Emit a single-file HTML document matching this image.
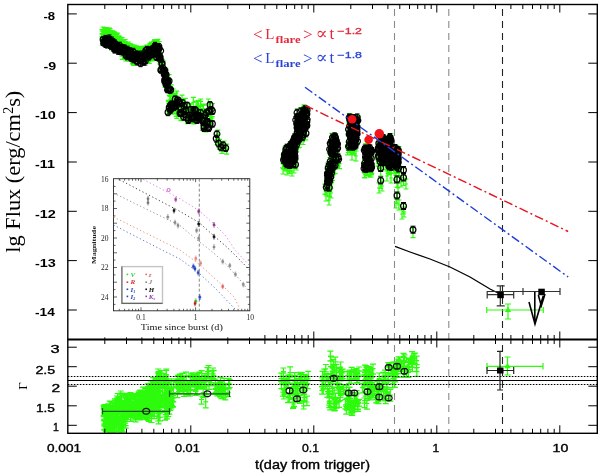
<!DOCTYPE html><html><head><meta charset="utf-8"><style>html,body{margin:0;padding:0;background:#fff;overflow:hidden}svg{display:block}</style></head><body>
<svg width="600" height="474" viewBox="0 0 600 474">
<rect width="600" height="474" fill="#fff"/>
<line x1="394.5" y1="9" x2="394.5" y2="433.3" stroke="#8a8a8a" stroke-width="1.1" stroke-dasharray="7 5"/>
<line x1="448.8" y1="9" x2="448.8" y2="433.3" stroke="#8a8a8a" stroke-width="1.1" stroke-dasharray="7 5"/>
<line x1="502.5" y1="9" x2="502.5" y2="433.3" stroke="#222" stroke-width="1.1" stroke-dasharray="7 5"/>
<path d="M102.1 29.6V36.7m-2.5 0h5M99.6 29.6h5M99.6 33.6h5M102.1 31V38m-2.5 0h5M99.6 31h5M99.6 34.2h5M102.2 37.5V45.2m-2.5 0h5M99.7 37.5h5M99.7 41h5M104.4 29.9V37.4m-2.5 0h5M101.9 29.9h5M101.9 33.2h5M103.5 31.9V39.2m-2.5 0h5M101 31.9h5M101 36h5M103.2 27V35.2m-2.5 0h5M100.7 27h5M100.7 31.4h5M104.1 32.4V40.6m-2.5 0h5M101.6 32.4h5M101.6 36.6h5M105.1 34.5V43m-2.5 0h5M102.6 34.5h5M102.6 38h5M104.4 27.8V35.7m-2.5 0h5M101.9 27.8h5M101.9 32.3h5M105.3 31V40.6m-2.5 0h5M102.8 31h5M102.8 35.7h5M105.7 31.7V39.2m-2.5 0h5M103.2 31.7h5M103.2 34.8h5M106.4 34.9V43.1m-2.5 0h5M103.9 34.9h5M103.9 39.5h5M106 28.4V36.3m-2.5 0h5M103.5 28.4h5M103.5 33.1h5M106.3 29.9V39.4m-2.5 0h5M103.8 29.9h5M103.8 34.7h5M105.8 38.8V46.4m-2.5 0h5M103.3 38.8h5M103.3 42.7h5M106.8 27.7V35.6m-2.5 0h5M104.3 27.7h5M104.3 31.5h5M107.4 34.6V42.8m-2.5 0h5M104.9 34.6h5M104.9 38.6h5M106.1 35.7V45m-2.5 0h5M103.6 35.7h5M103.6 40.5h5M107.5 29.7V35.8m-2.5 0h5M105 29.7h5M105 32.8h5M107 29V35.8m-2.5 0h5M104.5 29h5M104.5 32.7h5M108 40.1V46.9m-2.5 0h5M105.5 40.1h5M105.5 43.4h5M108.6 31.9V38.3m-2.5 0h5M106.1 31.9h5M106.1 35.1h5M108.1 29.6V37.6m-2.5 0h5M105.6 29.6h5M105.6 34.2h5M109.5 28.1V35.4m-2.5 0h5M107 28.1h5M107 32.2h5M109.5 32.7V40.9m-2.5 0h5M107 32.7h5M107 37.3h5M110 28.6V38.3m-2.5 0h5M107.5 28.6h5M107.5 33.6h5M110 38.6V46.6m-2.5 0h5M107.5 38.6h5M107.5 43.1h5M111.2 33.6V42.3m-2.5 0h5M108.7 33.6h5M108.7 38.5h5M109.7 30.4V37.2m-2.5 0h5M107.2 30.4h5M107.2 33.8h5M111 36.3V44.9m-2.5 0h5M108.5 36.3h5M108.5 41h5M110.7 33.5V43.1m-2.5 0h5M108.2 33.5h5M108.2 38.1h5M110.8 30.6V40m-2.5 0h5M108.3 30.6h5M108.3 35.5h5M110.3 31.9V40m-2.5 0h5M107.8 31.9h5M107.8 35.2h5M112.1 35.9V44.8m-2.5 0h5M109.6 35.9h5M109.6 39.9h5M112.5 31.7V39.7m-2.5 0h5M110 31.7h5M110 36.3h5M111.4 33.4V41.1m-2.5 0h5M108.9 33.4h5M108.9 36.9h5M112.8 32.2V40.9m-2.5 0h5M110.3 32.2h5M110.3 37h5M112.6 36.1V44.2m-2.5 0h5M110.1 36.1h5M110.1 40.2h5M112.5 30.8V37.2m-2.5 0h5M110 30.8h5M110 34.2h5M113.5 31.7V38.7m-2.5 0h5M111 31.7h5M111 35.2h5M113.4 35.6V44.3m-2.5 0h5M110.9 35.6h5M110.9 39.8h5M113.3 43.2V51.5m-2.5 0h5M110.8 43.2h5M110.8 47.5h5M114.3 31.9V41.4m-2.5 0h5M111.8 31.9h5M111.8 36.8h5M113.4 32V39.1m-2.5 0h5M110.9 32h5M110.9 35.9h5M113.3 34.1V43m-2.5 0h5M110.8 34.1h5M110.8 38.4h5M115 33.3V42.9m-2.5 0h5M112.5 33.3h5M112.5 38.3h5M114.9 32.6V40.3m-2.5 0h5M112.4 32.6h5M112.4 36.6h5M114.6 33.9V41.4m-2.5 0h5M112.1 33.9h5M112.1 38.3h5M115 39.4V46m-2.5 0h5M112.5 39.4h5M112.5 42.9h5M115.3 38.3V45.4m-2.5 0h5M112.8 38.3h5M112.8 41.5h5M116.4 45.8V52.6m-2.5 0h5M113.9 45.8h5M113.9 49.3h5M117.2 37.9V45.8m-2.5 0h5M114.7 37.9h5M114.7 41.1h5M117.3 33.1V40.7m-2.5 0h5M114.8 33.1h5M114.8 37h5M117.5 41.2V47.9m-2.5 0h5M115 41.2h5M115 44.7h5M117.4 35.9V42.9m-2.5 0h5M114.9 35.9h5M114.9 39.2h5M116.9 34.3V41.8m-2.5 0h5M114.4 34.3h5M114.4 37.3h5M116.8 41.4V50.2m-2.5 0h5M114.3 41.4h5M114.3 45.3h5M118.2 36.3V45.6m-2.5 0h5M115.7 36.3h5M115.7 40.6h5M118.9 35.9V44.6m-2.5 0h5M116.4 35.9h5M116.4 40.3h5M117.9 40.8V47.2m-2.5 0h5M115.4 40.8h5M115.4 43.9h5M119.7 39.8V47.7m-2.5 0h5M117.2 39.8h5M117.2 44.1h5M118.6 36.4V43.7m-2.5 0h5M116.1 36.4h5M116.1 40.3h5M118.5 40.3V50.2m-2.5 0h5M116 40.3h5M116 45.2h5M119.8 37.8V44.3m-2.5 0h5M117.3 37.8h5M117.3 40.8h5M119.6 37.1V43.2m-2.5 0h5M117.1 37.1h5M117.1 40.1h5M119.3 39.8V48m-2.5 0h5M116.8 39.8h5M116.8 43.9h5M119.7 39.4V48.8m-2.5 0h5M117.2 39.4h5M117.2 44h5M121.1 39.3V47.2m-2.5 0h5M118.6 39.3h5M118.6 43.9h5M120.6 43V52.3m-2.5 0h5M118.1 43h5M118.1 47.7h5M122.1 37.6V46m-2.5 0h5M119.6 37.6h5M119.6 41.8h5M121.8 40.5V47.5m-2.5 0h5M119.3 40.5h5M119.3 44.5h5M121.9 48.1V56.2m-2.5 0h5M119.4 48.1h5M119.4 52.1h5M122.2 43.1V50.8m-2.5 0h5M119.7 43.1h5M119.7 46.9h5M122.7 41.2V49.7m-2.5 0h5M120.2 41.2h5M120.2 45.4h5M121.5 39.5V47.5m-2.5 0h5M119 39.5h5M119 43h5M123.4 41.6V49.5m-2.5 0h5M120.9 41.6h5M120.9 45.9h5M122.9 41.3V48.4m-2.5 0h5M120.4 41.3h5M120.4 45.2h5M122.4 49.5V59.3m-2.5 0h5M119.9 49.5h5M119.9 54.4h5M123.2 39.9V48.2m-2.5 0h5M120.7 39.9h5M120.7 44.8h5M123.1 42V51m-2.5 0h5M120.6 42h5M120.6 46.1h5M124.4 41.3V50.1m-2.5 0h5M121.9 41.3h5M121.9 45.3h5M124.3 41.1V49.5m-2.5 0h5M121.8 41.1h5M121.8 44.8h5M125.1 39.5V47.5m-2.5 0h5M122.6 39.5h5M122.6 44.2h5M125 51V59.4m-2.5 0h5M122.5 51h5M122.5 55.8h5M125 43.2V51.6m-2.5 0h5M122.5 43.2h5M122.5 48.1h5M125.4 42.4V49.5m-2.5 0h5M122.9 42.4h5M122.9 45.8h5M126.2 52.1V61m-2.5 0h5M123.7 52.1h5M123.7 56.7h5M125.3 41.5V49.6m-2.5 0h5M122.8 41.5h5M122.8 46.4h5M125.9 43.5V51.6m-2.5 0h5M123.4 43.5h5M123.4 47.1h5M125.7 53.1V61m-2.5 0h5M123.2 53.1h5M123.2 57.4h5M126.9 46.3V52.9m-2.5 0h5M124.4 46.3h5M124.4 49.5h5M126.7 43V49.6m-2.5 0h5M124.2 43h5M124.2 46.2h5M127.1 44.2V53.5m-2.5 0h5M124.6 44.2h5M124.6 49h5M128.1 43.4V51.6m-2.5 0h5M125.6 43.4h5M125.6 48.2h5M127.3 43.5V51.2m-2.5 0h5M124.8 43.5h5M124.8 47.3h5M128.5 53.4V61.2m-2.5 0h5M126 53.4h5M126 58.1h5M128.4 42V51.5m-2.5 0h5M125.9 42h5M125.9 46.9h5M129.5 46.4V53.1m-2.5 0h5M127 46.4h5M127 49.9h5M128.6 44.4V53.7m-2.5 0h5M126.1 44.4h5M126.1 48.8h5M129 46.3V53.1m-2.5 0h5M126.5 46.3h5M126.5 49.6h5M129.8 46.3V52.7m-2.5 0h5M127.3 46.3h5M127.3 49.6h5M129.6 50.1V57.3m-2.5 0h5M127.1 50.1h5M127.1 53.8h5M131.1 44.4V52.4m-2.5 0h5M128.6 44.4h5M128.6 48.8h5M130.2 43.7V51.9m-2.5 0h5M127.7 43.7h5M127.7 48h5M130.5 46.2V54.5m-2.5 0h5M128 46.2h5M128 51.1h5M131.5 47V54.4m-2.5 0h5M129 47h5M129 51h5M130.6 46.9V55m-2.5 0h5M128.1 46.9h5M128.1 51.5h5M131.5 47.5V56m-2.5 0h5M129 47.5h5M129 51.1h5M131.1 48.6V54.8m-2.5 0h5M128.6 48.6h5M128.6 51.7h5M132.6 45.2V54.4m-2.5 0h5M130.1 45.2h5M130.1 49.9h5M132.7 57V64.1m-2.5 0h5M130.2 57h5M130.2 60.7h5M132.3 44.9V53.1m-2.5 0h5M129.8 44.9h5M129.8 49.8h5M132 48.1V56.4m-2.5 0h5M129.5 48.1h5M129.5 51.8h5M132.5 55.8V62.8m-2.5 0h5M130 55.8h5M130 58.9h5M132.5 46.3V54.2m-2.5 0h5M130 46.3h5M130 49.4h5M133.9 45.2V53.7m-2.5 0h5M131.4 45.2h5M131.4 50h5M134.3 48.3V56.1m-2.5 0h5M131.8 48.3h5M131.8 52.6h5M134.2 45.2V55.1m-2.5 0h5M131.7 45.2h5M131.7 50.2h5M133.7 46.7V54.5m-2.5 0h5M131.2 46.7h5M131.2 50.6h5M133.6 56.2V65.3m-2.5 0h5M131.1 56.2h5M131.1 60.8h5M134.5 48.5V54.7m-2.5 0h5M132 48.5h5M132 51.7h5M134.7 46.2V55.9m-2.5 0h5M132.2 46.2h5M132.2 51.2h5M134.5 58.7V65m-2.5 0h5M132 58.7h5M132 61.9h5M135 47V55.2m-2.5 0h5M132.5 47h5M132.5 51.6h5M135.5 46.9V54.8m-2.5 0h5M133 46.9h5M133 51.4h5M135.3 49.8V57.9m-2.5 0h5M132.8 49.8h5M132.8 53.1h5M136.5 45.9V55.2m-2.5 0h5M134 45.9h5M134 50.6h5M135.7 48.8V55.6m-2.5 0h5M133.2 48.8h5M133.2 52.4h5M137.5 48.5V57.5m-2.5 0h5M135 48.5h5M135 52.7h5M137.1 47.8V54.5m-2.5 0h5M134.6 47.8h5M134.6 51.1h5M137.6 46.8V54.5m-2.5 0h5M135.1 46.8h5M135.1 51.1h5M137.1 46.4V54.1m-2.5 0h5M134.6 46.4h5M134.6 50.7h5M138 46.9V55.3m-2.5 0h5M135.5 46.9h5M135.5 51h5M137.5 46.6V54.8m-2.5 0h5M135 46.6h5M135 51h5M137.8 49.4V58m-2.5 0h5M135.3 49.4h5M135.3 54.3h5M139.8 46.9V55.4m-2.5 0h5M137.3 46.9h5M137.3 50.7h5M139.8 47.5V54.8m-2.5 0h5M137.3 47.5h5M137.3 51.5h5M139.1 46.6V55.7m-2.5 0h5M136.6 46.6h5M136.6 50.9h5M139.8 46.3V54.4m-2.5 0h5M137.3 46.3h5M137.3 51.1h5M140.4 46.6V54.9m-2.5 0h5M137.9 46.6h5M137.9 51.5h5M140.7 47.4V56.3m-2.5 0h5M138.2 47.4h5M138.2 52.3h5M139.9 47.3V55.3m-2.5 0h5M137.4 47.3h5M137.4 51.9h5M141.3 46.6V54.6m-2.5 0h5M138.8 46.6h5M138.8 51.2h5M140.4 49.4V57.2m-2.5 0h5M137.9 49.4h5M137.9 53.5h5M141.9 48.3V56m-2.5 0h5M139.4 48.3h5M139.4 51.3h5M141.6 46.6V55m-2.5 0h5M139.1 46.6h5M139.1 50.7h5M141.2 50.3V58.3m-2.5 0h5M138.7 50.3h5M138.7 54.5h5M141.6 47.1V54.3m-2.5 0h5M139.1 47.1h5M139.1 51.1h5M142.1 47.5V54.5m-2.5 0h5M139.6 47.5h5M139.6 50.7h5M141.3 52.6V60m-2.5 0h5M138.8 52.6h5M138.8 56.8h5M143.5 46.9V54.9m-2.5 0h5M141 46.9h5M141 51.5h5M143 46.6V56.3m-2.5 0h5M140.5 46.6h5M140.5 51.5h5M143.6 47.6V55.6m-2.5 0h5M141.1 47.6h5M141.1 52.4h5M143.3 46.6V54.2m-2.5 0h5M140.8 46.6h5M140.8 50.6h5M143.2 47.1V55.3m-2.5 0h5M140.7 47.1h5M140.7 50.4h5M144.6 55V62.9m-2.5 0h5M142.1 55h5M142.1 58.3h5M144.8 46V54m-2.5 0h5M142.3 46h5M142.3 50.8h5M144.9 47.3V55.7m-2.5 0h5M142.4 47.3h5M142.4 51.1h5M145.6 49.2V57.1m-2.5 0h5M143.1 49.2h5M143.1 53.3h5M145.7 46.9V53.5m-2.5 0h5M143.2 46.9h5M143.2 50.5h5M144.7 46V54.1m-2.5 0h5M142.2 46h5M142.2 50.2h5M146.2 52.6V59.3m-2.5 0h5M143.7 52.6h5M143.7 55.9h5M146.4 46.1V53.3m-2.5 0h5M143.9 46.1h5M143.9 50h5M145.7 47V53.5m-2.5 0h5M143.2 47h5M143.2 50.3h5M146.9 52.4V60.8m-2.5 0h5M144.4 52.4h5M144.4 57h5M146.9 45V54.3m-2.5 0h5M144.4 45h5M144.4 49.8h5M147.8 46.7V53.9m-2.5 0h5M145.3 46.7h5M145.3 49.8h5M146.5 51V58.7m-2.5 0h5M144 51h5M144 54.1h5M147.8 45.3V54.3m-2.5 0h5M145.3 45.3h5M145.3 49.6h5M147.4 46V52.7m-2.5 0h5M144.9 46h5M144.9 49.6h5M148.4 54.5V61.9m-2.5 0h5M145.9 54.5h5M145.9 58.9h5M149.1 45V54.1m-2.5 0h5M146.6 45h5M146.6 49.4h5M148.1 45.3V53.3m-2.5 0h5M145.6 45.3h5M145.6 49.4h5M148.6 54V61.8m-2.5 0h5M146.1 54h5M146.1 57.5h5M150.2 45.5V52.7m-2.5 0h5M147.7 45.5h5M147.7 49.2h5M149.7 44.9V53.6m-2.5 0h5M147.2 44.9h5M147.2 49.2h5M149.3 54.4V63.5m-2.5 0h5M146.8 54.4h5M146.8 59.1h5M149.3 45.6V53.7m-2.5 0h5M146.8 45.6h5M146.8 48.8h5M149.5 45.8V51.9m-2.5 0h5M147 45.8h5M147 48.8h5M150.5 51.5V60.3m-2.5 0h5M148 51.5h5M148 55.8h5M150.1 43.3V52.9m-2.5 0h5M147.6 43.3h5M147.6 48h5M150.2 44.6V51.3m-2.5 0h5M147.7 44.6h5M147.7 48.1h5M151.7 43.7V52.6m-2.5 0h5M149.2 43.7h5M149.2 48.3h5M151.3 43.6V51.6m-2.5 0h5M148.8 43.6h5M148.8 47.1h5M151.4 42.2V51.2m-2.5 0h5M148.9 42.2h5M148.9 47.2h5M152 54V60.9m-2.5 0h5M149.5 54h5M149.5 57.1h5M151.6 42.9V50.8m-2.5 0h5M149.1 42.9h5M149.1 46.3h5M151.6 42.5V50.4m-2.5 0h5M149.1 42.5h5M149.1 46.4h5M152 52.2V59.9m-2.5 0h5M149.5 52.2h5M149.5 56.2h5M154 41.1V50.1m-2.5 0h5M151.5 41.1h5M151.5 45.5h5M153.1 42V49.6m-2.5 0h5M150.6 42h5M150.6 45.8h5M152.6 52.4V60.3m-2.5 0h5M150.1 52.4h5M150.1 57.2h5M153.7 41.5V49.4m-2.5 0h5M151.2 41.5h5M151.2 45.4h5M154.7 41V49m-2.5 0h5M152.2 41h5M152.2 45.3h5M153.5 44.5V53.5m-2.5 0h5M151 44.5h5M151 49.2h5M154.6 39.6V48.7m-2.5 0h5M152.1 39.6h5M152.1 44h5M154.3 40.5V47.6m-2.5 0h5M151.8 40.5h5M151.8 44h5M154.3 47.8V54.9m-2.5 0h5M151.8 47.8h5M151.8 51.5h5M155.2 40V47.5m-2.5 0h5M152.7 40h5M152.7 44.3h5M155.6 40.9V47.8m-2.5 0h5M153.1 40.9h5M153.1 44h5M156.2 51.3V59.6m-2.5 0h5M153.7 51.3h5M153.7 55.3h5M156.1 39.8V49m-2.5 0h5M153.6 39.8h5M153.6 44.3h5M157 40.2V49.2m-2.5 0h5M154.5 40.2h5M154.5 44.9h5M156.5 49.4V57.3m-2.5 0h5M154 49.4h5M154 53.1h5M157.2 40V48.2m-2.5 0h5M154.7 40h5M154.7 44h5M157.8 39.4V47.6m-2.5 0h5M155.3 39.4h5M155.3 44.3h5M158 49.4V57.1m-2.5 0h5M155.5 49.4h5M155.5 53.2h5M167.7 83.8V91.8m-2.5 0h5M165.2 83.8h5M165.7 87.8h4M169.1 74.6V82.6m-2.5 0h5M166.6 74.6h5M167.1 78.6h4M164.1 67.5V75.5m-2.5 0h5M161.6 67.5h5M162.1 71.5h4M166.2 69.9V77.9m-2.5 0h5M163.7 69.9h5M164.2 73.9h4M168.5 84V92m-2.5 0h5M166 84h5M166.5 88h4M165.6 75.2V83.2m-2.5 0h5M163.1 75.2h5M163.6 79.2h4M156.8 40.7V48.7m-2.5 0h5M154.3 40.7h5M154.8 44.7h4M162.3 59.4V67.4m-2.5 0h5M159.8 59.4h5M160.3 63.4h4M159.9 55.8V63.8m-2.5 0h5M157.4 55.8h5M157.9 59.8h4M162.1 64.6V72.6m-2.5 0h5M159.6 64.6h5M160.1 68.6h4M158.9 52.6V60.6m-2.5 0h5M156.4 52.6h5M156.9 56.6h4M164.4 68.5V76.5m-2.5 0h5M161.9 68.5h5M162.4 72.5h4M169.3 87.3V95.3m-2.5 0h5M166.8 87.3h5M167.3 91.3h4M166.9 78.8V86.8m-2.5 0h5M164.4 78.8h5M164.9 82.8h4M160.4 48.9V56.9m-2.5 0h5M157.9 48.9h5M158.4 52.9h4M159.7 52.9V60.9m-2.5 0h5M157.2 52.9h5M157.7 56.9h4M157.8 48.2V56.2m-2.5 0h5M155.3 48.2h5M155.8 52.2h4M159.5 51.8V59.8m-2.5 0h5M157 51.8h5M157.5 55.8h4M165 72.9V80.9m-2.5 0h5M162.5 72.9h5M163 76.9h4M166.5 82.7V90.7m-2.5 0h5M164 82.7h5M164.5 86.7h4M165.8 77.9V85.9m-2.5 0h5M163.3 77.9h5M163.8 81.9h4M156 42.6V50.6m-2.5 0h5M153.5 42.6h5M154 46.6h4M157.9 50.9V58.9m-2.5 0h5M155.4 50.9h5M155.9 54.9h4M165.3 79.1V87.1m-2.5 0h5M162.8 79.1h5M163.3 83.1h4M166.2 78.1V86.1m-2.5 0h5M163.7 78.1h5M164.2 82.1h4M168.5 78.7V86.7m-2.5 0h5M166 78.7h5M166.5 82.7h4M166.7 79.8V87.8m-2.5 0h5M164.2 79.8h5M164.7 83.8h4M166.6 75.5V83.5m-2.5 0h5M164.1 75.5h5M164.6 79.5h4M158.7 53.1V61.1m-2.5 0h5M156.2 53.1h5M156.7 57.1h4M157.2 43.6V51.6m-2.5 0h5M154.7 43.6h5M155.2 47.6h4M163.7 61V69m-2.5 0h5M161.2 61h5M161.7 65h4M167.8 80.7V88.7m-2.5 0h5M165.3 80.7h5M165.8 84.7h4M167.1 82.4V90.4m-2.5 0h5M164.6 82.4h5M165.1 86.4h4M159.3 41.6V49.6m-2.5 0h5M156.8 41.6h5M157.3 45.6h4M165.8 68V76m-2.5 0h5M163.3 68h5M163.8 72h4M170 88.5V96.5m-2.5 0h5M167.5 88.5h5M168 92.5h4M159.1 41.6V49.6m-2.5 0h5M156.6 41.6h5M157.1 45.6h4M167.5 80.8V88.8m-2.5 0h5M165 80.8h5M165.5 84.8h4M165.1 76V84m-2.5 0h5M162.6 76h5M163.1 80h4M164.4 68.5V76.5m-2.5 0h5M161.9 68.5h5M162.4 72.5h4M161.8 59.6V67.6m-2.5 0h5M159.3 59.6h5M159.8 63.6h4M171.3 84.8V92.8m-2.5 0h5M168.8 84.8h5M169.3 88.8h4M160.6 56.4V64.4m-2.5 0h5M158.1 56.4h5M158.6 60.4h4M165 79.4V87.4m-2.5 0h5M162.5 79.4h5M163 83.4h4M160.4 63.1V71.1m-2.5 0h5M157.9 63.1h5M158.4 67.1h4M168.3 100.4V110.4m-2.5 0h5M165.8 100.4h5M166.3 105.4h4M168.8 103.6V113.6m-2.5 0h5M166.3 103.6h5M166.8 108.6h4M169.4 101.9V111.9m-2.5 0h5M166.9 101.9h5M167.4 106.9h4M168.6 101.6V111.6m-2.5 0h5M166.1 101.6h5M166.6 106.6h4M169.8 90.9V100.9m-2.5 0h5M167.3 90.9h5M167.8 95.9h4M170.9 89.7V99.7m-2.5 0h5M168.4 89.7h5M168.9 94.7h4M172.2 104.1V114.1m-2.5 0h5M169.7 104.1h5M170.2 109.1h4M171.1 99.2V109.2m-2.5 0h5M168.6 99.2h5M169.1 104.2h4M172.7 94.5V104.5m-2.5 0h5M170.2 94.5h5M170.7 99.5h4M173.7 100.6V110.6m-2.5 0h5M171.2 100.6h5M171.7 105.6h4M173.2 89V99m-2.5 0h5M170.7 89h5M171.2 94h4M174.2 103.8V113.8m-2.5 0h5M171.7 103.8h5M172.2 108.8h4M175.4 95.7V105.7m-2.5 0h5M172.9 95.7h5M173.4 100.7h4M176.2 106.3V116.3m-2.5 0h5M173.7 106.3h5M174.2 111.3h4M176.7 91.1V101.1m-2.5 0h5M174.2 91.1h5M174.7 96.1h4M175.7 93.2V103.2m-2.5 0h5M173.2 93.2h5M173.7 98.2h4M176.8 103V113m-2.5 0h5M174.3 103h5M174.8 108h4M176.8 108.4V118.4m-2.5 0h5M174.3 108.4h5M174.8 113.4h4M178.3 104.5V114.5m-2.5 0h5M175.8 104.5h5M176.3 109.5h4M178.2 104.8V114.8m-2.5 0h5M175.7 104.8h5M176.2 109.8h4M180.7 105.2V115.2m-2.5 0h5M178.2 105.2h5M178.7 110.2h4M179.2 105.5V115.5m-2.5 0h5M176.7 105.5h5M177.2 110.5h4M180.7 110.1V120.1m-2.5 0h5M178.2 110.1h5M178.7 115.1h4M181.6 110.7V120.7m-2.5 0h5M179.1 110.7h5M179.6 115.7h4M183 105.7V115.7m-2.5 0h5M180.5 105.7h5M181 110.7h4M182 95.2V105.2m-2.5 0h5M179.5 95.2h5M180 100.2h4M182.7 103.6V113.6m-2.5 0h5M180.2 103.6h5M180.7 108.6h4M183.7 101.4V111.4m-2.5 0h5M181.2 101.4h5M181.7 106.4h4M185.4 98.3V108.3m-2.5 0h5M182.9 98.3h5M183.4 103.3h4M185.1 102.2V112.2m-2.5 0h5M182.6 102.2h5M183.1 107.2h4M186.9 110.1V120.1m-2.5 0h5M184.4 110.1h5M184.9 115.1h4M186.1 110V120m-2.5 0h5M183.6 110h5M184.1 115h4M187.6 113.7V123.7m-2.5 0h5M185.1 113.7h5M185.6 118.7h4M186.9 111V121m-2.5 0h5M184.4 111h5M184.9 116h4M188 106.9V116.9m-2.5 0h5M185.5 106.9h5M186 111.9h4M189.2 103.7V113.7m-2.5 0h5M186.7 103.7h5M187.2 108.7h4M190.4 107V117m-2.5 0h5M187.9 107h5M188.4 112h4M189.2 110.9V120.9m-2.5 0h5M186.7 110.9h5M187.2 115.9h4M191 103.8V113.8m-2.5 0h5M188.5 103.8h5M189 108.8h4M191.6 111.2V121.2m-2.5 0h5M189.1 111.2h5M189.6 116.2h4M192.7 111.3V121.3m-2.5 0h5M190.2 111.3h5M190.7 116.3h4M191.5 106.7V116.7m-2.5 0h5M189 106.7h5M189.5 111.7h4M192.9 113.4V123.4m-2.5 0h5M190.4 113.4h5M190.9 118.4h4M193.3 97.4V107.4m-2.5 0h5M190.8 97.4h5M191.3 102.4h4M193.9 113.9V123.9m-2.5 0h5M191.4 113.9h5M191.9 118.9h4M194.8 107.6V117.6m-2.5 0h5M192.3 107.6h5M192.8 112.6h4M196.1 101.1V111.1m-2.5 0h5M193.6 101.1h5M194.1 106.1h4M195.5 111.7V121.7m-2.5 0h5M193 111.7h5M193.5 116.7h4M196.3 112.1V122.1m-2.5 0h5M193.8 112.1h5M194.3 117.1h4M197.6 108.3V118.3m-2.5 0h5M195.1 108.3h5M195.6 113.3h4M197.4 109.2V119.2m-2.5 0h5M194.9 109.2h5M195.4 114.2h4M197.4 101V111m-2.5 0h5M194.9 101h5M195.4 106h4M199.2 106.1V116.1m-2.5 0h5M196.7 106.1h5M197.2 111.1h4M198.3 100.7V110.7m-2.5 0h5M195.8 100.7h5M196.3 105.7h4M201 111.7V121.7m-2.5 0h5M198.5 111.7h5M199 116.7h4M200.6 101.4V111.4m-2.5 0h5M198.1 101.4h5M198.6 106.4h4M200.7 99V109m-2.5 0h5M198.2 99h5M198.7 104h4M202.3 120.4V130.4m-2.5 0h5M199.8 120.4h5M200.3 125.4h4M203.4 105V115m-2.5 0h5M200.9 105h5M201.4 110h4M203.7 108.6V118.6m-2.5 0h5M201.2 108.6h5M201.7 113.6h4M203.1 105.4V115.4m-2.5 0h5M200.6 105.4h5M201.1 110.4h4M203.4 104.2V114.2m-2.5 0h5M200.9 104.2h5M201.4 109.2h4M205.9 112.9V122.9m-2.5 0h5M203.4 112.9h5M203.9 117.9h4M206.1 110.6V120.6m-2.5 0h5M203.6 110.6h5M204.1 115.6h4M205.6 108.6V118.6m-2.5 0h5M203.1 108.6h5M203.6 113.6h4M205.9 121.9V131.9m-2.5 0h5M203.4 121.9h5M203.9 126.9h4M207.4 114.6V124.6m-2.5 0h5M204.9 114.6h5M205.4 119.6h4M206.9 109.3V119.3m-2.5 0h5M204.4 109.3h5M204.9 114.3h4M208.3 99V109m-2.5 0h5M205.8 99h5M206.3 104h4M209.6 106.5V116.5m-2.5 0h5M207.1 106.5h5M207.6 111.5h4M210.4 116.5V126.5m-2.5 0h5M207.9 116.5h5M208.4 121.5h4M211 113.1V123.1m-2.5 0h5M208.5 113.1h5M209 118.1h4M212.1 116.5V126.5m-2.5 0h5M209.6 116.5h5M210.1 121.5h4M210.8 114.7V124.7m-2.5 0h5M208.3 114.7h5M208.8 119.7h4M211.9 108V118m-2.5 0h5M209.4 108h5M209.9 113h4M212.4 103.7V113.7m-2.5 0h5M209.9 103.7h5M210.4 108.7h4M217.2 134.6V144.6m-2.5 0h5M214.7 134.6h5M215.2 139.6h4M219.6 139.4V149.4m-2.5 0h5M217.1 139.4h5M217.6 144.4h4M222 143.3V153.3m-2.5 0h5M219.5 143.3h5M220 148.3h4M226.7 144.1V154.1m-2.5 0h5M224.2 144.1h5M224.7 149.1h4M218 130V140m-2.5 0h5M215.5 130h5M216 135h4M224 141V151m-2.5 0h5M221.5 141h5M222 146h4M297.7 116.8V126.8m-2.5 0h5M295.2 116.8h5M295.7 121.8h4M304 104.9V114.9m-2.5 0h5M301.5 104.9h5M302 109.9h4M286.8 160.3V170.3m-2.5 0h5M284.3 160.3h5M284.8 165.3h4M285.1 154.3V164.3m-2.5 0h5M282.6 154.3h5M283.1 159.3h4M293.8 158.3V168.3m-2.5 0h5M291.3 158.3h5M291.8 163.3h4M304.9 126.2V136.2m-2.5 0h5M302.4 126.2h5M302.9 131.2h4M297.3 115.6V125.6m-2.5 0h5M294.8 115.6h5M295.3 120.6h4M294.9 136.3V146.3m-2.5 0h5M292.4 136.3h5M292.9 141.3h4M296.8 131.3V141.3m-2.5 0h5M294.3 131.3h5M294.8 136.3h4M297.4 124.3V134.3m-2.5 0h5M294.9 124.3h5M295.4 129.3h4M285.8 154.9V164.9m-2.5 0h5M283.3 154.9h5M283.8 159.9h4M290.9 156.5V166.5m-2.5 0h5M288.4 156.5h5M288.9 161.5h4M297.9 121.9V131.9m-2.5 0h5M295.4 121.9h5M295.9 126.9h4M296.3 160V170m-2.5 0h5M293.8 160h5M294.3 165h4M305 123.8V133.8m-2.5 0h5M302.5 123.8h5M303 128.8h4M305.9 124.5V134.5m-2.5 0h5M303.4 124.5h5M303.9 129.5h4M296.1 127.3V137.3m-2.5 0h5M293.6 127.3h5M294.1 132.3h4M295.1 138V148m-2.5 0h5M292.6 138h5M293.1 143h4M301.6 117.1V127.1m-2.5 0h5M299.1 117.1h5M299.6 122.1h4M291.7 147.5V157.5m-2.5 0h5M289.2 147.5h5M289.7 152.5h4M303.1 110.3V120.3m-2.5 0h5M300.6 110.3h5M301.1 115.3h4M303.2 119.6V129.6m-2.5 0h5M300.7 119.6h5M301.2 124.6h4M292.8 140.3V150.3m-2.5 0h5M290.3 140.3h5M290.8 145.3h4M302.7 130.9V140.9m-2.5 0h5M300.2 130.9h5M300.7 135.9h4M305.9 125.2V135.2m-2.5 0h5M303.4 125.2h5M303.9 130.2h4M307 109.2V119.2m-2.5 0h5M304.5 109.2h5M305 114.2h4M298.3 120.7V130.7m-2.5 0h5M295.8 120.7h5M296.3 125.7h4M300.2 113.2V123.2m-2.5 0h5M297.7 113.2h5M298.2 118.2h4M297.5 133.7V143.7m-2.5 0h5M295 133.7h5M295.5 138.7h4M294.6 145.6V155.6m-2.5 0h5M292.1 145.6h5M292.6 150.6h4M290 144.1V154.1m-2.5 0h5M287.5 144.1h5M288 149.1h4M294.9 155.4V165.4m-2.5 0h5M292.4 155.4h5M292.9 160.4h4M296.8 138.5V148.5m-2.5 0h5M294.3 138.5h5M294.8 143.5h4M296.9 117.8V127.8m-2.5 0h5M294.4 117.8h5M294.9 122.8h4M283.5 153.3V163.3m-2.5 0h5M281 153.3h5M281.5 158.3h4M295.9 117.8V127.8m-2.5 0h5M293.4 117.8h5M293.9 122.8h4M298.6 137.6V147.6m-2.5 0h5M296.1 137.6h5M296.6 142.6h4M285.1 146.6V156.6m-2.5 0h5M282.6 146.6h5M283.1 151.6h4M296 134.1V144.1m-2.5 0h5M293.5 134.1h5M294 139.1h4M303.5 112.4V122.4m-2.5 0h5M301 112.4h5M301.5 117.4h4M296.4 140.2V150.2m-2.5 0h5M293.9 140.2h5M294.4 145.2h4M287.8 160.7V170.7m-2.5 0h5M285.3 160.7h5M285.8 165.7h4M297.8 137.3V147.3m-2.5 0h5M295.3 137.3h5M295.8 142.3h4M297.9 125.1V135.1m-2.5 0h5M295.4 125.1h5M295.9 130.1h4M293.9 163V173m-2.5 0h5M291.4 163h5M291.9 168h4M284.4 156.3V166.3m-2.5 0h5M281.9 156.3h5M282.4 161.3h4M286.1 159.5V169.5m-2.5 0h5M283.6 159.5h5M284.1 164.5h4M300.7 126.6V136.6m-2.5 0h5M298.2 126.6h5M298.7 131.6h4M293.7 137.1V147.1m-2.5 0h5M291.2 137.1h5M291.7 142.1h4M295.1 151.5V161.5m-2.5 0h5M292.6 151.5h5M293.1 156.5h4M293.2 156.7V166.7m-2.5 0h5M290.7 156.7h5M291.2 161.7h4M303 121.6V131.6m-2.5 0h5M300.5 121.6h5M301 126.6h4M290.4 158.4V168.4m-2.5 0h5M287.9 158.4h5M288.4 163.4h4M305.6 129.8V139.8m-2.5 0h5M303.1 129.8h5M303.6 134.8h4M290.3 145V155m-2.5 0h5M287.8 145h5M288.3 150h4M296.2 135.4V145.4m-2.5 0h5M293.7 135.4h5M294.2 140.4h4M296.3 113.8V123.8m-2.5 0h5M293.8 113.8h5M294.3 118.8h4M298.2 127.2V137.2m-2.5 0h5M295.7 127.2h5M296.2 132.2h4M299.3 137.4V147.4m-2.5 0h5M296.8 137.4h5M297.3 142.4h4M291 142.7V152.7m-2.5 0h5M288.5 142.7h5M289 147.7h4M297.4 136.2V146.2m-2.5 0h5M294.9 136.2h5M295.4 141.2h4M298.1 119.5V129.5m-2.5 0h5M295.6 119.5h5M296.1 124.5h4M292.3 141.1V151.1m-2.5 0h5M289.8 141.1h5M290.3 146.1h4M302.1 118.8V128.8m-2.5 0h5M299.6 118.8h5M300.1 123.8h4M287.2 160.1V170.1m-2.5 0h5M284.7 160.1h5M285.2 165.1h4M306.3 108.1V118.1m-2.5 0h5M303.8 108.1h5M304.3 113.1h4M300.9 126.3V136.3m-2.5 0h5M298.4 126.3h5M298.9 131.3h4M307.4 117.4V127.4m-2.5 0h5M304.9 117.4h5M305.4 122.4h4M299.9 126V136m-2.5 0h5M297.4 126h5M297.9 131h4M293.4 155.3V165.3m-2.5 0h5M290.9 155.3h5M291.4 160.3h4M292.8 149.5V159.5m-2.5 0h5M290.3 149.5h5M290.8 154.5h4M294.2 148V158m-2.5 0h5M291.7 148h5M292.2 153h4M305.4 106.7V116.7m-2.5 0h5M302.9 106.7h5M303.4 111.7h4M290 161.8V171.8m-2.5 0h5M287.5 161.8h5M288 166.8h4M290.6 155.1V165.1m-2.5 0h5M288.1 155.1h5M288.6 160.1h4M302.5 131.6V141.6m-2.5 0h5M300 131.6h5M300.5 136.6h4M295.3 139V149m-2.5 0h5M292.8 139h5M293.3 144h4M289.5 152.5V162.5m-2.5 0h5M287 152.5h5M287.5 157.5h4M297.3 123.9V133.9m-2.5 0h5M294.8 123.9h5M295.3 128.9h4M306.6 113.1V123.1m-2.5 0h5M304.1 113.1h5M304.6 118.1h4M294.4 153.1V163.1m-2.5 0h5M291.9 153.1h5M292.4 158.1h4M282.6 157.8V167.8m-2.5 0h5M280.1 157.8h5M280.6 162.8h4M303.1 134.5V144.5m-2.5 0h5M300.6 134.5h5M301.1 139.5h4M289.4 163.3V173.3m-2.5 0h5M286.9 163.3h5M287.4 168.3h4M299.7 127.6V137.6m-2.5 0h5M297.2 127.6h5M297.7 132.6h4M291.6 157.6V167.6m-2.5 0h5M289.1 157.6h5M289.6 162.6h4M300.1 127.8V137.8m-2.5 0h5M297.6 127.8h5M298.1 132.8h4M295 155.5V165.5m-2.5 0h5M292.5 155.5h5M293 160.5h4M296.7 141.6V151.6m-2.5 0h5M294.2 141.6h5M294.7 146.6h4M285.6 154.6V164.6m-2.5 0h5M283.1 154.6h5M283.6 159.6h4M289.1 154.7V164.7m-2.5 0h5M286.6 154.7h5M287.1 159.7h4M295.4 147.1V157.1m-2.5 0h5M292.9 147.1h5M293.4 152.1h4M296.8 130.1V140.1m-2.5 0h5M294.3 130.1h5M294.8 135.1h4M295.2 135.4V145.4m-2.5 0h5M292.7 135.4h5M293.2 140.4h4M294.7 141V151m-2.5 0h5M292.2 141h5M292.7 146h4M301.3 107.9V117.9m-2.5 0h5M298.8 107.9h5M299.3 112.9h4M286.5 146.9V156.9m-2.5 0h5M284 146.9h5M284.5 151.9h4M295.4 139.3V149.3m-2.5 0h5M292.9 139.3h5M293.4 144.3h4M295.3 137.6V147.6m-2.5 0h5M292.8 137.6h5M293.3 142.6h4M289.9 160.4V170.4m-2.5 0h5M287.4 160.4h5M287.9 165.4h4M303.9 113.3V123.3m-2.5 0h5M301.4 113.3h5M301.9 118.3h4M302.5 116.6V126.6m-2.5 0h5M300 116.6h5M300.5 121.6h4M283.8 153V163m-2.5 0h5M281.3 153h5M281.8 158h4M303.4 122.9V132.9m-2.5 0h5M300.9 122.9h5M301.4 127.9h4M297.5 121.8V131.8m-2.5 0h5M295 121.8h5M295.5 126.8h4M300.4 123.8V133.8m-2.5 0h5M297.9 123.8h5M298.4 128.8h4M291.4 156.1V166.1m-2.5 0h5M288.9 156.1h5M289.4 161.1h4M291.4 143.4V153.4m-2.5 0h5M288.9 143.4h5M289.4 148.4h4M288.2 155.9V165.9m-2.5 0h5M285.7 155.9h5M286.2 160.9h4M303.4 123.5V133.5m-2.5 0h5M300.9 123.5h5M301.4 128.5h4M285.9 160.8V170.8m-2.5 0h5M283.4 160.8h5M283.9 165.8h4M299.9 118.8V128.8m-2.5 0h5M297.4 118.8h5M297.9 123.8h4M286.2 150.2V160.2m-2.5 0h5M283.7 150.2h5M284.2 155.2h4M306.8 117.3V127.3m-2.5 0h5M304.3 117.3h5M304.8 122.3h4M301.9 112.4V122.4m-2.5 0h5M299.4 112.4h5M299.9 117.4h4M297.7 109.4V119.4m-2.5 0h5M295.2 109.4h5M295.7 114.4h4M297.3 118.9V128.9m-2.5 0h5M294.8 118.9h5M295.3 123.9h4M303.6 106.7V116.7m-2.5 0h5M301.1 106.7h5M301.6 111.7h4M286.4 147.7V157.7m-2.5 0h5M283.9 147.7h5M284.4 152.7h4M301.6 115.2V125.2m-2.5 0h5M299.1 115.2h5M299.6 120.2h4M300.2 114.8V124.8m-2.5 0h5M297.7 114.8h5M298.2 119.8h4M286.6 160.2V170.2m-2.5 0h5M284.1 160.2h5M284.6 165.2h4M300.1 120.3V130.3m-2.5 0h5M297.6 120.3h5M298.1 125.3h4M337.9 145.2V155.2m-2.5 0h5M335.4 145.2h5M335.9 150.2h4M334.4 146.9V156.9m-2.5 0h5M331.9 146.9h5M332.4 151.9h4M334.2 137.1V147.1m-2.5 0h5M331.7 137.1h5M332.2 142.1h4M328.9 174.3V184.3m-2.5 0h5M326.4 174.3h5M326.9 179.3h4M332.1 147V157m-2.5 0h5M329.6 147h5M330.1 152h4M328.1 176.3V186.3m-2.5 0h5M325.6 176.3h5M326.1 181.3h4M331 161.4V171.4m-2.5 0h5M328.5 161.4h5M329 166.4h4M331.9 133.3V143.3m-2.5 0h5M329.4 133.3h5M329.9 138.3h4M328.3 173V183m-2.5 0h5M325.8 173h5M326.3 178h4M331.6 172.3V182.3m-2.5 0h5M329.1 172.3h5M329.6 177.3h4M330 147.5V157.5m-2.5 0h5M327.5 147.5h5M328 152.5h4M333.5 151.8V161.8m-2.5 0h5M331 151.8h5M331.5 156.8h4M336.9 145.8V155.8m-2.5 0h5M334.4 145.8h5M334.9 150.8h4M331.4 142.7V152.7m-2.5 0h5M328.9 142.7h5M329.4 147.7h4M326.5 169V179m-2.5 0h5M324 169h5M324.5 174h4M332 140.1V150.1m-2.5 0h5M329.5 140.1h5M330 145.1h4M334.7 150.3V160.3m-2.5 0h5M332.2 150.3h5M332.7 155.3h4M333 162.5V172.5m-2.5 0h5M330.5 162.5h5M331 167.5h4M328 170.8V180.8m-2.5 0h5M325.5 170.8h5M326 175.8h4M327.2 176V186m-2.5 0h5M324.7 176h5M325.2 181h4M327.7 163V173m-2.5 0h5M325.2 163h5M325.7 168h4M328.5 176.3V186.3m-2.5 0h5M326 176.3h5M326.5 181.3h4M335.4 137.5V147.5m-2.5 0h5M332.9 137.5h5M333.4 142.5h4M326.9 179.3V189.3m-2.5 0h5M324.4 179.3h5M324.9 184.3h4M338.6 156V166m-2.5 0h5M336.1 156h5M336.6 161h4M329.2 174.9V184.9m-2.5 0h5M326.7 174.9h5M327.2 179.9h4M329.4 172V182m-2.5 0h5M326.9 172h5M327.4 177h4M335.4 139.5V149.5m-2.5 0h5M332.9 139.5h5M333.4 144.5h4M327.9 178.2V188.2m-2.5 0h5M325.4 178.2h5M325.9 183.2h4M330.1 164.4V174.4m-2.5 0h5M327.6 164.4h5M328.1 169.4h4M332.6 150.2V160.2m-2.5 0h5M330.1 150.2h5M330.6 155.2h4M336.1 137.7V147.7m-2.5 0h5M333.6 137.7h5M334.1 142.7h4M334 147V157m-2.5 0h5M331.5 147h5M332 152h4M332.9 149V159m-2.5 0h5M330.4 149h5M330.9 154h4M331.4 162.7V172.7m-2.5 0h5M328.9 162.7h5M329.4 167.7h4M328 173.8V183.8m-2.5 0h5M325.5 173.8h5M326 178.8h4M337.3 154.9V164.9m-2.5 0h5M334.8 154.9h5M335.3 159.9h4M332.1 145.2V155.2m-2.5 0h5M329.6 145.2h5M330.1 150.2h4M331.6 146.7V156.7m-2.5 0h5M329.1 146.7h5M329.6 151.7h4M332.4 137V147m-2.5 0h5M329.9 137h5M330.4 142h4M329.2 143.2V153.2m-2.5 0h5M326.7 143.2h5M327.2 148.2h4M327.8 175.2V185.2m-2.5 0h5M325.3 175.2h5M325.8 180.2h4M329 162.2V172.2m-2.5 0h5M326.5 162.2h5M327 167.2h4M333.4 144V154m-2.5 0h5M330.9 144h5M331.4 149h4M331.8 167.7V177.7m-2.5 0h5M329.3 167.7h5M329.8 172.7h4M331 143V153m-2.5 0h5M328.5 143h5M329 148h4M330.3 172.5V182.5m-2.5 0h5M327.8 172.5h5M328.3 177.5h4M333.1 164.9V174.9m-2.5 0h5M330.6 164.9h5M331.1 169.9h4M331 173.8V183.8m-2.5 0h5M328.5 173.8h5M329 178.8h4M336.5 141V151m-2.5 0h5M334 141h5M334.5 146h4M331.9 160.5V170.5m-2.5 0h5M329.4 160.5h5M329.9 165.5h4M334.8 135.4V145.4m-2.5 0h5M332.3 135.4h5M332.8 140.4h4M332.5 170.3V180.3m-2.5 0h5M330 170.3h5M330.5 175.3h4M329.8 159.4V169.4m-2.5 0h5M327.3 159.4h5M327.8 164.4h4M334.9 135.6V145.6m-2.5 0h5M332.4 135.6h5M332.9 140.6h4M325.2 184.5V194.5m-2.5 0h5M322.7 184.5h5M323.2 189.5h4M335 143.7V153.7m-2.5 0h5M332.5 143.7h5M333 148.7h4M329.6 177.5V187.5m-2.5 0h5M327.1 177.5h5M327.6 182.5h4M329.9 167.1V177.1m-2.5 0h5M327.4 167.1h5M327.9 172.1h4M336.3 157.6V167.6m-2.5 0h5M333.8 157.6h5M334.3 162.6h4M332.1 140.9V150.9m-2.5 0h5M329.6 140.9h5M330.1 145.9h4M330.3 149.8V159.8m-2.5 0h5M327.8 149.8h5M328.3 154.8h4M339.5 158.7V168.7m-2.5 0h5M337 158.7h5M337.5 163.7h4M329.5 186.6V196.6m-2.5 0h5M327 186.6h5M327.5 191.6h4M335.7 133.8V143.8m-2.5 0h5M333.2 133.8h5M333.7 138.8h4M335.1 163.6V173.6m-2.5 0h5M332.6 163.6h5M333.1 168.6h4M333.3 145.6V155.6m-2.5 0h5M330.8 145.6h5M331.3 150.6h4M335.5 139.8V149.8m-2.5 0h5M333 139.8h5M333.5 144.8h4M329.5 167.4V177.4m-2.5 0h5M327 167.4h5M327.5 172.4h4M333.1 158.7V168.7m-2.5 0h5M330.6 158.7h5M331.1 163.7h4M337.6 139.5V149.5m-2.5 0h5M335.1 139.5h5M335.6 144.5h4M326.6 179.1V189.1m-2.5 0h5M324.1 179.1h5M324.6 184.1h4M334 144V154m-2.5 0h5M331.5 144h5M332 149h4M349.2 132.1V142.1m-2.5 0h5M346.7 132.1h5M347.2 137.1h4M351.2 116.6V126.6m-2.5 0h5M348.7 116.6h5M349.2 121.6h4M353.9 141.7V151.7m-2.5 0h5M351.4 141.7h5M351.9 146.7h4M358.3 115.9V125.9m-2.5 0h5M355.8 115.9h5M356.3 120.9h4M351.3 141.7V151.7m-2.5 0h5M348.8 141.7h5M349.3 146.7h4M355 132.8V142.8m-2.5 0h5M352.5 132.8h5M353 137.8h4M350.1 113.8V123.8m-2.5 0h5M347.6 113.8h5M348.1 118.8h4M349.7 133.4V143.4m-2.5 0h5M347.2 133.4h5M347.7 138.4h4M357.1 129.1V139.1m-2.5 0h5M354.6 129.1h5M355.1 134.1h4M357.9 129.7V139.7m-2.5 0h5M355.4 129.7h5M355.9 134.7h4M351.9 137.8V147.8m-2.5 0h5M349.4 137.8h5M349.9 142.8h4M349 140.5V150.5m-2.5 0h5M346.5 140.5h5M347 145.5h4M354.3 143.5V153.5m-2.5 0h5M351.8 143.5h5M352.3 148.5h4M354.1 115.6V125.6m-2.5 0h5M351.6 115.6h5M352.1 120.6h4M354.3 140.7V150.7m-2.5 0h5M351.8 140.7h5M352.3 145.7h4M356.5 126V136m-2.5 0h5M354 126h5M354.5 131h4M349.7 113.6V123.6m-2.5 0h5M347.2 113.6h5M347.7 118.6h4M351.3 130.5V140.5m-2.5 0h5M348.8 130.5h5M349.3 135.5h4M356.8 119.8V129.8m-2.5 0h5M354.3 119.8h5M354.8 124.8h4M356.5 138V148m-2.5 0h5M354 138h5M354.5 143h4M353.8 120.5V130.5m-2.5 0h5M351.3 120.5h5M351.8 125.5h4M350.5 116.5V126.5m-2.5 0h5M348 116.5h5M348.5 121.5h4M352.1 128V138m-2.5 0h5M349.6 128h5M350.1 133h4M357 124.2V134.2m-2.5 0h5M354.5 124.2h5M355 129.2h4M351 124.8V134.8m-2.5 0h5M348.5 124.8h5M349 129.8h4M349.4 115.6V125.6m-2.5 0h5M346.9 115.6h5M347.4 120.6h4M351.6 129.3V139.3m-2.5 0h5M349.1 129.3h5M349.6 134.3h4M350.4 131.7V141.7m-2.5 0h5M347.9 131.7h5M348.4 136.7h4M347.7 144.9V154.9m-2.5 0h5M345.2 144.9h5M345.7 149.9h4M350.7 121.5V131.5m-2.5 0h5M348.2 121.5h5M348.7 126.5h4M354.2 134V144m-2.5 0h5M351.7 134h5M352.2 139h4M354.1 117.4V127.4m-2.5 0h5M351.6 117.4h5M352.1 122.4h4M354.6 137V147m-2.5 0h5M352.1 137h5M352.6 142h4M356.7 125.1V135.1m-2.5 0h5M354.2 125.1h5M354.7 130.1h4M351.6 136.1V146.1m-2.5 0h5M349.1 136.1h5M349.6 141.1h4M354.1 130V140m-2.5 0h5M351.6 130h5M352.1 135h4M348.3 125.8V135.8m-2.5 0h5M345.8 125.8h5M346.3 130.8h4M352.5 142.9V152.9m-2.5 0h5M350 142.9h5M350.5 147.9h4M350.8 119.1V129.1m-2.5 0h5M348.3 119.1h5M348.8 124.1h4M352.4 141V151m-2.5 0h5M349.9 141h5M350.4 146h4M348.8 122.6V132.6m-2.5 0h5M346.3 122.6h5M346.8 127.6h4M355.4 125.9V135.9m-2.5 0h5M352.9 125.9h5M353.4 130.9h4M357.4 122.6V132.6m-2.5 0h5M354.9 122.6h5M355.4 127.6h4M354.8 119.1V129.1m-2.5 0h5M352.3 119.1h5M352.8 124.1h4M353 135.6V145.6m-2.5 0h5M350.5 135.6h5M351 140.6h4M356.5 127.8V137.8m-2.5 0h5M354 127.8h5M354.5 132.8h4M349.2 116.2V126.2m-2.5 0h5M346.7 116.2h5M347.2 121.2h4M351.4 121.6V131.6m-2.5 0h5M348.9 121.6h5M349.4 126.6h4M353.9 141.6V151.6m-2.5 0h5M351.4 141.6h5M351.9 146.6h4M353.2 144.9V154.9m-2.5 0h5M350.7 144.9h5M351.2 149.9h4M350.7 139.2V149.2m-2.5 0h5M348.2 139.2h5M348.7 144.2h4M357 132.7V142.7m-2.5 0h5M354.5 132.7h5M355 137.7h4M351.8 121.6V131.6m-2.5 0h5M349.3 121.6h5M349.8 126.6h4M354.5 124.4V134.4m-2.5 0h5M352 124.4h5M352.5 129.4h4M348.7 126.1V136.1m-2.5 0h5M346.2 126.1h5M346.7 131.1h4M353.5 129.1V139.1m-2.5 0h5M351 129.1h5M351.5 134.1h4M357.4 117.3V127.3m-2.5 0h5M354.9 117.3h5M355.4 122.3h4M354.6 115.3V125.3m-2.5 0h5M352.1 115.3h5M352.6 120.3h4M348.8 118.6V128.6m-2.5 0h5M346.3 118.6h5M346.8 123.6h4M356 117.4V127.4m-2.5 0h5M353.5 117.4h5M354 122.4h4M353.9 132.7V142.7m-2.5 0h5M351.4 132.7h5M351.9 137.7h4M354.9 125.5V135.5m-2.5 0h5M352.4 125.5h5M352.9 130.5h4M355.4 138.8V148.8m-2.5 0h5M352.9 138.8h5M353.4 143.8h4M352.1 143.9V153.9m-2.5 0h5M349.6 143.9h5M350.1 148.9h4M348.3 142.6V152.6m-2.5 0h5M345.8 142.6h5M346.3 147.6h4M355.5 136.6V146.6m-2.5 0h5M353 136.6h5M353.5 141.6h4M354.7 119V129m-2.5 0h5M352.2 119h5M352.7 124h4M364.5 148.6V158.6m-2.5 0h5M362 148.6h5M362.5 153.6h4M371.2 147.6V157.6m-2.5 0h5M368.7 147.6h5M369.2 152.6h4M370.7 147.5V157.5m-2.5 0h5M368.2 147.5h5M368.7 152.5h4M369.7 148.5V158.5m-2.5 0h5M367.2 148.5h5M367.7 153.5h4M368.8 157.5V167.5m-2.5 0h5M366.3 157.5h5M366.8 162.5h4M367.4 153.2V163.2m-2.5 0h5M364.9 153.2h5M365.4 158.2h4M364.8 160.4V170.4m-2.5 0h5M362.3 160.4h5M362.8 165.4h4M364.6 163.2V173.2m-2.5 0h5M362.1 163.2h5M362.6 168.2h4M371.8 163.4V173.4m-2.5 0h5M369.3 163.4h5M369.8 168.4h4M366 149.4V159.4m-2.5 0h5M363.5 149.4h5M364 154.4h4M370.4 148.8V158.8m-2.5 0h5M367.9 148.8h5M368.4 153.8h4M365.9 164.7V174.7m-2.5 0h5M363.4 164.7h5M363.9 169.7h4M370.5 164.9V174.9m-2.5 0h5M368 164.9h5M368.5 169.9h4M365.9 162.7V172.7m-2.5 0h5M363.4 162.7h5M363.9 167.7h4M365.7 164.7V174.7m-2.5 0h5M363.2 164.7h5M363.7 169.7h4M369.4 153.6V163.6m-2.5 0h5M366.9 153.6h5M367.4 158.6h4M367.4 165.9V175.9m-2.5 0h5M364.9 165.9h5M365.4 170.9h4M371.9 148.3V158.3m-2.5 0h5M369.4 148.3h5M369.9 153.3h4M365.8 143.6V153.6m-2.5 0h5M363.3 143.6h5M363.8 148.6h4M365.7 162.6V172.6m-2.5 0h5M363.2 162.6h5M363.7 167.6h4M368.6 148.2V158.2m-2.5 0h5M366.1 148.2h5M366.6 153.2h4M370.5 167.2V177.2m-2.5 0h5M368 167.2h5M368.5 172.2h4M366.5 147.1V157.1m-2.5 0h5M364 147.1h5M364.5 152.1h4M367.5 145.9V155.9m-2.5 0h5M365 145.9h5M365.5 150.9h4M365.1 146.8V156.8m-2.5 0h5M362.6 146.8h5M363.1 151.8h4M364.9 162.1V172.1m-2.5 0h5M362.4 162.1h5M362.9 167.1h4M365.8 152.7V162.7m-2.5 0h5M363.3 152.7h5M363.8 157.7h4M367.2 160.3V170.3m-2.5 0h5M364.7 160.3h5M365.2 165.3h4M371 154.5V164.5m-2.5 0h5M368.5 154.5h5M369 159.5h4M371.5 164.7V174.7m-2.5 0h5M369 164.7h5M369.5 169.7h4M365.3 146.9V156.9m-2.5 0h5M362.8 146.9h5M363.3 151.9h4M367.4 155.5V165.5m-2.5 0h5M364.9 155.5h5M365.4 160.5h4M369.8 145.9V155.9m-2.5 0h5M367.3 145.9h5M367.8 150.9h4M370.5 158.9V168.9m-2.5 0h5M368 158.9h5M368.5 163.9h4M366.8 160.2V170.2m-2.5 0h5M364.3 160.2h5M364.8 165.2h4M366.9 165.5V175.5m-2.5 0h5M364.4 165.5h5M364.9 170.5h4M371 149V159m-2.5 0h5M368.5 149h5M369 154h4M366.3 164.3V174.3m-2.5 0h5M363.8 164.3h5M364.3 169.3h4M364.8 152.3V162.3m-2.5 0h5M362.3 152.3h5M362.8 157.3h4M370.4 162.9V172.9m-2.5 0h5M367.9 162.9h5M368.4 167.9h4M369.3 151.4V161.4m-2.5 0h5M366.8 151.4h5M367.3 156.4h4M364.5 167.7V177.7m-2.5 0h5M362 167.7h5M362.5 172.7h4M369.7 154.9V164.9m-2.5 0h5M367.2 154.9h5M367.7 159.9h4M383.7 151.3V161.3m-2.5 0h5M381.2 151.3h5M381.7 156.3h4M382.4 145.2V155.2m-2.5 0h5M379.9 145.2h5M380.4 150.2h4M383.1 141.2V151.2m-2.5 0h5M380.6 141.2h5M381.1 146.2h4M380.9 149.7V159.7m-2.5 0h5M378.4 149.7h5M378.9 154.7h4M382.1 151.1V161.1m-2.5 0h5M379.6 151.1h5M380.1 156.1h4M385.5 138.2V148.2m-2.5 0h5M383 138.2h5M383.5 143.2h4M384 146V156m-2.5 0h5M381.5 146h5M382 151h4M382 156.7V166.7m-2.5 0h5M379.5 156.7h5M380 161.7h4M384 156.3V166.3m-2.5 0h5M381.5 156.3h5M382 161.3h4M383.8 153.6V163.6m-2.5 0h5M381.3 153.6h5M381.8 158.6h4M378.5 142.3V152.3m-2.5 0h5M376 142.3h5M376.5 147.3h4M380.8 147V157m-2.5 0h5M378.3 147h5M378.8 152h4M383.5 159.3V169.3m-2.5 0h5M381 159.3h5M381.5 164.3h4M383.4 155.4V165.4m-2.5 0h5M380.9 155.4h5M381.4 160.4h4M381.6 143V153m-2.5 0h5M379.1 143h5M379.6 148h4M380.1 141.5V151.5m-2.5 0h5M377.6 141.5h5M378.1 146.5h4M377.8 149.9V159.9m-2.5 0h5M375.3 149.9h5M375.8 154.9h4M380.1 143V153m-2.5 0h5M377.6 143h5M378.1 148h4M383.8 135.3V145.3m-2.5 0h5M381.3 135.3h5M381.8 140.3h4M384.6 144.4V154.4m-2.5 0h5M382.1 144.4h5M382.6 149.4h4M381.3 136.7V146.7m-2.5 0h5M378.8 136.7h5M379.3 141.7h4M381.6 143.4V153.4m-2.5 0h5M379.1 143.4h5M379.6 148.4h4M381.2 145.4V155.4m-2.5 0h5M378.7 145.4h5M379.2 150.4h4M386.2 138.7V148.7m-2.5 0h5M383.7 138.7h5M384.2 143.7h4M379.8 152.4V162.4m-2.5 0h5M377.3 152.4h5M377.8 157.4h4M382.2 146V156m-2.5 0h5M379.7 146h5M380.2 151h4M378.4 153.2V163.2m-2.5 0h5M375.9 153.2h5M376.4 158.2h4M384.5 145.9V155.9m-2.5 0h5M382 145.9h5M382.5 150.9h4M381.5 156.8V166.8m-2.5 0h5M379 156.8h5M379.5 161.8h4M383.8 154.6V164.6m-2.5 0h5M381.3 154.6h5M381.8 159.6h4M383.5 136.9V146.9m-2.5 0h5M381 136.9h5M381.5 141.9h4M378.4 151.6V161.6m-2.5 0h5M375.9 151.6h5M376.4 156.6h4M378 156.2V166.2m-2.5 0h5M375.5 156.2h5M376 161.2h4M378.8 149.7V159.7m-2.5 0h5M376.3 149.7h5M376.8 154.7h4M378.8 146.2V156.2m-2.5 0h5M376.3 146.2h5M376.8 151.2h4M386.6 151V161m-2.5 0h5M384.1 151h5M384.6 156h4M380.7 135.7V145.7m-2.5 0h5M378.2 135.7h5M378.7 140.7h4M379.7 158.3V168.3m-2.5 0h5M377.2 158.3h5M377.7 163.3h4M385 140.9V150.9m-2.5 0h5M382.5 140.9h5M383 145.9h4M378 146.8V156.8m-2.5 0h5M375.5 146.8h5M376 151.8h4M384.4 153.1V163.1m-2.5 0h5M381.9 153.1h5M382.4 158.1h4M382 135.6V145.6m-2.5 0h5M379.5 135.6h5M380 140.6h4M382.4 148.2V158.2m-2.5 0h5M379.9 148.2h5M380.4 153.2h4M385.5 137.3V147.3m-2.5 0h5M383 137.3h5M383.5 142.3h4M382.1 142.7V152.7m-2.5 0h5M379.6 142.7h5M380.1 147.7h4M380.8 141.5V151.5m-2.5 0h5M378.3 141.5h5M378.8 146.5h4M384.6 152V162m-2.5 0h5M382.1 152h5M382.6 157h4M382.3 155.7V165.7m-2.5 0h5M379.8 155.7h5M380.3 160.7h4M382.2 147.2V157.2m-2.5 0h5M379.7 147.2h5M380.2 152.2h4M382.1 138.4V148.4m-2.5 0h5M379.6 138.4h5M380.1 143.4h4M390.7 151.8V161.8m-2.5 0h5M388.2 151.8h5M388.7 156.8h4M388.1 156.1V166.1m-2.5 0h5M385.6 156.1h5M386.1 161.1h4M390.6 136V146m-2.5 0h5M388.1 136h5M388.6 141h4M391.5 136V146m-2.5 0h5M389 136h5M389.5 141h4M389.3 154.9V164.9m-2.5 0h5M386.8 154.9h5M387.3 159.9h4M388.1 136V146m-2.5 0h5M385.6 136h5M386.1 141h4M388.1 159.8V169.8m-2.5 0h5M385.6 159.8h5M386.1 164.8h4M389.1 145.4V155.4m-2.5 0h5M386.6 145.4h5M387.1 150.4h4M390.2 145.1V155.1m-2.5 0h5M387.7 145.1h5M388.2 150.1h4M388.1 163.3V173.3m-2.5 0h5M385.6 163.3h5M386.1 168.3h4M388.5 151.3V161.3m-2.5 0h5M386 151.3h5M386.5 156.3h4M390.3 148.8V158.8m-2.5 0h5M387.8 148.8h5M388.3 153.8h4M390.1 139.2V149.2m-2.5 0h5M387.6 139.2h5M388.1 144.2h4M391.3 163.3V173.3m-2.5 0h5M388.8 163.3h5M389.3 168.3h4M390.5 146.4V156.4m-2.5 0h5M388 146.4h5M388.5 151.4h4M390.2 136.9V146.9m-2.5 0h5M387.7 136.9h5M388.2 141.9h4M387.1 149.1V159.1m-2.5 0h5M384.6 149.1h5M385.1 154.1h4M390.3 163.3V173.3m-2.5 0h5M387.8 163.3h5M388.3 168.3h4M390.8 133.7V143.7m-2.5 0h5M388.3 133.7h5M388.8 138.7h4M389.2 161.9V171.9m-2.5 0h5M386.7 161.9h5M387.2 166.9h4M389 145.8V155.8m-2.5 0h5M386.5 145.8h5M387 150.8h4M387.8 158.2V168.2m-2.5 0h5M385.3 158.2h5M385.8 163.2h4M390.3 136.9V146.9m-2.5 0h5M387.8 136.9h5M388.3 141.9h4M387.7 145.8V155.8m-2.5 0h5M385.2 145.8h5M385.7 150.8h4M388.2 152.8V162.8m-2.5 0h5M385.7 152.8h5M386.2 157.8h4M389.5 143.5V153.5m-2.5 0h5M387 143.5h5M387.5 148.5h4M389.5 164.6V174.6m-2.5 0h5M387 164.6h5M387.5 169.6h4M387.3 150.3V160.3m-2.5 0h5M384.8 150.3h5M385.3 155.3h4M389.6 135.2V145.2m-2.5 0h5M387.1 135.2h5M387.6 140.2h4M388.2 148V158m-2.5 0h5M385.7 148h5M386.2 153h4M388.1 143.4V153.4m-2.5 0h5M385.6 143.4h5M386.1 148.4h4M389.2 137.4V147.4m-2.5 0h5M386.7 137.4h5M387.2 142.4h4M388.4 161.1V171.1m-2.5 0h5M385.9 161.1h5M386.4 166.1h4M390.2 156.7V166.7m-2.5 0h5M387.7 156.7h5M388.2 161.7h4M387.6 154.4V164.4m-2.5 0h5M385.1 154.4h5M385.6 159.4h4M389.2 147.6V157.6m-2.5 0h5M386.7 147.6h5M387.2 152.6h4M389.3 136.6V146.6m-2.5 0h5M386.8 136.6h5M387.3 141.6h4M389.5 156.5V166.5m-2.5 0h5M387 156.5h5M387.5 161.5h4M390.5 152.7V162.7m-2.5 0h5M388 152.7h5M388.5 157.7h4M390.4 156.5V166.5m-2.5 0h5M387.9 156.5h5M388.4 161.5h4M390.2 150V160m-2.5 0h5M387.7 150h5M388.2 155h4M395.3 152.9V162.9m-2.5 0h5M392.8 152.9h5M393.3 157.9h4M396.5 160.1V170.1m-2.5 0h5M394 160.1h5M394.5 165.1h4M394.7 147.6V157.6m-2.5 0h5M392.2 147.6h5M392.7 152.6h4M399.1 165.9V175.9m-2.5 0h5M396.6 165.9h5M397.1 170.9h4M398.4 157.2V167.2m-2.5 0h5M395.9 157.2h5M396.4 162.2h4M395.5 160.6V170.6m-2.5 0h5M393 160.6h5M393.5 165.6h4M395.3 161.3V171.3m-2.5 0h5M392.8 161.3h5M393.3 166.3h4M398.7 150.1V160.1m-2.5 0h5M396.2 150.1h5M396.7 155.1h4M398.7 150.4V160.4m-2.5 0h5M396.2 150.4h5M396.7 155.4h4M398.4 161.6V171.6m-2.5 0h5M395.9 161.6h5M396.4 166.6h4M398.4 156.5V166.5m-2.5 0h5M395.9 156.5h5M396.4 161.5h4M398.4 154V164m-2.5 0h5M395.9 154h5M396.4 159h4M398.9 146.7V156.7m-2.5 0h5M396.4 146.7h5M396.9 151.7h4M394.8 162.9V172.9m-2.5 0h5M392.3 162.9h5M392.8 167.9h4M397.3 151.4V161.4m-2.5 0h5M394.8 151.4h5M395.3 156.4h4M396.6 161.9V171.9m-2.5 0h5M394.1 161.9h5M394.6 166.9h4M398.9 159.4V169.4m-2.5 0h5M396.4 159.4h5M396.9 164.4h4M397.8 146.5V156.5m-2.5 0h5M395.3 146.5h5M395.8 151.5h4M398.4 155.5V165.5m-2.5 0h5M395.9 155.5h5M396.4 160.5h4M393.8 157.3V167.3m-2.5 0h5M391.3 157.3h5M391.8 162.3h4M396.8 153.5V163.5m-2.5 0h5M394.3 153.5h5M394.8 158.5h4M396.6 150.6V160.6m-2.5 0h5M394.1 150.6h5M394.6 155.6h4M394.4 152.6V162.6m-2.5 0h5M391.9 152.6h5M392.4 157.6h4M397.8 152.9V162.9m-2.5 0h5M395.3 152.9h5M395.8 157.9h4M395.3 158.3V168.3m-2.5 0h5M392.8 158.3h5M393.3 163.3h4M398.1 149.8V159.8m-2.5 0h5M395.6 149.8h5M396.1 154.8h4M397.7 163.7V173.7m-2.5 0h5M395.2 163.7h5M395.7 168.7h4M398.3 158.4V168.4m-2.5 0h5M395.8 158.4h5M396.3 163.4h4M397.1 149.6V159.6m-2.5 0h5M394.6 149.6h5M395.1 154.6h4M396.1 145.3V155.3m-2.5 0h5M393.6 145.3h5M394.1 150.3h4M326 191V201m-2.5 0h5M323.5 191h5M324 196h4M329 195V205m-2.5 0h5M326.5 195h5M327 200h4M331 188V198m-2.5 0h5M328.5 188h5M329 193h4M325 184V194m-2.5 0h5M322.5 184h5M323 189h4M330 181V191m-2.5 0h5M327.5 181h5M328 186h4M382 181V191m-2.5 0h5M379.5 181h5M380 186h4M379 183V193m-2.5 0h5M376.5 183h5M377 188h4M387 171V181m-2.5 0h5M384.5 171h5M385 176h4M391 173V183m-2.5 0h5M388.5 173h5M389 178h4M395 170V180m-2.5 0h5M392.5 170h5M393 175h4M398 183V193m-2.5 0h5M395.5 183h5M396 188h4M396 198V208m-2.5 0h5M393.5 198h5M394 203h4M399 200V210m-2.5 0h5M396.5 200h5M397 205h4M404 207V217m-2.5 0h5M401.5 207h5M402 212h4M402 209V219m-2.5 0h5M399.5 209h5M400 214h4M406 179V189m-2.5 0h5M403.5 179h5M404 184h4M401 177V187m-2.5 0h5M398.5 177h5M399 182h4M371 167V177m-2.5 0h5M368.5 167h5M369 172h4M365 168V178m-2.5 0h5M362.5 168h5M363 173h4M352 150V160m-2.5 0h5M349.5 150h5M350 155h4M356 151V161m-2.5 0h5M353.5 151h5M354 156h4M287 165V175m-2.5 0h5M284.5 165h5M285 170h4M292 166V176m-2.5 0h5M289.5 166h5M290 171h4M283 164V174m-2.5 0h5M280.5 164h5M281 169h4M380.7 166V176m-2.5 0h5M378.2 166h5M378.7 171h4M380.7 178.4V188.4m-2.5 0h5M378.2 178.4h5M378.7 183.4h4M397 177.4V187.4m-2.5 0h5M394.5 177.4h5M395 182.4h4M397 193.5V203.5m-2.5 0h5M394.5 193.5h5M395 198.5h4M403.5 168V178m-2.5 0h5M401 168h5M401.5 173h4M403.5 175.5V185.5m-2.5 0h5M401 175.5h5M401.5 180.5h4M403.5 204V214m-2.5 0h5M401 204h5M401.5 209h4M328 173.6V183.6m-2.5 0h5M325.5 173.6h5M326 178.6h4M327 183V193m-2.5 0h5M324.5 183h5M325 188h4M413 227.7V237.7m-2.5 0h5M410.5 227.7h5M411 232.7h4" stroke="#2cfc0c" stroke-width="1.2" fill="none"/>
<path d="M103 37V42.9m-2 0h4M101 37h4M103.8 37.8V44.3m-2 0h4M101.8 37.8h4M103.8 40.4V45.8m-2 0h4M101.8 40.4h4M104.6 39V45.7m-2 0h4M102.6 39h4M105.4 35.4V42.4m-2 0h4M103.4 35.4h4M105.4 40.3V47.2m-2 0h4M103.4 40.3h4M106.2 39.7V45.6m-2 0h4M104.2 39.7h4M106.2 35.8V42.2m-2 0h4M104.2 35.8h4M107 42.2V47.8m-2 0h4M105 42.2h4M107 36.9V43.1m-2 0h4M105 36.9h4M107.8 41.2V46.9m-2 0h4M105.8 41.2h4M107.8 40.5V45.9m-2 0h4M105.8 40.5h4M108.6 37.6V45.4m-2 0h4M106.6 37.6h4M109.4 34.9V42.6m-2 0h4M107.4 34.9h4M109.4 41.1V46.9m-2 0h4M107.4 41.1h4M110.2 39.2V44.6m-2 0h4M108.2 39.2h4M110.2 37V44.1m-2 0h4M108.2 37h4M111 42.4V49.7m-2 0h4M109 42.4h4M111 42.5V48.5m-2 0h4M109 42.5h4M111.8 37.1V44.6m-2 0h4M109.8 37.1h4M111.8 40.1V45.3m-2 0h4M109.8 40.1h4M112.6 40V46.9m-2 0h4M110.6 40h4M113.4 38.9V45.8m-2 0h4M111.4 38.9h4M113.4 40.3V47.3m-2 0h4M111.4 40.3h4M114.2 43.7V50.2m-2 0h4M112.2 43.7h4M114.2 45.1V52.8m-2 0h4M112.2 45.1h4M115 40V46.2m-2 0h4M113 40h4M115 46.1V52.9m-2 0h4M113 46.1h4M115.8 43.2V49.6m-2 0h4M113.8 43.2h4M115.8 42.7V50.4m-2 0h4M113.8 42.7h4M116.6 45V50.2m-2 0h4M114.6 45h4M116.6 45.9V52.4m-2 0h4M114.6 45.9h4M117.4 43V48.3m-2 0h4M115.4 43h4M117.4 42.5V49.1m-2 0h4M115.4 42.5h4M118.2 47.4V54.4m-2 0h4M116.2 47.4h4M119 47.9V53.3m-2 0h4M117 47.9h4M119.8 44.4V50.4m-2 0h4M117.8 44.4h4M119.8 42.2V48.7m-2 0h4M117.8 42.2h4M120.6 47.4V54.3m-2 0h4M118.6 47.4h4M120.6 45.8V52.1m-2 0h4M118.6 45.8h4M121.4 47.7V54.7m-2 0h4M119.4 47.7h4M121.4 45.5V51.3m-2 0h4M119.4 45.5h4M122.2 44.5V49.9m-2 0h4M120.2 44.5h4M122.2 46.2V52.6m-2 0h4M120.2 46.2h4M123 49.3V54.8m-2 0h4M121 49.3h4M123.8 47.4V54.5m-2 0h4M121.8 47.4h4M124.6 46.7V52.5m-2 0h4M122.6 46.7h4M124.6 45V51.1m-2 0h4M122.6 45h4M125.4 48.1V54.6m-2 0h4M123.4 48.1h4M125.4 49.2V54.4m-2 0h4M123.4 49.2h4M126.2 52.4V58.5m-2 0h4M124.2 52.4h4M126.2 50.8V57.9m-2 0h4M124.2 50.8h4M127 49.5V55m-2 0h4M125 49.5h4M127 53.1V59.8m-2 0h4M125 53.1h4M127.8 49.6V55.7m-2 0h4M125.8 49.6h4M127.8 46.2V52.9m-2 0h4M125.8 46.2h4M128.6 51.9V58.5m-2 0h4M126.6 51.9h4M129.4 51.9V58.5m-2 0h4M127.4 51.9h4M129.4 48V54.7m-2 0h4M127.4 48h4M130.2 47.9V55m-2 0h4M128.2 47.9h4M130.2 52.3V58.4m-2 0h4M128.2 52.3h4M131 50.2V56.6m-2 0h4M129 50.2h4M131.8 49.8V56.4m-2 0h4M129.8 49.8h4M131.8 55.3V61.2m-2 0h4M129.8 55.3h4M132.6 53.8V60.4m-2 0h4M130.6 53.8h4M132.6 51.7V57m-2 0h4M130.6 51.7h4M133.4 55.9V62.8m-2 0h4M131.4 55.9h4M133.4 48.3V55.7m-2 0h4M131.4 48.3h4M134.2 52V58.1m-2 0h4M132.2 52h4M134.2 55.4V61.9m-2 0h4M132.2 55.4h4M135 55.5V61.5m-2 0h4M133 55.5h4M135 52.5V57.9m-2 0h4M133 52.5h4M135.8 55.6V61.5m-2 0h4M133.8 55.6h4M135.8 54V61.4m-2 0h4M133.8 54h4M136.6 51.4V58.6m-2 0h4M134.6 51.4h4M136.6 51V58.5m-2 0h4M134.6 51h4M137.4 57.9V64.4m-2 0h4M135.4 57.9h4M137.4 58.1V65m-2 0h4M135.4 58.1h4M138.2 51.3V57.2m-2 0h4M136.2 51.3h4M139 52.4V60.2m-2 0h4M137 52.4h4M139 52.7V59.1m-2 0h4M137 52.7h4M139.8 56.1V62m-2 0h4M137.8 56.1h4M140.6 59.5V66.7m-2 0h4M138.6 59.5h4M141.4 51V57.4m-2 0h4M139.4 51h4M142.2 54.6V60.6m-2 0h4M140.2 54.6h4M142.2 54.1V61.4m-2 0h4M140.2 54.1h4M143 58.6V64.4m-2 0h4M141 58.6h4M143 53.4V59.9m-2 0h4M141 53.4h4M143.8 56.8V63.6m-2 0h4M141.8 56.8h4M143.8 58.2V65.3m-2 0h4M141.8 58.2h4M144.6 54.6V61.4m-2 0h4M142.6 54.6h4M145.4 52.6V58.8m-2 0h4M143.4 52.6h4M145.4 57.6V65m-2 0h4M143.4 57.6h4M146.2 47.3V53m-2 0h4M144.2 47.3h4M146.2 51.3V58.1m-2 0h4M144.2 51.3h4M147 46.4V52.8m-2 0h4M145 46.4h4M147.8 52.9V58.4m-2 0h4M145.8 52.9h4M148.6 53.4V60.1m-2 0h4M146.6 53.4h4M148.6 48.3V53.7m-2 0h4M146.6 48.3h4M149.4 47.9V53.4m-2 0h4M147.4 47.9h4M149.4 46.8V54.3m-2 0h4M147.4 46.8h4M150.2 48.8V55.1m-2 0h4M148.2 48.8h4M150.2 47.2V53.7m-2 0h4M148.2 47.2h4M151 49.6V57m-2 0h4M149 49.6h4M151.8 50.7V56m-2 0h4M149.8 50.7h4M151.8 51.7V57.8m-2 0h4M149.8 51.7h4M152.6 50.8V57.7m-2 0h4M150.6 50.8h4M152.6 45.9V52.3m-2 0h4M150.6 45.9h4M153.4 45.6V51.4m-2 0h4M151.4 45.6h4M153.4 50.6V56.7m-2 0h4M151.4 50.6h4M154.2 44.9V51.2m-2 0h4M152.2 44.9h4M155 43V50m-2 0h4M153 43h4M155 42.3V49m-2 0h4M153 42.3h4M155.8 49.7V56.3m-2 0h4M153.8 49.7h4M155.8 45.8V53.1m-2 0h4M153.8 45.8h4M156.6 43.8V50.5m-2 0h4M154.6 43.8h4M156.6 53.5V60.5m-2 0h4M154.6 53.5h4M157.4 47.5V54.5m-2 0h4M155.4 47.5h4M167.6 86.8V92.8m-2 0h4M165.6 86.8h4M169.1 78V84m-2 0h4M167.1 78h4M163.7 68.4V74.4m-2 0h4M161.7 68.4h4M166.1 71.4V77.4m-2 0h4M164.1 71.4h4M168.1 85.6V91.6m-2 0h4M166.1 85.6h4M164.6 77.1V83.1m-2 0h4M162.6 77.1h4M157 44.6V50.6m-2 0h4M155 44.6h4M161.9 61.3V67.3m-2 0h4M159.9 61.3h4M159.4 54.2V60.2m-2 0h4M157.4 54.2h4M161.5 66.2V72.2m-2 0h4M159.5 66.2h4M158.3 51.8V57.8m-2 0h4M156.3 51.8h4M164.2 71.2V77.2m-2 0h4M162.2 71.2h4M169 86.3V92.3m-2 0h4M167 86.3h4M167.3 79.5V85.5m-2 0h4M165.3 79.5h4M160.7 47.8V53.8m-2 0h4M158.7 47.8h4M160.2 54.3V60.3m-2 0h4M158.2 54.3h4M157.4 50.6V56.6m-2 0h4M155.4 50.6h4M159.6 53.3V59.3m-2 0h4M157.6 53.3h4M165.2 71.3V77.3m-2 0h4M163.2 71.3h4M165.9 81.3V87.3m-2 0h4M163.9 81.3h4M165.1 78.1V84.1m-2 0h4M163.1 78.1h4M155.1 42.7V48.7m-2 0h4M153.1 42.7h4M158.6 53.5V59.5m-2 0h4M156.6 53.5h4M166 77.7V83.7m-2 0h4M164 77.7h4M165.4 78.4V84.4m-2 0h4M163.4 78.4h4M167.7 77.9V83.9m-2 0h4M165.7 77.9h4M166.3 80.6V86.6m-2 0h4M164.3 80.6h4M165.9 76.1V82.1m-2 0h4M163.9 76.1h4M159.5 54.2V60.2m-2 0h4M157.5 54.2h4M157.9 44.7V50.7m-2 0h4M155.9 44.7h4M162.9 64.9V70.9m-2 0h4M160.9 64.9h4M167.7 80.7V86.7m-2 0h4M165.7 80.7h4M167.2 80.7V86.7m-2 0h4M165.2 80.7h4M159 45.5V51.5m-2 0h4M157 45.5h4M164.9 70V76m-2 0h4M162.9 70h4M170.1 87.2V93.2m-2 0h4M168.1 87.2h4M158.9 43.6V49.6m-2 0h4M156.9 43.6h4M167.5 81.6V87.6m-2 0h4M165.5 81.6h4M165.2 77.4V83.4m-2 0h4M163.2 77.4h4M164.8 67.5V73.5m-2 0h4M162.8 67.5h4M162.2 60.6V66.6m-2 0h4M160.2 60.6h4M170.7 86.8V92.8m-2 0h4M168.7 86.8h4M160.4 56.6V62.6m-2 0h4M158.4 56.6h4M164.6 78.1V84.1m-2 0h4M162.6 78.1h4M160.8 67.1V73.1m-2 0h4M158.8 67.1h4M168 109.2V115.7m-2.2 0h4.4M165.8 109.2h4.4M169.2 104.6V111.1m-2.2 0h4.4M167 104.6h4.4M169.2 104.8V111.3m-2.2 0h4.4M167 104.8h4.4M170.4 102.3V108.8m-2.2 0h4.4M168.2 102.3h4.4M170.4 106.8V113.3m-2.2 0h4.4M168.2 106.8h4.4M171.6 105.3V111.8m-2.2 0h4.4M169.4 105.3h4.4M171.6 101V107.5m-2.2 0h4.4M169.4 101h4.4M172.8 101.8V108.3m-2.2 0h4.4M170.6 101.8h4.4M174 104V110.5m-2.2 0h4.4M171.8 104h4.4M175.2 102.4V108.9m-2.2 0h4.4M173 102.4h4.4M175.2 96.1V102.6m-2.2 0h4.4M173 96.1h4.4M176.4 102.6V109.1m-2.2 0h4.4M174.2 102.6h4.4M177.6 97.1V103.6m-2.2 0h4.4M175.4 97.1h4.4M178.8 99.6V106.1m-2.2 0h4.4M176.6 99.6h4.4M178.8 97.9V104.4m-2.2 0h4.4M176.6 97.9h4.4M180 110.1V116.6m-2.2 0h4.4M177.8 110.1h4.4M181.2 109.8V116.3m-2.2 0h4.4M179 109.8h4.4M181.2 106V112.5m-2.2 0h4.4M179 106h4.4M182.4 99.6V106.1m-2.2 0h4.4M180.2 99.6h4.4M183.6 102.6V109.1m-2.2 0h4.4M181.4 102.6h4.4M183.6 113.7V120.2m-2.2 0h4.4M181.4 113.7h4.4M184.8 111.4V117.9m-2.2 0h4.4M182.6 111.4h4.4M186 107.6V114.1m-2.2 0h4.4M183.8 107.6h4.4M186 107.1V113.6m-2.2 0h4.4M183.8 107.1h4.4M187.2 102.3V108.8m-2.2 0h4.4M185 102.3h4.4M188.4 117V123.5m-2.2 0h4.4M186.2 117h4.4M188.4 114.7V121.2m-2.2 0h4.4M186.2 114.7h4.4M189.6 112.6V119.1m-2.2 0h4.4M187.4 112.6h4.4M190.8 106.5V113m-2.2 0h4.4M188.6 106.5h4.4M192 115.3V121.8m-2.2 0h4.4M189.8 115.3h4.4M193.2 115.2V121.7m-2.2 0h4.4M191 115.2h4.4M193.2 113.4V119.9m-2.2 0h4.4M191 113.4h4.4M194.4 106.5V113m-2.2 0h4.4M192.2 106.5h4.4M194.4 114.6V121.1m-2.2 0h4.4M192.2 114.6h4.4M195.6 107.3V113.8m-2.2 0h4.4M193.4 107.3h4.4M196.8 116.9V123.4m-2.2 0h4.4M194.6 116.9h4.4M198 113.8V120.3m-2.2 0h4.4M195.8 113.8h4.4M198 113.1V119.6m-2.2 0h4.4M195.8 113.1h4.4M199.2 112.4V118.9m-2.2 0h4.4M197 112.4h4.4M199.2 115.3V121.8m-2.2 0h4.4M197 115.3h4.4M200.4 113.5V120m-2.2 0h4.4M198.2 113.5h4.4M200.4 109.6V116.1m-2.2 0h4.4M198.2 109.6h4.4M201.6 116.6V123.1m-2.2 0h4.4M199.4 116.6h4.4M202.8 118.2V124.7m-2.2 0h4.4M200.6 118.2h4.4M204 122.9V129.4m-2.2 0h4.4M201.8 122.9h4.4M204 125V131.5m-2.2 0h4.4M201.8 125h4.4M205.2 112V118.5m-2.2 0h4.4M203 112h4.4M206.4 109.7V116.2m-2.2 0h4.4M204.2 109.7h4.4M206.4 118.9V125.4m-2.2 0h4.4M204.2 118.9h4.4M207.6 118.4V124.9m-2.2 0h4.4M205.4 118.4h4.4M207.6 124.6V131.1m-2.2 0h4.4M205.4 124.6h4.4M208.8 124.9V131.4m-2.2 0h4.4M206.6 124.9h4.4M208.8 108.1V114.6m-2.2 0h4.4M206.6 108.1h4.4M210 120.8V127.3m-2.2 0h4.4M207.8 120.8h4.4M210 101.7V108.2m-2.2 0h4.4M207.8 101.7h4.4M211.2 106.4V112.9m-2.2 0h4.4M209 106.4h4.4M212.4 120.7V127.2m-2.2 0h4.4M210.2 120.7h4.4M212.4 108V114.5m-2.2 0h4.4M210.2 108h4.4M216.2 135.6V142.1m-2.2 0h4.4M214 135.6h4.4M218.6 140.4V146.9m-2.2 0h4.4M216.4 140.4h4.4M221 144.3V150.8m-2.2 0h4.4M218.8 144.3h4.4M225.7 145.1V151.6m-2.2 0h4.4M223.5 145.1h4.4M217 131V137.5m-2.2 0h4.4M214.8 131h4.4M223 142V148.5m-2.2 0h4.4M220.8 142h4.4M298.4 114.9V121.9m-2.2 0h4.4M296.2 114.9h4.4M304.6 106.2V113.2m-2.2 0h4.4M302.4 106.2h4.4M286 157.5V164.5m-2.2 0h4.4M283.8 157.5h4.4M285.2 155.3V162.3m-2.2 0h4.4M283 155.3h4.4M293.6 157.5V164.5m-2.2 0h4.4M291.4 157.5h4.4M304.9 124.5V131.5m-2.2 0h4.4M302.7 124.5h4.4M298.2 113.5V120.5m-2.2 0h4.4M296 113.5h4.4M294.2 136.5V143.5m-2.2 0h4.4M292 136.5h4.4M297.2 128.6V135.6m-2.2 0h4.4M295 128.6h4.4M297.4 124.2V131.2m-2.2 0h4.4M295.2 124.2h4.4M284.8 156.1V163.1m-2.2 0h4.4M282.6 156.1h4.4M291.5 155.6V162.6m-2.2 0h4.4M289.3 155.6h4.4M298.5 121.5V128.5m-2.2 0h4.4M296.3 121.5h4.4M295.5 161V168m-2.2 0h4.4M293.3 161h4.4M305.9 121.7V128.7m-2.2 0h4.4M303.7 121.7h4.4M306.9 121.9V128.9m-2.2 0h4.4M304.7 121.9h4.4M297.1 124.6V131.6m-2.2 0h4.4M294.9 124.6h4.4M295.2 135V142m-2.2 0h4.4M293 135h4.4M302.3 117.7V124.7m-2.2 0h4.4M300.1 117.7h4.4M292.3 148.6V155.6m-2.2 0h4.4M290.1 148.6h4.4M303.1 110.4V117.4m-2.2 0h4.4M300.9 110.4h4.4M302.8 117V124m-2.2 0h4.4M300.6 117h4.4M293.7 138.1V145.1m-2.2 0h4.4M291.5 138.1h4.4M303.5 128.4V135.4m-2.2 0h4.4M301.3 128.4h4.4M305.1 124.3V131.3m-2.2 0h4.4M302.9 124.3h4.4M307.1 106.4V113.4m-2.2 0h4.4M304.9 106.4h4.4M297.7 120.4V127.4m-2.2 0h4.4M295.5 120.4h4.4M300 114.7V121.7m-2.2 0h4.4M297.8 114.7h4.4M297.5 134.6V141.6m-2.2 0h4.4M295.3 134.6h4.4M293.9 145.5V152.5m-2.2 0h4.4M291.7 145.5h4.4M289.5 145.3V152.3m-2.2 0h4.4M287.3 145.3h4.4M295 154.4V161.4m-2.2 0h4.4M292.8 154.4h4.4M297.7 135.2V142.2m-2.2 0h4.4M295.5 135.2h4.4M297.7 118V125m-2.2 0h4.4M295.5 118h4.4M284.3 151.3V158.3m-2.2 0h4.4M282.1 151.3h4.4M295.7 116.4V123.4m-2.2 0h4.4M293.5 116.4h4.4M299.4 134.8V141.8m-2.2 0h4.4M297.2 134.8h4.4M285.8 145.7V152.7m-2.2 0h4.4M283.6 145.7h4.4M296.8 133.5V140.5m-2.2 0h4.4M294.6 133.5h4.4M302.7 113.2V120.2m-2.2 0h4.4M300.5 113.2h4.4M297.1 137.6V144.6m-2.2 0h4.4M294.9 137.6h4.4M288 158V165m-2.2 0h4.4M285.8 158h4.4M296.9 134.9V141.9m-2.2 0h4.4M294.7 134.9h4.4M298.2 124.5V131.5m-2.2 0h4.4M296 124.5h4.4M293 160.4V167.4m-2.2 0h4.4M290.8 160.4h4.4M284.4 153V160m-2.2 0h4.4M282.2 153h4.4M286.3 157.8V164.8m-2.2 0h4.4M284.1 157.8h4.4M301.5 125.9V132.9m-2.2 0h4.4M299.3 125.9h4.4M294.5 133.8V140.8m-2.2 0h4.4M292.3 133.8h4.4M294.8 149V156m-2.2 0h4.4M292.6 149h4.4M294.1 155V162m-2.2 0h4.4M291.9 155h4.4M303.5 120.4V127.4m-2.2 0h4.4M301.3 120.4h4.4M290.9 157.3V164.3m-2.2 0h4.4M288.7 157.3h4.4M306 129.8V136.8m-2.2 0h4.4M303.8 129.8h4.4M290.1 141.8V148.8m-2.2 0h4.4M287.9 141.8h4.4M296.3 134.3V141.3m-2.2 0h4.4M294.1 134.3h4.4M297 113.8V120.8m-2.2 0h4.4M294.8 113.8h4.4M298.7 128.3V135.3m-2.2 0h4.4M296.5 128.3h4.4M299.1 136.1V143.1m-2.2 0h4.4M296.9 136.1h4.4M290.6 141.9V148.9m-2.2 0h4.4M288.4 141.9h4.4M297.5 136.2V143.2m-2.2 0h4.4M295.3 136.2h4.4M298.1 119.1V126.1m-2.2 0h4.4M295.9 119.1h4.4M292.6 138.3V145.3m-2.2 0h4.4M290.4 138.3h4.4M302.1 118.9V125.9m-2.2 0h4.4M299.9 118.9h4.4M286.6 160.8V167.8m-2.2 0h4.4M284.4 160.8h4.4M306.4 109.2V116.2m-2.2 0h4.4M304.2 109.2h4.4M300.4 127.2V134.2m-2.2 0h4.4M298.2 127.2h4.4M306.9 118.1V125.1m-2.2 0h4.4M304.7 118.1h4.4M299.5 124.4V131.4m-2.2 0h4.4M297.3 124.4h4.4M293.4 153.1V160.1m-2.2 0h4.4M291.2 153.1h4.4M292.8 147.1V154.1m-2.2 0h4.4M290.6 147.1h4.4M295 145.2V152.2m-2.2 0h4.4M292.8 145.2h4.4M305.3 105.7V112.7m-2.2 0h4.4M303.1 105.7h4.4M290.2 159.4V166.4m-2.2 0h4.4M288 159.4h4.4M290.8 154.4V161.4m-2.2 0h4.4M288.6 154.4h4.4M302.9 131.1V138.1m-2.2 0h4.4M300.7 131.1h4.4M295.7 136.6V143.6m-2.2 0h4.4M293.5 136.6h4.4M289.6 153.1V160.1m-2.2 0h4.4M287.4 153.1h4.4M297.2 122.5V129.5m-2.2 0h4.4M295 122.5h4.4M306.9 110.4V117.4m-2.2 0h4.4M304.7 110.4h4.4M295 152.4V159.4m-2.2 0h4.4M292.8 152.4h4.4M283.5 156.5V163.5m-2.2 0h4.4M281.3 156.5h4.4M302.6 133.4V140.4m-2.2 0h4.4M300.4 133.4h4.4M289.4 161.4V168.4m-2.2 0h4.4M287.2 161.4h4.4M299.5 127.3V134.3m-2.2 0h4.4M297.3 127.3h4.4M291.5 158.6V165.6m-2.2 0h4.4M289.3 158.6h4.4M300 126.5V133.5m-2.2 0h4.4M297.8 126.5h4.4M295.1 154.8V161.8m-2.2 0h4.4M292.9 154.8h4.4M297 140.5V147.5m-2.2 0h4.4M294.8 140.5h4.4M285.9 151.2V158.2m-2.2 0h4.4M283.7 151.2h4.4M289.9 151.8V158.8m-2.2 0h4.4M287.7 151.8h4.4M294.4 144.1V151.1m-2.2 0h4.4M292.2 144.1h4.4M297.2 129.1V136.1m-2.2 0h4.4M295 129.1h4.4M295.9 133.8V140.8m-2.2 0h4.4M293.7 133.8h4.4M293.7 139.3V146.3m-2.2 0h4.4M291.5 139.3h4.4M300.7 107.9V114.9m-2.2 0h4.4M298.5 107.9h4.4M286.9 144.2V151.2m-2.2 0h4.4M284.7 144.2h4.4M296 138.3V145.3m-2.2 0h4.4M293.8 138.3h4.4M295 136.5V143.5m-2.2 0h4.4M292.8 136.5h4.4M290.1 161.3V168.3m-2.2 0h4.4M287.9 161.3h4.4M304.7 114.3V121.3m-2.2 0h4.4M302.5 114.3h4.4M301.8 115.1V122.1m-2.2 0h4.4M299.6 115.1h4.4M284.7 150.7V157.7m-2.2 0h4.4M282.5 150.7h4.4M303.7 123.6V130.6m-2.2 0h4.4M301.5 123.6h4.4M296.7 120.4V127.4m-2.2 0h4.4M294.5 120.4h4.4M300.6 125V132m-2.2 0h4.4M298.4 125h4.4M290.5 155.4V162.4m-2.2 0h4.4M288.3 155.4h4.4M292.3 140.2V147.2m-2.2 0h4.4M290.1 140.2h4.4M287.4 153.4V160.4m-2.2 0h4.4M285.2 153.4h4.4M302.5 122.5V129.5m-2.2 0h4.4M300.3 122.5h4.4M286.1 158.7V165.7m-2.2 0h4.4M283.9 158.7h4.4M299.2 117.9V124.9m-2.2 0h4.4M297 117.9h4.4M286.9 149.9V156.9m-2.2 0h4.4M284.7 149.9h4.4M307.2 115.9V122.9m-2.2 0h4.4M305 115.9h4.4M302.1 111.9V118.9m-2.2 0h4.4M299.9 111.9h4.4M297 109.2V116.2m-2.2 0h4.4M294.8 109.2h4.4M297.8 119.2V126.2m-2.2 0h4.4M295.6 119.2h4.4M303.9 107.5V114.5m-2.2 0h4.4M301.7 107.5h4.4M286.9 145V152m-2.2 0h4.4M284.7 145h4.4M300.9 112.7V119.7m-2.2 0h4.4M298.7 112.7h4.4M299.8 114.4V121.4m-2.2 0h4.4M297.6 114.4h4.4M285.7 159.2V166.2m-2.2 0h4.4M283.5 159.2h4.4M300.9 118.2V125.2m-2.2 0h4.4M298.7 118.2h4.4M337.7 144.8V151.8m-2.2 0h4.4M335.5 144.8h4.4M335 144V151m-2.2 0h4.4M332.8 144h4.4M334.1 137.3V144.3m-2.2 0h4.4M331.9 137.3h4.4M328.6 172.9V179.9m-2.2 0h4.4M326.4 172.9h4.4M333 147.6V154.6m-2.2 0h4.4M330.8 147.6h4.4M327.8 177.3V184.3m-2.2 0h4.4M325.6 177.3h4.4M331 161.4V168.4m-2.2 0h4.4M328.8 161.4h4.4M332.4 134.1V141.1m-2.2 0h4.4M330.2 134.1h4.4M328.5 169.9V176.9m-2.2 0h4.4M326.3 169.9h4.4M330.9 173.1V180.1m-2.2 0h4.4M328.7 173.1h4.4M329.6 145.7V152.7m-2.2 0h4.4M327.4 145.7h4.4M333.2 149.8V156.8m-2.2 0h4.4M331 149.8h4.4M337.2 144.2V151.2m-2.2 0h4.4M335 144.2h4.4M330.6 140.5V147.5m-2.2 0h4.4M328.4 140.5h4.4M327.4 169.7V176.7m-2.2 0h4.4M325.2 169.7h4.4M332.2 141.4V148.4m-2.2 0h4.4M330 141.4h4.4M335.3 147.6V154.6m-2.2 0h4.4M333.1 147.6h4.4M333.4 161.9V168.9m-2.2 0h4.4M331.2 161.9h4.4M329 168.1V175.1m-2.2 0h4.4M326.8 168.1h4.4M328.1 173.2V180.2m-2.2 0h4.4M325.9 173.2h4.4M328.2 163.9V170.9m-2.2 0h4.4M326 163.9h4.4M327.7 174V181m-2.2 0h4.4M325.5 174h4.4M335.7 135.2V142.2m-2.2 0h4.4M333.5 135.2h4.4M327.8 176.1V183.1m-2.2 0h4.4M325.6 176.1h4.4M338.2 153.8V160.8m-2.2 0h4.4M336 153.8h4.4M329.3 176.1V183.1m-2.2 0h4.4M327.1 176.1h4.4M329.3 168.9V175.9m-2.2 0h4.4M327.1 168.9h4.4M336.3 137.5V144.5m-2.2 0h4.4M334.1 137.5h4.4M327.8 174.8V181.8m-2.2 0h4.4M325.6 174.8h4.4M330.6 165.6V172.6m-2.2 0h4.4M328.4 165.6h4.4M333.2 150.2V157.2m-2.2 0h4.4M331 150.2h4.4M335.8 138V145m-2.2 0h4.4M333.6 138h4.4M334.1 143.8V150.8m-2.2 0h4.4M331.9 143.8h4.4M332.1 149.8V156.8m-2.2 0h4.4M329.9 149.8h4.4M330.8 161.5V168.5m-2.2 0h4.4M328.6 161.5h4.4M327.7 172.3V179.3m-2.2 0h4.4M325.5 172.3h4.4M336.6 155.9V162.9m-2.2 0h4.4M334.4 155.9h4.4M332.7 146.4V153.4m-2.2 0h4.4M330.5 146.4h4.4M331.2 145.9V152.9m-2.2 0h4.4M329 145.9h4.4M332.5 136.7V143.7m-2.2 0h4.4M330.3 136.7h4.4M330.2 139.7V146.7m-2.2 0h4.4M328 139.7h4.4M327.4 171.8V178.8m-2.2 0h4.4M325.2 171.8h4.4M329.1 161.5V168.5m-2.2 0h4.4M326.9 161.5h4.4M334.4 140.9V147.9m-2.2 0h4.4M332.2 140.9h4.4M330.9 165.9V172.9m-2.2 0h4.4M328.7 165.9h4.4M331.7 144.3V151.3m-2.2 0h4.4M329.5 144.3h4.4M330.7 173.1V180.1m-2.2 0h4.4M328.5 173.1h4.4M332.2 165.6V172.6m-2.2 0h4.4M330 165.6h4.4M330.5 173.7V180.7m-2.2 0h4.4M328.3 173.7h4.4M336.9 140.6V147.6m-2.2 0h4.4M334.7 140.6h4.4M331.2 160.8V167.8m-2.2 0h4.4M329 160.8h4.4M334.6 132.8V139.8m-2.2 0h4.4M332.4 132.8h4.4M331.6 169.3V176.3m-2.2 0h4.4M329.4 169.3h4.4M330.2 158V165m-2.2 0h4.4M328 158h4.4M335.6 134.9V141.9m-2.2 0h4.4M333.4 134.9h4.4M326.2 183.8V190.8m-2.2 0h4.4M324 183.8h4.4M336 141V148m-2.2 0h4.4M333.8 141h4.4M329.8 177.5V184.5m-2.2 0h4.4M327.6 177.5h4.4M330 166.9V173.9m-2.2 0h4.4M327.8 166.9h4.4M335.6 154.6V161.6m-2.2 0h4.4M333.4 154.6h4.4M332.2 139.5V146.5m-2.2 0h4.4M330 139.5h4.4M331.1 149.6V156.6m-2.2 0h4.4M328.9 149.6h4.4M338.7 155.8V162.8m-2.2 0h4.4M336.5 155.8h4.4M329.3 184.1V191.1m-2.2 0h4.4M327.1 184.1h4.4M335.5 133.8V140.8m-2.2 0h4.4M333.3 133.8h4.4M335.1 161.9V168.9m-2.2 0h4.4M332.9 161.9h4.4M332.5 147V154m-2.2 0h4.4M330.3 147h4.4M335.6 140.9V147.9m-2.2 0h4.4M333.4 140.9h4.4M329.3 166.8V173.8m-2.2 0h4.4M327.1 166.8h4.4M333.3 159.6V166.6m-2.2 0h4.4M331.1 159.6h4.4M337.5 140.4V147.4m-2.2 0h4.4M335.3 140.4h4.4M327.4 177.9V184.9m-2.2 0h4.4M325.2 177.9h4.4M333.9 144.3V151.3m-2.2 0h4.4M331.7 144.3h4.4M349.1 130.7V137.7m-2.2 0h4.4M346.9 130.7h4.4M352.1 115.9V122.9m-2.2 0h4.4M349.9 115.9h4.4M353.5 139.4V146.4m-2.2 0h4.4M351.3 139.4h4.4M357.9 116.9V123.9m-2.2 0h4.4M355.7 116.9h4.4M351.9 138.4V145.4m-2.2 0h4.4M349.7 138.4h4.4M355.7 130.4V137.4m-2.2 0h4.4M353.5 130.4h4.4M350.4 115.2V122.2m-2.2 0h4.4M348.2 115.2h4.4M350.1 131.3V138.3m-2.2 0h4.4M347.9 131.3h4.4M356.9 126.3V133.3m-2.2 0h4.4M354.7 126.3h4.4M357.2 130.4V137.4m-2.2 0h4.4M355 130.4h4.4M351.4 135.9V142.9m-2.2 0h4.4M349.2 135.9h4.4M349.2 138.3V145.3m-2.2 0h4.4M347 138.3h4.4M355.2 141.9V148.9m-2.2 0h4.4M353 141.9h4.4M353.5 116.5V123.5m-2.2 0h4.4M351.3 116.5h4.4M354.8 141.3V148.3m-2.2 0h4.4M352.6 141.3h4.4M356.4 126.9V133.9m-2.2 0h4.4M354.2 126.9h4.4M349.1 114.1V121.1m-2.2 0h4.4M346.9 114.1h4.4M350.9 130.1V137.1m-2.2 0h4.4M348.7 130.1h4.4M356.8 117.8V124.8m-2.2 0h4.4M354.6 117.8h4.4M357.5 137.7V144.7m-2.2 0h4.4M355.3 137.7h4.4M353 118V125m-2.2 0h4.4M350.8 118h4.4M349.8 114.6V121.6m-2.2 0h4.4M347.6 114.6h4.4M352.8 125.3V132.3m-2.2 0h4.4M350.6 125.3h4.4M356.7 125.3V132.3m-2.2 0h4.4M354.5 125.3h4.4M350.2 123.4V130.4m-2.2 0h4.4M348 123.4h4.4M349.7 114.8V121.8m-2.2 0h4.4M347.5 114.8h4.4M351.9 130.8V137.8m-2.2 0h4.4M349.7 130.8h4.4M351.3 130.9V137.9m-2.2 0h4.4M349.1 130.9h4.4M348.5 143.1V150.1m-2.2 0h4.4M346.3 143.1h4.4M350.7 121.7V128.7m-2.2 0h4.4M348.5 121.7h4.4M353.3 130.6V137.6m-2.2 0h4.4M351.1 130.6h4.4M353.6 114.5V121.5m-2.2 0h4.4M351.4 114.5h4.4M354.3 136.7V143.7m-2.2 0h4.4M352.1 136.7h4.4M356 121.9V128.9m-2.2 0h4.4M353.8 121.9h4.4M351 133.9V140.9m-2.2 0h4.4M348.8 133.9h4.4M354.4 128.8V135.8m-2.2 0h4.4M352.2 128.8h4.4M348.6 125.7V132.7m-2.2 0h4.4M346.4 125.7h4.4M352.8 143.2V150.2m-2.2 0h4.4M350.6 143.2h4.4M351.5 120.5V127.5m-2.2 0h4.4M349.3 120.5h4.4M352.5 139.6V146.6m-2.2 0h4.4M350.3 139.6h4.4M349.7 122.6V129.6m-2.2 0h4.4M347.5 122.6h4.4M355.3 122.8V129.8m-2.2 0h4.4M353.1 122.8h4.4M357.2 123.7V130.7m-2.2 0h4.4M355 123.7h4.4M353.8 118.9V125.9m-2.2 0h4.4M351.6 118.9h4.4M352.3 136.7V143.7m-2.2 0h4.4M350.1 136.7h4.4M357 128V135m-2.2 0h4.4M354.8 128h4.4M349.6 114.2V121.2m-2.2 0h4.4M347.4 114.2h4.4M352 120V127m-2.2 0h4.4M349.8 120h4.4M354.5 139.4V146.4m-2.2 0h4.4M352.3 139.4h4.4M354 142.4V149.4m-2.2 0h4.4M351.8 142.4h4.4M351.4 139.8V146.8m-2.2 0h4.4M349.2 139.8h4.4M356.8 129.6V136.6m-2.2 0h4.4M354.6 129.6h4.4M351.3 119.9V126.9m-2.2 0h4.4M349.1 119.9h4.4M354.8 125.7V132.7m-2.2 0h4.4M352.6 125.7h4.4M348.5 125.9V132.9m-2.2 0h4.4M346.3 125.9h4.4M354 128.3V135.3m-2.2 0h4.4M351.8 128.3h4.4M357.3 113.9V120.9m-2.2 0h4.4M355.1 113.9h4.4M354.1 115.2V122.2m-2.2 0h4.4M351.9 115.2h4.4M349.6 116.3V123.3m-2.2 0h4.4M347.4 116.3h4.4M356.1 116.2V123.2m-2.2 0h4.4M353.9 116.2h4.4M353.5 131.2V138.2m-2.2 0h4.4M351.3 131.2h4.4M355.4 123.4V130.4m-2.2 0h4.4M353.2 123.4h4.4M355.8 136.4V143.4m-2.2 0h4.4M353.6 136.4h4.4M352.5 142.8V149.8m-2.2 0h4.4M350.3 142.8h4.4M349.3 141.7V148.7m-2.2 0h4.4M347.1 141.7h4.4M355.7 133.2V140.2m-2.2 0h4.4M353.5 133.2h4.4M355.6 120.3V127.3m-2.2 0h4.4M353.4 120.3h4.4M364.5 147.3V154.3m-2.2 0h4.4M362.3 147.3h4.4M371.5 148.3V155.3m-2.2 0h4.4M369.3 148.3h4.4M369.9 148.2V155.2m-2.2 0h4.4M367.7 148.2h4.4M370.2 145.1V152.1m-2.2 0h4.4M368 145.1h4.4M369.1 155V162m-2.2 0h4.4M366.9 155h4.4M366.6 154.2V161.2m-2.2 0h4.4M364.4 154.2h4.4M364.5 159.9V166.9m-2.2 0h4.4M362.3 159.9h4.4M364.5 162.6V169.6m-2.2 0h4.4M362.3 162.6h4.4M371.6 163.8V170.8m-2.2 0h4.4M369.4 163.8h4.4M366.1 149.8V156.8m-2.2 0h4.4M363.9 149.8h4.4M370.1 148.8V155.8m-2.2 0h4.4M367.9 148.8h4.4M365.7 165.4V172.4m-2.2 0h4.4M363.5 165.4h4.4M371 162.6V169.6m-2.2 0h4.4M368.8 162.6h4.4M366.3 161.8V168.8m-2.2 0h4.4M364.1 161.8h4.4M365.3 163.2V170.2m-2.2 0h4.4M363.1 163.2h4.4M368.6 154V161m-2.2 0h4.4M366.4 154h4.4M366.9 163.1V170.1m-2.2 0h4.4M364.7 163.1h4.4M370.9 148.3V155.3m-2.2 0h4.4M368.7 148.3h4.4M364.9 145V152m-2.2 0h4.4M362.7 145h4.4M365.2 163.6V170.6m-2.2 0h4.4M363 163.6h4.4M369.5 148V155m-2.2 0h4.4M367.3 148h4.4M369.7 163.8V170.8m-2.2 0h4.4M367.5 163.8h4.4M365.9 145.2V152.2m-2.2 0h4.4M363.7 145.2h4.4M368 145.3V152.3m-2.2 0h4.4M365.8 145.3h4.4M364.2 146.7V153.7m-2.2 0h4.4M362 146.7h4.4M365 163V170m-2.2 0h4.4M362.8 163h4.4M365.4 153.5V160.5m-2.2 0h4.4M363.2 153.5h4.4M368 160V167m-2.2 0h4.4M365.8 160h4.4M371.3 154.9V161.9m-2.2 0h4.4M369.1 154.9h4.4M371.1 164.8V171.8m-2.2 0h4.4M368.9 164.8h4.4M366.1 148.2V155.2m-2.2 0h4.4M363.9 148.2h4.4M367.3 155.2V162.2m-2.2 0h4.4M365.1 155.2h4.4M369.5 144.7V151.7m-2.2 0h4.4M367.3 144.7h4.4M369.5 156V163m-2.2 0h4.4M367.3 156h4.4M367.2 159.6V166.6m-2.2 0h4.4M365 159.6h4.4M367.1 164.9V171.9m-2.2 0h4.4M364.9 164.9h4.4M372 147.5V154.5m-2.2 0h4.4M369.8 147.5h4.4M366 164V171m-2.2 0h4.4M363.8 164h4.4M365.6 149.6V156.6m-2.2 0h4.4M363.4 149.6h4.4M371.3 161V168m-2.2 0h4.4M369.1 161h4.4M369.2 151.3V158.3m-2.2 0h4.4M367 151.3h4.4M364 164.9V171.9m-2.2 0h4.4M361.8 164.9h4.4M368.7 155.2V162.2m-2.2 0h4.4M366.5 155.2h4.4M383.9 149.2V156.2m-2.2 0h4.4M381.7 149.2h4.4M382.2 143.3V150.3m-2.2 0h4.4M380 143.3h4.4M383 141.6V148.6m-2.2 0h4.4M380.8 141.6h4.4M380.1 148.8V155.8m-2.2 0h4.4M377.9 148.8h4.4M382.2 151.5V158.5m-2.2 0h4.4M380 151.5h4.4M385.4 137.1V144.1m-2.2 0h4.4M383.2 137.1h4.4M384.5 146.7V153.7m-2.2 0h4.4M382.3 146.7h4.4M381.7 154V161m-2.2 0h4.4M379.5 154h4.4M384.9 155.9V162.9m-2.2 0h4.4M382.7 155.9h4.4M384.5 154.3V161.3m-2.2 0h4.4M382.3 154.3h4.4M378.8 139.8V146.8m-2.2 0h4.4M376.6 139.8h4.4M381.6 146.5V153.5m-2.2 0h4.4M379.4 146.5h4.4M383.6 158.4V165.4m-2.2 0h4.4M381.4 158.4h4.4M384.1 153.5V160.5m-2.2 0h4.4M381.9 153.5h4.4M382.2 142.7V149.7m-2.2 0h4.4M380 142.7h4.4M381 142V149m-2.2 0h4.4M378.8 142h4.4M378.5 147.8V154.8m-2.2 0h4.4M376.3 147.8h4.4M380.6 140.4V147.4m-2.2 0h4.4M378.4 140.4h4.4M383.1 135.8V142.8m-2.2 0h4.4M380.9 135.8h4.4M384.3 144.1V151.1m-2.2 0h4.4M382.1 144.1h4.4M381.5 134.6V141.6m-2.2 0h4.4M379.3 134.6h4.4M381.3 140.9V147.9m-2.2 0h4.4M379.1 140.9h4.4M381.1 142.3V149.3m-2.2 0h4.4M378.9 142.3h4.4M385.8 138.3V145.3m-2.2 0h4.4M383.6 138.3h4.4M380.6 150.1V157.1m-2.2 0h4.4M378.4 150.1h4.4M382.2 143V150m-2.2 0h4.4M380 143h4.4M378.2 152.4V159.4m-2.2 0h4.4M376 152.4h4.4M384.7 145.1V152.1m-2.2 0h4.4M382.5 145.1h4.4M381.5 155.8V162.8m-2.2 0h4.4M379.3 155.8h4.4M383.4 154.1V161.1m-2.2 0h4.4M381.2 154.1h4.4M383.4 134.5V141.5m-2.2 0h4.4M381.2 134.5h4.4M378.9 152.7V159.7m-2.2 0h4.4M376.7 152.7h4.4M378.8 153.9V160.9m-2.2 0h4.4M376.6 153.9h4.4M378.4 147.6V154.6m-2.2 0h4.4M376.2 147.6h4.4M378.4 145.6V152.6m-2.2 0h4.4M376.2 145.6h4.4M386 148.1V155.1m-2.2 0h4.4M383.8 148.1h4.4M380.7 137.1V144.1m-2.2 0h4.4M378.5 137.1h4.4M380.2 158.2V165.2m-2.2 0h4.4M378 158.2h4.4M384.9 139.9V146.9m-2.2 0h4.4M382.7 139.9h4.4M378.4 144V151m-2.2 0h4.4M376.2 144h4.4M384.9 153.5V160.5m-2.2 0h4.4M382.7 153.5h4.4M382.3 134.8V141.8m-2.2 0h4.4M380.1 134.8h4.4M382.7 145.7V152.7m-2.2 0h4.4M380.5 145.7h4.4M385.4 138.5V145.5m-2.2 0h4.4M383.2 138.5h4.4M382.3 141.4V148.4m-2.2 0h4.4M380.1 141.4h4.4M380.2 141.6V148.6m-2.2 0h4.4M378 141.6h4.4M384.4 151.3V158.3m-2.2 0h4.4M382.2 151.3h4.4M381.6 156.9V163.9m-2.2 0h4.4M379.4 156.9h4.4M383.1 144.3V151.3m-2.2 0h4.4M380.9 144.3h4.4M382.8 135.3V142.3m-2.2 0h4.4M380.6 135.3h4.4M390.7 149.9V156.9m-2.2 0h4.4M388.5 149.9h4.4M388.7 153.4V160.4m-2.2 0h4.4M386.5 153.4h4.4M391.2 137V144m-2.2 0h4.4M389 137h4.4M390.6 135.5V142.5m-2.2 0h4.4M388.4 135.5h4.4M388.5 152.9V159.9m-2.2 0h4.4M386.3 152.9h4.4M387.7 137.3V144.3m-2.2 0h4.4M385.5 137.3h4.4M388.7 158.4V165.4m-2.2 0h4.4M386.5 158.4h4.4M389.7 142.4V149.4m-2.2 0h4.4M387.5 142.4h4.4M390.9 142.6V149.6m-2.2 0h4.4M388.7 142.6h4.4M389.1 162.9V169.9m-2.2 0h4.4M386.9 162.9h4.4M388.4 152.4V159.4m-2.2 0h4.4M386.2 152.4h4.4M390.4 146.9V153.9m-2.2 0h4.4M388.2 146.9h4.4M390.8 136V143m-2.2 0h4.4M388.6 136h4.4M391.3 163.4V170.4m-2.2 0h4.4M389.1 163.4h4.4M390.5 143.3V150.3m-2.2 0h4.4M388.3 143.3h4.4M389.4 135.4V142.4m-2.2 0h4.4M387.2 135.4h4.4M387.9 149.3V156.3m-2.2 0h4.4M385.7 149.3h4.4M390.9 160.2V167.2m-2.2 0h4.4M388.7 160.2h4.4M389.9 133.5V140.5m-2.2 0h4.4M387.7 133.5h4.4M390.1 161.8V168.8m-2.2 0h4.4M387.9 161.8h4.4M388.5 146.4V153.4m-2.2 0h4.4M386.3 146.4h4.4M388.7 156.9V163.9m-2.2 0h4.4M386.5 156.9h4.4M389.7 135.5V142.5m-2.2 0h4.4M387.5 135.5h4.4M387.6 146.8V153.8m-2.2 0h4.4M385.4 146.8h4.4M388 152.6V159.6m-2.2 0h4.4M385.8 152.6h4.4M390.2 144.1V151.1m-2.2 0h4.4M388 144.1h4.4M388.8 161.7V168.7m-2.2 0h4.4M386.6 161.7h4.4M388.1 147.4V154.4m-2.2 0h4.4M385.9 147.4h4.4M389.5 136.1V143.1m-2.2 0h4.4M387.3 136.1h4.4M388.2 147V154m-2.2 0h4.4M386 147h4.4M388.3 143.9V150.9m-2.2 0h4.4M386.1 143.9h4.4M388.5 136.4V143.4m-2.2 0h4.4M386.3 136.4h4.4M387.6 160.1V167.1m-2.2 0h4.4M385.4 160.1h4.4M389.8 157V164m-2.2 0h4.4M387.6 157h4.4M388.1 155.8V162.8m-2.2 0h4.4M385.9 155.8h4.4M389.6 144.7V151.7m-2.2 0h4.4M387.4 144.7h4.4M389.8 135.1V142.1m-2.2 0h4.4M387.6 135.1h4.4M390.3 156.8V163.8m-2.2 0h4.4M388.1 156.8h4.4M391.4 151.1V158.1m-2.2 0h4.4M389.2 151.1h4.4M390.8 153.9V160.9m-2.2 0h4.4M388.6 153.9h4.4M391.2 146.8V153.8m-2.2 0h4.4M389 146.8h4.4M396.1 153.2V160.2m-2.2 0h4.4M393.9 153.2h4.4M397.2 159.9V166.9m-2.2 0h4.4M395 159.9h4.4M395.3 147.4V154.4m-2.2 0h4.4M393.1 147.4h4.4M398.5 165V172m-2.2 0h4.4M396.3 165h4.4M397.6 154.9V161.9m-2.2 0h4.4M395.4 154.9h4.4M395.3 157.9V164.9m-2.2 0h4.4M393.1 157.9h4.4M394.9 161V168m-2.2 0h4.4M392.7 161h4.4M398.4 147.9V154.9m-2.2 0h4.4M396.2 147.9h4.4M397.8 147.3V154.3m-2.2 0h4.4M395.6 147.3h4.4M397.8 160.1V167.1m-2.2 0h4.4M395.6 160.1h4.4M397.8 153.6V160.6m-2.2 0h4.4M395.6 153.6h4.4M398.3 150.8V157.8m-2.2 0h4.4M396.1 150.8h4.4M398.4 146.9V153.9m-2.2 0h4.4M396.2 146.9h4.4M395.4 162.1V169.1m-2.2 0h4.4M393.2 162.1h4.4M396.5 149.5V156.5m-2.2 0h4.4M394.3 149.5h4.4M396.1 159.4V166.4m-2.2 0h4.4M393.9 159.4h4.4M398.3 158.8V165.8m-2.2 0h4.4M396.1 158.8h4.4M397.1 146.3V153.3m-2.2 0h4.4M394.9 146.3h4.4M397.8 157V164m-2.2 0h4.4M395.6 157h4.4M394.6 154.8V161.8m-2.2 0h4.4M392.4 154.8h4.4M396.9 153.3V160.3m-2.2 0h4.4M394.7 153.3h4.4M395.9 149V156m-2.2 0h4.4M393.7 149h4.4M394.9 150.6V157.6m-2.2 0h4.4M392.7 150.6h4.4M397.1 153.8V160.8m-2.2 0h4.4M394.9 153.8h4.4M394.7 158.8V165.8m-2.2 0h4.4M392.5 158.8h4.4M398.3 150.2V157.2m-2.2 0h4.4M396.1 150.2h4.4M396.9 163.2V170.2m-2.2 0h4.4M394.7 163.2h4.4M398.3 155V162m-2.2 0h4.4M396.1 155h4.4M397.8 148.5V155.5m-2.2 0h4.4M395.6 148.5h4.4M395.2 144.5V151.5m-2.2 0h4.4M393 144.5h4.4M380.7 164.5V171.5m-2.5 0h5M378.2 164.5h5M380.7 176.9V183.9m-2.5 0h5M378.2 176.9h5M397 175.9V182.9m-2.5 0h5M394.5 175.9h5M397 192V199m-2.5 0h5M394.5 192h5M403.5 166.5V173.5m-2.5 0h5M401 166.5h5M403.5 174V181m-2.5 0h5M401 174h5M403.5 202.5V209.5m-2.5 0h5M401 202.5h5M328 172.1V179.1m-2.5 0h5M325.5 172.1h5M327 181.5V188.5m-2.5 0h5M324.5 181.5h5M413 226.2V233.2m-2.5 0h5M410.5 226.2h5" stroke="#000" stroke-width="1" fill="none"/>
<path d="M100.2 39.6a2.9 2.9 0 1 0 5.8 0a2.9 2.9 0 1 0 -5.8 0M100.8 41.7a2.9 2.9 0 1 0 5.8 0a2.9 2.9 0 1 0 -5.8 0M100.7 43.1a2.9 2.9 0 1 0 5.8 0a2.9 2.9 0 1 0 -5.8 0M101.7 42a2.9 2.9 0 1 0 5.8 0a2.9 2.9 0 1 0 -5.8 0M102.6 39.1a2.9 2.9 0 1 0 5.8 0a2.9 2.9 0 1 0 -5.8 0M102.4 43.8a2.9 2.9 0 1 0 5.8 0a2.9 2.9 0 1 0 -5.8 0M102.9 42.8a2.9 2.9 0 1 0 5.8 0a2.9 2.9 0 1 0 -5.8 0M102.9 39.5a2.9 2.9 0 1 0 5.8 0a2.9 2.9 0 1 0 -5.8 0M103.8 44.9a2.9 2.9 0 1 0 5.8 0a2.9 2.9 0 1 0 -5.8 0M104.1 40.3a2.9 2.9 0 1 0 5.8 0a2.9 2.9 0 1 0 -5.8 0M104.8 44.3a2.9 2.9 0 1 0 5.8 0a2.9 2.9 0 1 0 -5.8 0M104.5 43.1a2.9 2.9 0 1 0 5.8 0a2.9 2.9 0 1 0 -5.8 0M105.4 41.4a2.9 2.9 0 1 0 5.8 0a2.9 2.9 0 1 0 -5.8 0M106.5 38.8a2.9 2.9 0 1 0 5.8 0a2.9 2.9 0 1 0 -5.8 0M106.3 44.2a2.9 2.9 0 1 0 5.8 0a2.9 2.9 0 1 0 -5.8 0M106.9 41.7a2.9 2.9 0 1 0 5.8 0a2.9 2.9 0 1 0 -5.8 0M107.5 40.9a2.9 2.9 0 1 0 5.8 0a2.9 2.9 0 1 0 -5.8 0M107.8 45.9a2.9 2.9 0 1 0 5.8 0a2.9 2.9 0 1 0 -5.8 0M108.3 45.7a2.9 2.9 0 1 0 5.8 0a2.9 2.9 0 1 0 -5.8 0M109.2 41.1a2.9 2.9 0 1 0 5.8 0a2.9 2.9 0 1 0 -5.8 0M108.9 42.8a2.9 2.9 0 1 0 5.8 0a2.9 2.9 0 1 0 -5.8 0M109.4 43.8a2.9 2.9 0 1 0 5.8 0a2.9 2.9 0 1 0 -5.8 0M110.5 42.5a2.9 2.9 0 1 0 5.8 0a2.9 2.9 0 1 0 -5.8 0M110.5 43.7a2.9 2.9 0 1 0 5.8 0a2.9 2.9 0 1 0 -5.8 0M111.3 47a2.9 2.9 0 1 0 5.8 0a2.9 2.9 0 1 0 -5.8 0M111.5 48.9a2.9 2.9 0 1 0 5.8 0a2.9 2.9 0 1 0 -5.8 0M112.3 43.5a2.9 2.9 0 1 0 5.8 0a2.9 2.9 0 1 0 -5.8 0M112.5 49a2.9 2.9 0 1 0 5.8 0a2.9 2.9 0 1 0 -5.8 0M112.5 46.2a2.9 2.9 0 1 0 5.8 0a2.9 2.9 0 1 0 -5.8 0M112.6 46.7a2.9 2.9 0 1 0 5.8 0a2.9 2.9 0 1 0 -5.8 0M113.9 47.6a2.9 2.9 0 1 0 5.8 0a2.9 2.9 0 1 0 -5.8 0M113.6 48.5a2.9 2.9 0 1 0 5.8 0a2.9 2.9 0 1 0 -5.8 0M114.2 45.8a2.9 2.9 0 1 0 5.8 0a2.9 2.9 0 1 0 -5.8 0M114.3 45.5a2.9 2.9 0 1 0 5.8 0a2.9 2.9 0 1 0 -5.8 0M115.2 50.6a2.9 2.9 0 1 0 5.8 0a2.9 2.9 0 1 0 -5.8 0M115.9 50.7a2.9 2.9 0 1 0 5.8 0a2.9 2.9 0 1 0 -5.8 0M117.3 47.3a2.9 2.9 0 1 0 5.8 0a2.9 2.9 0 1 0 -5.8 0M116.8 45.4a2.9 2.9 0 1 0 5.8 0a2.9 2.9 0 1 0 -5.8 0M117.9 51.2a2.9 2.9 0 1 0 5.8 0a2.9 2.9 0 1 0 -5.8 0M118.1 48.5a2.9 2.9 0 1 0 5.8 0a2.9 2.9 0 1 0 -5.8 0M118.8 51.2a2.9 2.9 0 1 0 5.8 0a2.9 2.9 0 1 0 -5.8 0M118.1 48.2a2.9 2.9 0 1 0 5.8 0a2.9 2.9 0 1 0 -5.8 0M119.5 47.3a2.9 2.9 0 1 0 5.8 0a2.9 2.9 0 1 0 -5.8 0M119.5 49a2.9 2.9 0 1 0 5.8 0a2.9 2.9 0 1 0 -5.8 0M119.7 51.9a2.9 2.9 0 1 0 5.8 0a2.9 2.9 0 1 0 -5.8 0M121.2 51.4a2.9 2.9 0 1 0 5.8 0a2.9 2.9 0 1 0 -5.8 0M122 49.9a2.9 2.9 0 1 0 5.8 0a2.9 2.9 0 1 0 -5.8 0M121.7 48.1a2.9 2.9 0 1 0 5.8 0a2.9 2.9 0 1 0 -5.8 0M122.9 51.5a2.9 2.9 0 1 0 5.8 0a2.9 2.9 0 1 0 -5.8 0M122.3 51.8a2.9 2.9 0 1 0 5.8 0a2.9 2.9 0 1 0 -5.8 0M123.3 55.9a2.9 2.9 0 1 0 5.8 0a2.9 2.9 0 1 0 -5.8 0M123.3 54.4a2.9 2.9 0 1 0 5.8 0a2.9 2.9 0 1 0 -5.8 0M123.8 52.2a2.9 2.9 0 1 0 5.8 0a2.9 2.9 0 1 0 -5.8 0M124.1 55.9a2.9 2.9 0 1 0 5.8 0a2.9 2.9 0 1 0 -5.8 0M124.9 52.7a2.9 2.9 0 1 0 5.8 0a2.9 2.9 0 1 0 -5.8 0M124.7 50.2a2.9 2.9 0 1 0 5.8 0a2.9 2.9 0 1 0 -5.8 0M126 55.2a2.9 2.9 0 1 0 5.8 0a2.9 2.9 0 1 0 -5.8 0M126.7 55.1a2.9 2.9 0 1 0 5.8 0a2.9 2.9 0 1 0 -5.8 0M126.7 50.9a2.9 2.9 0 1 0 5.8 0a2.9 2.9 0 1 0 -5.8 0M127.1 51.1a2.9 2.9 0 1 0 5.8 0a2.9 2.9 0 1 0 -5.8 0M127.6 55.5a2.9 2.9 0 1 0 5.8 0a2.9 2.9 0 1 0 -5.8 0M128 53.8a2.9 2.9 0 1 0 5.8 0a2.9 2.9 0 1 0 -5.8 0M128.7 52.9a2.9 2.9 0 1 0 5.8 0a2.9 2.9 0 1 0 -5.8 0M128.6 58.4a2.9 2.9 0 1 0 5.8 0a2.9 2.9 0 1 0 -5.8 0M129.3 57.3a2.9 2.9 0 1 0 5.8 0a2.9 2.9 0 1 0 -5.8 0M129.6 54.5a2.9 2.9 0 1 0 5.8 0a2.9 2.9 0 1 0 -5.8 0M130.3 59a2.9 2.9 0 1 0 5.8 0a2.9 2.9 0 1 0 -5.8 0M130.4 52a2.9 2.9 0 1 0 5.8 0a2.9 2.9 0 1 0 -5.8 0M131.1 54.5a2.9 2.9 0 1 0 5.8 0a2.9 2.9 0 1 0 -5.8 0M131.4 59.3a2.9 2.9 0 1 0 5.8 0a2.9 2.9 0 1 0 -5.8 0M132.2 58.5a2.9 2.9 0 1 0 5.8 0a2.9 2.9 0 1 0 -5.8 0M132.3 55.1a2.9 2.9 0 1 0 5.8 0a2.9 2.9 0 1 0 -5.8 0M132.9 58.4a2.9 2.9 0 1 0 5.8 0a2.9 2.9 0 1 0 -5.8 0M133 57.6a2.9 2.9 0 1 0 5.8 0a2.9 2.9 0 1 0 -5.8 0M133.6 55.3a2.9 2.9 0 1 0 5.8 0a2.9 2.9 0 1 0 -5.8 0M133.9 54.5a2.9 2.9 0 1 0 5.8 0a2.9 2.9 0 1 0 -5.8 0M134.5 60.8a2.9 2.9 0 1 0 5.8 0a2.9 2.9 0 1 0 -5.8 0M134.2 61.5a2.9 2.9 0 1 0 5.8 0a2.9 2.9 0 1 0 -5.8 0M135.5 54.6a2.9 2.9 0 1 0 5.8 0a2.9 2.9 0 1 0 -5.8 0M136 56.2a2.9 2.9 0 1 0 5.8 0a2.9 2.9 0 1 0 -5.8 0M135.9 56.3a2.9 2.9 0 1 0 5.8 0a2.9 2.9 0 1 0 -5.8 0M136.8 59.3a2.9 2.9 0 1 0 5.8 0a2.9 2.9 0 1 0 -5.8 0M137.6 63.3a2.9 2.9 0 1 0 5.8 0a2.9 2.9 0 1 0 -5.8 0M138.7 54.9a2.9 2.9 0 1 0 5.8 0a2.9 2.9 0 1 0 -5.8 0M139.3 57.2a2.9 2.9 0 1 0 5.8 0a2.9 2.9 0 1 0 -5.8 0M139.1 57.7a2.9 2.9 0 1 0 5.8 0a2.9 2.9 0 1 0 -5.8 0M140.1 61.2a2.9 2.9 0 1 0 5.8 0a2.9 2.9 0 1 0 -5.8 0M140.5 56.1a2.9 2.9 0 1 0 5.8 0a2.9 2.9 0 1 0 -5.8 0M140.6 60.7a2.9 2.9 0 1 0 5.8 0a2.9 2.9 0 1 0 -5.8 0M140.6 61.4a2.9 2.9 0 1 0 5.8 0a2.9 2.9 0 1 0 -5.8 0M141.8 57.6a2.9 2.9 0 1 0 5.8 0a2.9 2.9 0 1 0 -5.8 0M142.2 56.2a2.9 2.9 0 1 0 5.8 0a2.9 2.9 0 1 0 -5.8 0M142.3 61.1a2.9 2.9 0 1 0 5.8 0a2.9 2.9 0 1 0 -5.8 0M142.9 50.4a2.9 2.9 0 1 0 5.8 0a2.9 2.9 0 1 0 -5.8 0M143.1 54.7a2.9 2.9 0 1 0 5.8 0a2.9 2.9 0 1 0 -5.8 0M144.2 49.7a2.9 2.9 0 1 0 5.8 0a2.9 2.9 0 1 0 -5.8 0M145.3 55.6a2.9 2.9 0 1 0 5.8 0a2.9 2.9 0 1 0 -5.8 0M145.7 57a2.9 2.9 0 1 0 5.8 0a2.9 2.9 0 1 0 -5.8 0M145.4 51.2a2.9 2.9 0 1 0 5.8 0a2.9 2.9 0 1 0 -5.8 0M146.8 50.5a2.9 2.9 0 1 0 5.8 0a2.9 2.9 0 1 0 -5.8 0M146.7 50.7a2.9 2.9 0 1 0 5.8 0a2.9 2.9 0 1 0 -5.8 0M147.5 52.2a2.9 2.9 0 1 0 5.8 0a2.9 2.9 0 1 0 -5.8 0M147.4 49.8a2.9 2.9 0 1 0 5.8 0a2.9 2.9 0 1 0 -5.8 0M148 53.3a2.9 2.9 0 1 0 5.8 0a2.9 2.9 0 1 0 -5.8 0M148.7 53.3a2.9 2.9 0 1 0 5.8 0a2.9 2.9 0 1 0 -5.8 0M148.7 54.6a2.9 2.9 0 1 0 5.8 0a2.9 2.9 0 1 0 -5.8 0M149.6 54.4a2.9 2.9 0 1 0 5.8 0a2.9 2.9 0 1 0 -5.8 0M150 48.5a2.9 2.9 0 1 0 5.8 0a2.9 2.9 0 1 0 -5.8 0M150.9 48.5a2.9 2.9 0 1 0 5.8 0a2.9 2.9 0 1 0 -5.8 0M150.5 53.2a2.9 2.9 0 1 0 5.8 0a2.9 2.9 0 1 0 -5.8 0M151.6 48.1a2.9 2.9 0 1 0 5.8 0a2.9 2.9 0 1 0 -5.8 0M152.1 46.6a2.9 2.9 0 1 0 5.8 0a2.9 2.9 0 1 0 -5.8 0M152.1 46.2a2.9 2.9 0 1 0 5.8 0a2.9 2.9 0 1 0 -5.8 0M152.6 53.6a2.9 2.9 0 1 0 5.8 0a2.9 2.9 0 1 0 -5.8 0M153.3 49.5a2.9 2.9 0 1 0 5.8 0a2.9 2.9 0 1 0 -5.8 0M153.8 46.9a2.9 2.9 0 1 0 5.8 0a2.9 2.9 0 1 0 -5.8 0M153.6 56.9a2.9 2.9 0 1 0 5.8 0a2.9 2.9 0 1 0 -5.8 0M154.7 51.1a2.9 2.9 0 1 0 5.8 0a2.9 2.9 0 1 0 -5.8 0M164.7 89.8a2.9 2.9 0 1 0 5.8 0a2.9 2.9 0 1 0 -5.8 0M166.2 81a2.9 2.9 0 1 0 5.8 0a2.9 2.9 0 1 0 -5.8 0M160.8 71.4a2.9 2.9 0 1 0 5.8 0a2.9 2.9 0 1 0 -5.8 0M163.2 74.4a2.9 2.9 0 1 0 5.8 0a2.9 2.9 0 1 0 -5.8 0M165.2 88.6a2.9 2.9 0 1 0 5.8 0a2.9 2.9 0 1 0 -5.8 0M161.7 80.1a2.9 2.9 0 1 0 5.8 0a2.9 2.9 0 1 0 -5.8 0M154.1 47.6a2.9 2.9 0 1 0 5.8 0a2.9 2.9 0 1 0 -5.8 0M159 64.3a2.9 2.9 0 1 0 5.8 0a2.9 2.9 0 1 0 -5.8 0M156.5 57.2a2.9 2.9 0 1 0 5.8 0a2.9 2.9 0 1 0 -5.8 0M158.6 69.2a2.9 2.9 0 1 0 5.8 0a2.9 2.9 0 1 0 -5.8 0M155.4 54.8a2.9 2.9 0 1 0 5.8 0a2.9 2.9 0 1 0 -5.8 0M161.3 74.2a2.9 2.9 0 1 0 5.8 0a2.9 2.9 0 1 0 -5.8 0M166.1 89.3a2.9 2.9 0 1 0 5.8 0a2.9 2.9 0 1 0 -5.8 0M164.4 82.5a2.9 2.9 0 1 0 5.8 0a2.9 2.9 0 1 0 -5.8 0M157.8 50.8a2.9 2.9 0 1 0 5.8 0a2.9 2.9 0 1 0 -5.8 0M157.3 57.3a2.9 2.9 0 1 0 5.8 0a2.9 2.9 0 1 0 -5.8 0M154.5 53.6a2.9 2.9 0 1 0 5.8 0a2.9 2.9 0 1 0 -5.8 0M156.7 56.3a2.9 2.9 0 1 0 5.8 0a2.9 2.9 0 1 0 -5.8 0M162.3 74.3a2.9 2.9 0 1 0 5.8 0a2.9 2.9 0 1 0 -5.8 0M163 84.3a2.9 2.9 0 1 0 5.8 0a2.9 2.9 0 1 0 -5.8 0M162.2 81.1a2.9 2.9 0 1 0 5.8 0a2.9 2.9 0 1 0 -5.8 0M152.2 45.7a2.9 2.9 0 1 0 5.8 0a2.9 2.9 0 1 0 -5.8 0M155.7 56.5a2.9 2.9 0 1 0 5.8 0a2.9 2.9 0 1 0 -5.8 0M163.1 80.7a2.9 2.9 0 1 0 5.8 0a2.9 2.9 0 1 0 -5.8 0M162.5 81.4a2.9 2.9 0 1 0 5.8 0a2.9 2.9 0 1 0 -5.8 0M164.8 80.9a2.9 2.9 0 1 0 5.8 0a2.9 2.9 0 1 0 -5.8 0M163.4 83.6a2.9 2.9 0 1 0 5.8 0a2.9 2.9 0 1 0 -5.8 0M163 79.1a2.9 2.9 0 1 0 5.8 0a2.9 2.9 0 1 0 -5.8 0M156.6 57.2a2.9 2.9 0 1 0 5.8 0a2.9 2.9 0 1 0 -5.8 0M155 47.7a2.9 2.9 0 1 0 5.8 0a2.9 2.9 0 1 0 -5.8 0M160 67.9a2.9 2.9 0 1 0 5.8 0a2.9 2.9 0 1 0 -5.8 0M164.8 83.7a2.9 2.9 0 1 0 5.8 0a2.9 2.9 0 1 0 -5.8 0M164.3 83.7a2.9 2.9 0 1 0 5.8 0a2.9 2.9 0 1 0 -5.8 0M156.1 48.5a2.9 2.9 0 1 0 5.8 0a2.9 2.9 0 1 0 -5.8 0M162 73a2.9 2.9 0 1 0 5.8 0a2.9 2.9 0 1 0 -5.8 0M167.2 90.2a2.9 2.9 0 1 0 5.8 0a2.9 2.9 0 1 0 -5.8 0M156 46.6a2.9 2.9 0 1 0 5.8 0a2.9 2.9 0 1 0 -5.8 0M164.6 84.6a2.9 2.9 0 1 0 5.8 0a2.9 2.9 0 1 0 -5.8 0M162.3 80.4a2.9 2.9 0 1 0 5.8 0a2.9 2.9 0 1 0 -5.8 0M161.9 70.5a2.9 2.9 0 1 0 5.8 0a2.9 2.9 0 1 0 -5.8 0M159.3 63.6a2.9 2.9 0 1 0 5.8 0a2.9 2.9 0 1 0 -5.8 0M167.8 89.8a2.9 2.9 0 1 0 5.8 0a2.9 2.9 0 1 0 -5.8 0M157.5 59.6a2.9 2.9 0 1 0 5.8 0a2.9 2.9 0 1 0 -5.8 0M161.7 81.1a2.9 2.9 0 1 0 5.8 0a2.9 2.9 0 1 0 -5.8 0M157.9 70.1a2.9 2.9 0 1 0 5.8 0a2.9 2.9 0 1 0 -5.8 0M165.1 112.2a2.9 2.9 0 1 0 5.8 0a2.9 2.9 0 1 0 -5.8 0M166.3 107.6a2.9 2.9 0 1 0 5.8 0a2.9 2.9 0 1 0 -5.8 0M166.3 107.8a2.9 2.9 0 1 0 5.8 0a2.9 2.9 0 1 0 -5.8 0M167.5 105.3a2.9 2.9 0 1 0 5.8 0a2.9 2.9 0 1 0 -5.8 0M167.5 109.8a2.9 2.9 0 1 0 5.8 0a2.9 2.9 0 1 0 -5.8 0M168.7 108.3a2.9 2.9 0 1 0 5.8 0a2.9 2.9 0 1 0 -5.8 0M168.7 104a2.9 2.9 0 1 0 5.8 0a2.9 2.9 0 1 0 -5.8 0M169.9 104.8a2.9 2.9 0 1 0 5.8 0a2.9 2.9 0 1 0 -5.8 0M171.1 107a2.9 2.9 0 1 0 5.8 0a2.9 2.9 0 1 0 -5.8 0M172.3 105.4a2.9 2.9 0 1 0 5.8 0a2.9 2.9 0 1 0 -5.8 0M172.3 99.1a2.9 2.9 0 1 0 5.8 0a2.9 2.9 0 1 0 -5.8 0M173.5 105.6a2.9 2.9 0 1 0 5.8 0a2.9 2.9 0 1 0 -5.8 0M174.7 100.1a2.9 2.9 0 1 0 5.8 0a2.9 2.9 0 1 0 -5.8 0M175.9 102.6a2.9 2.9 0 1 0 5.8 0a2.9 2.9 0 1 0 -5.8 0M175.9 100.9a2.9 2.9 0 1 0 5.8 0a2.9 2.9 0 1 0 -5.8 0M177.1 113.1a2.9 2.9 0 1 0 5.8 0a2.9 2.9 0 1 0 -5.8 0M178.3 112.8a2.9 2.9 0 1 0 5.8 0a2.9 2.9 0 1 0 -5.8 0M178.3 109a2.9 2.9 0 1 0 5.8 0a2.9 2.9 0 1 0 -5.8 0M179.5 102.6a2.9 2.9 0 1 0 5.8 0a2.9 2.9 0 1 0 -5.8 0M180.7 105.6a2.9 2.9 0 1 0 5.8 0a2.9 2.9 0 1 0 -5.8 0M180.7 116.7a2.9 2.9 0 1 0 5.8 0a2.9 2.9 0 1 0 -5.8 0M181.9 114.4a2.9 2.9 0 1 0 5.8 0a2.9 2.9 0 1 0 -5.8 0M183.1 110.6a2.9 2.9 0 1 0 5.8 0a2.9 2.9 0 1 0 -5.8 0M183.1 110.1a2.9 2.9 0 1 0 5.8 0a2.9 2.9 0 1 0 -5.8 0M184.3 105.3a2.9 2.9 0 1 0 5.8 0a2.9 2.9 0 1 0 -5.8 0M185.5 120a2.9 2.9 0 1 0 5.8 0a2.9 2.9 0 1 0 -5.8 0M185.5 117.7a2.9 2.9 0 1 0 5.8 0a2.9 2.9 0 1 0 -5.8 0M186.7 115.6a2.9 2.9 0 1 0 5.8 0a2.9 2.9 0 1 0 -5.8 0M187.9 109.5a2.9 2.9 0 1 0 5.8 0a2.9 2.9 0 1 0 -5.8 0M189.1 118.3a2.9 2.9 0 1 0 5.8 0a2.9 2.9 0 1 0 -5.8 0M190.3 118.2a2.9 2.9 0 1 0 5.8 0a2.9 2.9 0 1 0 -5.8 0M190.3 116.4a2.9 2.9 0 1 0 5.8 0a2.9 2.9 0 1 0 -5.8 0M191.5 109.5a2.9 2.9 0 1 0 5.8 0a2.9 2.9 0 1 0 -5.8 0M191.5 117.6a2.9 2.9 0 1 0 5.8 0a2.9 2.9 0 1 0 -5.8 0M192.7 110.3a2.9 2.9 0 1 0 5.8 0a2.9 2.9 0 1 0 -5.8 0M193.9 119.9a2.9 2.9 0 1 0 5.8 0a2.9 2.9 0 1 0 -5.8 0M195.1 116.8a2.9 2.9 0 1 0 5.8 0a2.9 2.9 0 1 0 -5.8 0M195.1 116.1a2.9 2.9 0 1 0 5.8 0a2.9 2.9 0 1 0 -5.8 0M196.3 115.4a2.9 2.9 0 1 0 5.8 0a2.9 2.9 0 1 0 -5.8 0M196.3 118.3a2.9 2.9 0 1 0 5.8 0a2.9 2.9 0 1 0 -5.8 0M197.5 116.5a2.9 2.9 0 1 0 5.8 0a2.9 2.9 0 1 0 -5.8 0M197.5 112.6a2.9 2.9 0 1 0 5.8 0a2.9 2.9 0 1 0 -5.8 0M198.7 119.6a2.9 2.9 0 1 0 5.8 0a2.9 2.9 0 1 0 -5.8 0M199.9 121.2a2.9 2.9 0 1 0 5.8 0a2.9 2.9 0 1 0 -5.8 0M201.1 125.9a2.9 2.9 0 1 0 5.8 0a2.9 2.9 0 1 0 -5.8 0M201.1 128a2.9 2.9 0 1 0 5.8 0a2.9 2.9 0 1 0 -5.8 0M202.3 115a2.9 2.9 0 1 0 5.8 0a2.9 2.9 0 1 0 -5.8 0M203.5 112.7a2.9 2.9 0 1 0 5.8 0a2.9 2.9 0 1 0 -5.8 0M203.5 121.9a2.9 2.9 0 1 0 5.8 0a2.9 2.9 0 1 0 -5.8 0M204.7 121.4a2.9 2.9 0 1 0 5.8 0a2.9 2.9 0 1 0 -5.8 0M204.7 127.6a2.9 2.9 0 1 0 5.8 0a2.9 2.9 0 1 0 -5.8 0M205.9 127.9a2.9 2.9 0 1 0 5.8 0a2.9 2.9 0 1 0 -5.8 0M205.9 111.1a2.9 2.9 0 1 0 5.8 0a2.9 2.9 0 1 0 -5.8 0M207.1 123.8a2.9 2.9 0 1 0 5.8 0a2.9 2.9 0 1 0 -5.8 0M207.1 104.7a2.9 2.9 0 1 0 5.8 0a2.9 2.9 0 1 0 -5.8 0M208.3 109.4a2.9 2.9 0 1 0 5.8 0a2.9 2.9 0 1 0 -5.8 0M209.5 123.7a2.9 2.9 0 1 0 5.8 0a2.9 2.9 0 1 0 -5.8 0M209.5 111a2.9 2.9 0 1 0 5.8 0a2.9 2.9 0 1 0 -5.8 0M213.3 138.6a2.9 2.9 0 1 0 5.8 0a2.9 2.9 0 1 0 -5.8 0M215.7 143.4a2.9 2.9 0 1 0 5.8 0a2.9 2.9 0 1 0 -5.8 0M218.1 147.3a2.9 2.9 0 1 0 5.8 0a2.9 2.9 0 1 0 -5.8 0M222.8 148.1a2.9 2.9 0 1 0 5.8 0a2.9 2.9 0 1 0 -5.8 0M214.1 134a2.9 2.9 0 1 0 5.8 0a2.9 2.9 0 1 0 -5.8 0M220.1 145a2.9 2.9 0 1 0 5.8 0a2.9 2.9 0 1 0 -5.8 0M295.5 118.4a2.9 2.9 0 1 0 5.8 0a2.9 2.9 0 1 0 -5.8 0M301.7 109.7a2.9 2.9 0 1 0 5.8 0a2.9 2.9 0 1 0 -5.8 0M283.1 161a2.9 2.9 0 1 0 5.8 0a2.9 2.9 0 1 0 -5.8 0M282.3 158.8a2.9 2.9 0 1 0 5.8 0a2.9 2.9 0 1 0 -5.8 0M290.7 161a2.9 2.9 0 1 0 5.8 0a2.9 2.9 0 1 0 -5.8 0M302 128a2.9 2.9 0 1 0 5.8 0a2.9 2.9 0 1 0 -5.8 0M295.3 117a2.9 2.9 0 1 0 5.8 0a2.9 2.9 0 1 0 -5.8 0M291.3 140a2.9 2.9 0 1 0 5.8 0a2.9 2.9 0 1 0 -5.8 0M294.3 132.1a2.9 2.9 0 1 0 5.8 0a2.9 2.9 0 1 0 -5.8 0M294.5 127.7a2.9 2.9 0 1 0 5.8 0a2.9 2.9 0 1 0 -5.8 0M281.9 159.6a2.9 2.9 0 1 0 5.8 0a2.9 2.9 0 1 0 -5.8 0M288.6 159.1a2.9 2.9 0 1 0 5.8 0a2.9 2.9 0 1 0 -5.8 0M295.6 125a2.9 2.9 0 1 0 5.8 0a2.9 2.9 0 1 0 -5.8 0M292.6 164.5a2.9 2.9 0 1 0 5.8 0a2.9 2.9 0 1 0 -5.8 0M303 125.2a2.9 2.9 0 1 0 5.8 0a2.9 2.9 0 1 0 -5.8 0M304 125.4a2.9 2.9 0 1 0 5.8 0a2.9 2.9 0 1 0 -5.8 0M294.2 128.1a2.9 2.9 0 1 0 5.8 0a2.9 2.9 0 1 0 -5.8 0M292.3 138.5a2.9 2.9 0 1 0 5.8 0a2.9 2.9 0 1 0 -5.8 0M299.4 121.2a2.9 2.9 0 1 0 5.8 0a2.9 2.9 0 1 0 -5.8 0M289.4 152.1a2.9 2.9 0 1 0 5.8 0a2.9 2.9 0 1 0 -5.8 0M300.2 113.9a2.9 2.9 0 1 0 5.8 0a2.9 2.9 0 1 0 -5.8 0M299.9 120.5a2.9 2.9 0 1 0 5.8 0a2.9 2.9 0 1 0 -5.8 0M290.8 141.6a2.9 2.9 0 1 0 5.8 0a2.9 2.9 0 1 0 -5.8 0M300.6 131.9a2.9 2.9 0 1 0 5.8 0a2.9 2.9 0 1 0 -5.8 0M302.2 127.8a2.9 2.9 0 1 0 5.8 0a2.9 2.9 0 1 0 -5.8 0M304.2 109.9a2.9 2.9 0 1 0 5.8 0a2.9 2.9 0 1 0 -5.8 0M294.8 123.9a2.9 2.9 0 1 0 5.8 0a2.9 2.9 0 1 0 -5.8 0M297.1 118.2a2.9 2.9 0 1 0 5.8 0a2.9 2.9 0 1 0 -5.8 0M294.6 138.1a2.9 2.9 0 1 0 5.8 0a2.9 2.9 0 1 0 -5.8 0M291 149a2.9 2.9 0 1 0 5.8 0a2.9 2.9 0 1 0 -5.8 0M286.6 148.8a2.9 2.9 0 1 0 5.8 0a2.9 2.9 0 1 0 -5.8 0M292.1 157.9a2.9 2.9 0 1 0 5.8 0a2.9 2.9 0 1 0 -5.8 0M294.8 138.7a2.9 2.9 0 1 0 5.8 0a2.9 2.9 0 1 0 -5.8 0M294.8 121.5a2.9 2.9 0 1 0 5.8 0a2.9 2.9 0 1 0 -5.8 0M281.4 154.8a2.9 2.9 0 1 0 5.8 0a2.9 2.9 0 1 0 -5.8 0M292.8 119.9a2.9 2.9 0 1 0 5.8 0a2.9 2.9 0 1 0 -5.8 0M296.5 138.3a2.9 2.9 0 1 0 5.8 0a2.9 2.9 0 1 0 -5.8 0M282.9 149.2a2.9 2.9 0 1 0 5.8 0a2.9 2.9 0 1 0 -5.8 0M293.9 137a2.9 2.9 0 1 0 5.8 0a2.9 2.9 0 1 0 -5.8 0M299.8 116.7a2.9 2.9 0 1 0 5.8 0a2.9 2.9 0 1 0 -5.8 0M294.2 141.1a2.9 2.9 0 1 0 5.8 0a2.9 2.9 0 1 0 -5.8 0M285.1 161.5a2.9 2.9 0 1 0 5.8 0a2.9 2.9 0 1 0 -5.8 0M294 138.4a2.9 2.9 0 1 0 5.8 0a2.9 2.9 0 1 0 -5.8 0M295.3 128a2.9 2.9 0 1 0 5.8 0a2.9 2.9 0 1 0 -5.8 0M290.1 163.9a2.9 2.9 0 1 0 5.8 0a2.9 2.9 0 1 0 -5.8 0M281.5 156.5a2.9 2.9 0 1 0 5.8 0a2.9 2.9 0 1 0 -5.8 0M283.4 161.3a2.9 2.9 0 1 0 5.8 0a2.9 2.9 0 1 0 -5.8 0M298.6 129.4a2.9 2.9 0 1 0 5.8 0a2.9 2.9 0 1 0 -5.8 0M291.6 137.3a2.9 2.9 0 1 0 5.8 0a2.9 2.9 0 1 0 -5.8 0M291.9 152.5a2.9 2.9 0 1 0 5.8 0a2.9 2.9 0 1 0 -5.8 0M291.2 158.5a2.9 2.9 0 1 0 5.8 0a2.9 2.9 0 1 0 -5.8 0M300.6 123.9a2.9 2.9 0 1 0 5.8 0a2.9 2.9 0 1 0 -5.8 0M288 160.8a2.9 2.9 0 1 0 5.8 0a2.9 2.9 0 1 0 -5.8 0M303.1 133.3a2.9 2.9 0 1 0 5.8 0a2.9 2.9 0 1 0 -5.8 0M287.2 145.3a2.9 2.9 0 1 0 5.8 0a2.9 2.9 0 1 0 -5.8 0M293.4 137.8a2.9 2.9 0 1 0 5.8 0a2.9 2.9 0 1 0 -5.8 0M294.1 117.3a2.9 2.9 0 1 0 5.8 0a2.9 2.9 0 1 0 -5.8 0M295.8 131.8a2.9 2.9 0 1 0 5.8 0a2.9 2.9 0 1 0 -5.8 0M296.2 139.6a2.9 2.9 0 1 0 5.8 0a2.9 2.9 0 1 0 -5.8 0M287.7 145.4a2.9 2.9 0 1 0 5.8 0a2.9 2.9 0 1 0 -5.8 0M294.6 139.7a2.9 2.9 0 1 0 5.8 0a2.9 2.9 0 1 0 -5.8 0M295.2 122.6a2.9 2.9 0 1 0 5.8 0a2.9 2.9 0 1 0 -5.8 0M289.7 141.8a2.9 2.9 0 1 0 5.8 0a2.9 2.9 0 1 0 -5.8 0M299.2 122.4a2.9 2.9 0 1 0 5.8 0a2.9 2.9 0 1 0 -5.8 0M283.7 164.3a2.9 2.9 0 1 0 5.8 0a2.9 2.9 0 1 0 -5.8 0M303.5 112.7a2.9 2.9 0 1 0 5.8 0a2.9 2.9 0 1 0 -5.8 0M297.5 130.7a2.9 2.9 0 1 0 5.8 0a2.9 2.9 0 1 0 -5.8 0M304 121.6a2.9 2.9 0 1 0 5.8 0a2.9 2.9 0 1 0 -5.8 0M296.6 127.9a2.9 2.9 0 1 0 5.8 0a2.9 2.9 0 1 0 -5.8 0M290.5 156.6a2.9 2.9 0 1 0 5.8 0a2.9 2.9 0 1 0 -5.8 0M289.9 150.6a2.9 2.9 0 1 0 5.8 0a2.9 2.9 0 1 0 -5.8 0M292.1 148.7a2.9 2.9 0 1 0 5.8 0a2.9 2.9 0 1 0 -5.8 0M302.4 109.2a2.9 2.9 0 1 0 5.8 0a2.9 2.9 0 1 0 -5.8 0M287.3 162.9a2.9 2.9 0 1 0 5.8 0a2.9 2.9 0 1 0 -5.8 0M287.9 157.9a2.9 2.9 0 1 0 5.8 0a2.9 2.9 0 1 0 -5.8 0M300 134.6a2.9 2.9 0 1 0 5.8 0a2.9 2.9 0 1 0 -5.8 0M292.8 140.1a2.9 2.9 0 1 0 5.8 0a2.9 2.9 0 1 0 -5.8 0M286.7 156.6a2.9 2.9 0 1 0 5.8 0a2.9 2.9 0 1 0 -5.8 0M294.3 126a2.9 2.9 0 1 0 5.8 0a2.9 2.9 0 1 0 -5.8 0M304 113.9a2.9 2.9 0 1 0 5.8 0a2.9 2.9 0 1 0 -5.8 0M292.1 155.9a2.9 2.9 0 1 0 5.8 0a2.9 2.9 0 1 0 -5.8 0M280.6 160a2.9 2.9 0 1 0 5.8 0a2.9 2.9 0 1 0 -5.8 0M299.7 136.9a2.9 2.9 0 1 0 5.8 0a2.9 2.9 0 1 0 -5.8 0M286.5 164.9a2.9 2.9 0 1 0 5.8 0a2.9 2.9 0 1 0 -5.8 0M296.6 130.8a2.9 2.9 0 1 0 5.8 0a2.9 2.9 0 1 0 -5.8 0M288.6 162.1a2.9 2.9 0 1 0 5.8 0a2.9 2.9 0 1 0 -5.8 0M297.1 130a2.9 2.9 0 1 0 5.8 0a2.9 2.9 0 1 0 -5.8 0M292.2 158.3a2.9 2.9 0 1 0 5.8 0a2.9 2.9 0 1 0 -5.8 0M294.1 144a2.9 2.9 0 1 0 5.8 0a2.9 2.9 0 1 0 -5.8 0M283 154.7a2.9 2.9 0 1 0 5.8 0a2.9 2.9 0 1 0 -5.8 0M287 155.3a2.9 2.9 0 1 0 5.8 0a2.9 2.9 0 1 0 -5.8 0M291.5 147.6a2.9 2.9 0 1 0 5.8 0a2.9 2.9 0 1 0 -5.8 0M294.3 132.6a2.9 2.9 0 1 0 5.8 0a2.9 2.9 0 1 0 -5.8 0M293 137.3a2.9 2.9 0 1 0 5.8 0a2.9 2.9 0 1 0 -5.8 0M290.8 142.8a2.9 2.9 0 1 0 5.8 0a2.9 2.9 0 1 0 -5.8 0M297.8 111.4a2.9 2.9 0 1 0 5.8 0a2.9 2.9 0 1 0 -5.8 0M284 147.7a2.9 2.9 0 1 0 5.8 0a2.9 2.9 0 1 0 -5.8 0M293.1 141.8a2.9 2.9 0 1 0 5.8 0a2.9 2.9 0 1 0 -5.8 0M292.1 140a2.9 2.9 0 1 0 5.8 0a2.9 2.9 0 1 0 -5.8 0M287.2 164.8a2.9 2.9 0 1 0 5.8 0a2.9 2.9 0 1 0 -5.8 0M301.8 117.8a2.9 2.9 0 1 0 5.8 0a2.9 2.9 0 1 0 -5.8 0M298.9 118.6a2.9 2.9 0 1 0 5.8 0a2.9 2.9 0 1 0 -5.8 0M281.8 154.2a2.9 2.9 0 1 0 5.8 0a2.9 2.9 0 1 0 -5.8 0M300.8 127.1a2.9 2.9 0 1 0 5.8 0a2.9 2.9 0 1 0 -5.8 0M293.8 123.9a2.9 2.9 0 1 0 5.8 0a2.9 2.9 0 1 0 -5.8 0M297.7 128.5a2.9 2.9 0 1 0 5.8 0a2.9 2.9 0 1 0 -5.8 0M287.6 158.9a2.9 2.9 0 1 0 5.8 0a2.9 2.9 0 1 0 -5.8 0M289.4 143.7a2.9 2.9 0 1 0 5.8 0a2.9 2.9 0 1 0 -5.8 0M284.5 156.9a2.9 2.9 0 1 0 5.8 0a2.9 2.9 0 1 0 -5.8 0M299.6 126a2.9 2.9 0 1 0 5.8 0a2.9 2.9 0 1 0 -5.8 0M283.2 162.2a2.9 2.9 0 1 0 5.8 0a2.9 2.9 0 1 0 -5.8 0M296.3 121.4a2.9 2.9 0 1 0 5.8 0a2.9 2.9 0 1 0 -5.8 0M284 153.4a2.9 2.9 0 1 0 5.8 0a2.9 2.9 0 1 0 -5.8 0M304.3 119.4a2.9 2.9 0 1 0 5.8 0a2.9 2.9 0 1 0 -5.8 0M299.2 115.4a2.9 2.9 0 1 0 5.8 0a2.9 2.9 0 1 0 -5.8 0M294.1 112.7a2.9 2.9 0 1 0 5.8 0a2.9 2.9 0 1 0 -5.8 0M294.9 122.7a2.9 2.9 0 1 0 5.8 0a2.9 2.9 0 1 0 -5.8 0M301 111a2.9 2.9 0 1 0 5.8 0a2.9 2.9 0 1 0 -5.8 0M284 148.5a2.9 2.9 0 1 0 5.8 0a2.9 2.9 0 1 0 -5.8 0M298 116.2a2.9 2.9 0 1 0 5.8 0a2.9 2.9 0 1 0 -5.8 0M296.9 117.9a2.9 2.9 0 1 0 5.8 0a2.9 2.9 0 1 0 -5.8 0M282.8 162.7a2.9 2.9 0 1 0 5.8 0a2.9 2.9 0 1 0 -5.8 0M298 121.7a2.9 2.9 0 1 0 5.8 0a2.9 2.9 0 1 0 -5.8 0M334.8 148.3a2.9 2.9 0 1 0 5.8 0a2.9 2.9 0 1 0 -5.8 0M332.1 147.5a2.9 2.9 0 1 0 5.8 0a2.9 2.9 0 1 0 -5.8 0M331.2 140.8a2.9 2.9 0 1 0 5.8 0a2.9 2.9 0 1 0 -5.8 0M325.7 176.4a2.9 2.9 0 1 0 5.8 0a2.9 2.9 0 1 0 -5.8 0M330.1 151.1a2.9 2.9 0 1 0 5.8 0a2.9 2.9 0 1 0 -5.8 0M324.9 180.8a2.9 2.9 0 1 0 5.8 0a2.9 2.9 0 1 0 -5.8 0M328.1 164.9a2.9 2.9 0 1 0 5.8 0a2.9 2.9 0 1 0 -5.8 0M329.5 137.6a2.9 2.9 0 1 0 5.8 0a2.9 2.9 0 1 0 -5.8 0M325.6 173.4a2.9 2.9 0 1 0 5.8 0a2.9 2.9 0 1 0 -5.8 0M328 176.6a2.9 2.9 0 1 0 5.8 0a2.9 2.9 0 1 0 -5.8 0M326.7 149.2a2.9 2.9 0 1 0 5.8 0a2.9 2.9 0 1 0 -5.8 0M330.3 153.3a2.9 2.9 0 1 0 5.8 0a2.9 2.9 0 1 0 -5.8 0M334.3 147.7a2.9 2.9 0 1 0 5.8 0a2.9 2.9 0 1 0 -5.8 0M327.7 144a2.9 2.9 0 1 0 5.8 0a2.9 2.9 0 1 0 -5.8 0M324.5 173.2a2.9 2.9 0 1 0 5.8 0a2.9 2.9 0 1 0 -5.8 0M329.3 144.9a2.9 2.9 0 1 0 5.8 0a2.9 2.9 0 1 0 -5.8 0M332.4 151.1a2.9 2.9 0 1 0 5.8 0a2.9 2.9 0 1 0 -5.8 0M330.5 165.4a2.9 2.9 0 1 0 5.8 0a2.9 2.9 0 1 0 -5.8 0M326.1 171.6a2.9 2.9 0 1 0 5.8 0a2.9 2.9 0 1 0 -5.8 0M325.2 176.7a2.9 2.9 0 1 0 5.8 0a2.9 2.9 0 1 0 -5.8 0M325.3 167.4a2.9 2.9 0 1 0 5.8 0a2.9 2.9 0 1 0 -5.8 0M324.8 177.5a2.9 2.9 0 1 0 5.8 0a2.9 2.9 0 1 0 -5.8 0M332.8 138.7a2.9 2.9 0 1 0 5.8 0a2.9 2.9 0 1 0 -5.8 0M324.9 179.6a2.9 2.9 0 1 0 5.8 0a2.9 2.9 0 1 0 -5.8 0M335.3 157.3a2.9 2.9 0 1 0 5.8 0a2.9 2.9 0 1 0 -5.8 0M326.4 179.6a2.9 2.9 0 1 0 5.8 0a2.9 2.9 0 1 0 -5.8 0M326.4 172.4a2.9 2.9 0 1 0 5.8 0a2.9 2.9 0 1 0 -5.8 0M333.4 141a2.9 2.9 0 1 0 5.8 0a2.9 2.9 0 1 0 -5.8 0M324.9 178.3a2.9 2.9 0 1 0 5.8 0a2.9 2.9 0 1 0 -5.8 0M327.7 169.1a2.9 2.9 0 1 0 5.8 0a2.9 2.9 0 1 0 -5.8 0M330.3 153.7a2.9 2.9 0 1 0 5.8 0a2.9 2.9 0 1 0 -5.8 0M332.9 141.5a2.9 2.9 0 1 0 5.8 0a2.9 2.9 0 1 0 -5.8 0M331.2 147.3a2.9 2.9 0 1 0 5.8 0a2.9 2.9 0 1 0 -5.8 0M329.2 153.3a2.9 2.9 0 1 0 5.8 0a2.9 2.9 0 1 0 -5.8 0M327.9 165a2.9 2.9 0 1 0 5.8 0a2.9 2.9 0 1 0 -5.8 0M324.8 175.8a2.9 2.9 0 1 0 5.8 0a2.9 2.9 0 1 0 -5.8 0M333.7 159.4a2.9 2.9 0 1 0 5.8 0a2.9 2.9 0 1 0 -5.8 0M329.8 149.9a2.9 2.9 0 1 0 5.8 0a2.9 2.9 0 1 0 -5.8 0M328.3 149.4a2.9 2.9 0 1 0 5.8 0a2.9 2.9 0 1 0 -5.8 0M329.6 140.2a2.9 2.9 0 1 0 5.8 0a2.9 2.9 0 1 0 -5.8 0M327.3 143.2a2.9 2.9 0 1 0 5.8 0a2.9 2.9 0 1 0 -5.8 0M324.5 175.3a2.9 2.9 0 1 0 5.8 0a2.9 2.9 0 1 0 -5.8 0M326.2 165a2.9 2.9 0 1 0 5.8 0a2.9 2.9 0 1 0 -5.8 0M331.5 144.4a2.9 2.9 0 1 0 5.8 0a2.9 2.9 0 1 0 -5.8 0M328 169.4a2.9 2.9 0 1 0 5.8 0a2.9 2.9 0 1 0 -5.8 0M328.8 147.8a2.9 2.9 0 1 0 5.8 0a2.9 2.9 0 1 0 -5.8 0M327.8 176.6a2.9 2.9 0 1 0 5.8 0a2.9 2.9 0 1 0 -5.8 0M329.3 169.1a2.9 2.9 0 1 0 5.8 0a2.9 2.9 0 1 0 -5.8 0M327.6 177.2a2.9 2.9 0 1 0 5.8 0a2.9 2.9 0 1 0 -5.8 0M334 144.1a2.9 2.9 0 1 0 5.8 0a2.9 2.9 0 1 0 -5.8 0M328.3 164.3a2.9 2.9 0 1 0 5.8 0a2.9 2.9 0 1 0 -5.8 0M331.7 136.3a2.9 2.9 0 1 0 5.8 0a2.9 2.9 0 1 0 -5.8 0M328.7 172.8a2.9 2.9 0 1 0 5.8 0a2.9 2.9 0 1 0 -5.8 0M327.3 161.5a2.9 2.9 0 1 0 5.8 0a2.9 2.9 0 1 0 -5.8 0M332.7 138.4a2.9 2.9 0 1 0 5.8 0a2.9 2.9 0 1 0 -5.8 0M323.3 187.3a2.9 2.9 0 1 0 5.8 0a2.9 2.9 0 1 0 -5.8 0M333.1 144.5a2.9 2.9 0 1 0 5.8 0a2.9 2.9 0 1 0 -5.8 0M326.9 181a2.9 2.9 0 1 0 5.8 0a2.9 2.9 0 1 0 -5.8 0M327.1 170.4a2.9 2.9 0 1 0 5.8 0a2.9 2.9 0 1 0 -5.8 0M332.7 158.1a2.9 2.9 0 1 0 5.8 0a2.9 2.9 0 1 0 -5.8 0M329.3 143a2.9 2.9 0 1 0 5.8 0a2.9 2.9 0 1 0 -5.8 0M328.2 153.1a2.9 2.9 0 1 0 5.8 0a2.9 2.9 0 1 0 -5.8 0M335.8 159.3a2.9 2.9 0 1 0 5.8 0a2.9 2.9 0 1 0 -5.8 0M326.4 187.6a2.9 2.9 0 1 0 5.8 0a2.9 2.9 0 1 0 -5.8 0M332.6 137.3a2.9 2.9 0 1 0 5.8 0a2.9 2.9 0 1 0 -5.8 0M332.2 165.4a2.9 2.9 0 1 0 5.8 0a2.9 2.9 0 1 0 -5.8 0M329.6 150.5a2.9 2.9 0 1 0 5.8 0a2.9 2.9 0 1 0 -5.8 0M332.7 144.4a2.9 2.9 0 1 0 5.8 0a2.9 2.9 0 1 0 -5.8 0M326.4 170.3a2.9 2.9 0 1 0 5.8 0a2.9 2.9 0 1 0 -5.8 0M330.4 163.1a2.9 2.9 0 1 0 5.8 0a2.9 2.9 0 1 0 -5.8 0M334.6 143.9a2.9 2.9 0 1 0 5.8 0a2.9 2.9 0 1 0 -5.8 0M324.5 181.4a2.9 2.9 0 1 0 5.8 0a2.9 2.9 0 1 0 -5.8 0M331 147.8a2.9 2.9 0 1 0 5.8 0a2.9 2.9 0 1 0 -5.8 0M346.2 134.2a2.9 2.9 0 1 0 5.8 0a2.9 2.9 0 1 0 -5.8 0M349.2 119.4a2.9 2.9 0 1 0 5.8 0a2.9 2.9 0 1 0 -5.8 0M350.6 142.9a2.9 2.9 0 1 0 5.8 0a2.9 2.9 0 1 0 -5.8 0M355 120.4a2.9 2.9 0 1 0 5.8 0a2.9 2.9 0 1 0 -5.8 0M349 141.9a2.9 2.9 0 1 0 5.8 0a2.9 2.9 0 1 0 -5.8 0M352.8 133.9a2.9 2.9 0 1 0 5.8 0a2.9 2.9 0 1 0 -5.8 0M347.5 118.7a2.9 2.9 0 1 0 5.8 0a2.9 2.9 0 1 0 -5.8 0M347.2 134.8a2.9 2.9 0 1 0 5.8 0a2.9 2.9 0 1 0 -5.8 0M354 129.8a2.9 2.9 0 1 0 5.8 0a2.9 2.9 0 1 0 -5.8 0M354.3 133.9a2.9 2.9 0 1 0 5.8 0a2.9 2.9 0 1 0 -5.8 0M348.5 139.4a2.9 2.9 0 1 0 5.8 0a2.9 2.9 0 1 0 -5.8 0M346.3 141.8a2.9 2.9 0 1 0 5.8 0a2.9 2.9 0 1 0 -5.8 0M352.3 145.4a2.9 2.9 0 1 0 5.8 0a2.9 2.9 0 1 0 -5.8 0M350.6 120a2.9 2.9 0 1 0 5.8 0a2.9 2.9 0 1 0 -5.8 0M351.9 144.8a2.9 2.9 0 1 0 5.8 0a2.9 2.9 0 1 0 -5.8 0M353.5 130.4a2.9 2.9 0 1 0 5.8 0a2.9 2.9 0 1 0 -5.8 0M346.2 117.6a2.9 2.9 0 1 0 5.8 0a2.9 2.9 0 1 0 -5.8 0M348 133.6a2.9 2.9 0 1 0 5.8 0a2.9 2.9 0 1 0 -5.8 0M353.9 121.3a2.9 2.9 0 1 0 5.8 0a2.9 2.9 0 1 0 -5.8 0M354.6 141.2a2.9 2.9 0 1 0 5.8 0a2.9 2.9 0 1 0 -5.8 0M350.1 121.5a2.9 2.9 0 1 0 5.8 0a2.9 2.9 0 1 0 -5.8 0M346.9 118.1a2.9 2.9 0 1 0 5.8 0a2.9 2.9 0 1 0 -5.8 0M349.9 128.8a2.9 2.9 0 1 0 5.8 0a2.9 2.9 0 1 0 -5.8 0M353.8 128.8a2.9 2.9 0 1 0 5.8 0a2.9 2.9 0 1 0 -5.8 0M347.3 126.9a2.9 2.9 0 1 0 5.8 0a2.9 2.9 0 1 0 -5.8 0M346.8 118.3a2.9 2.9 0 1 0 5.8 0a2.9 2.9 0 1 0 -5.8 0M349 134.3a2.9 2.9 0 1 0 5.8 0a2.9 2.9 0 1 0 -5.8 0M348.4 134.4a2.9 2.9 0 1 0 5.8 0a2.9 2.9 0 1 0 -5.8 0M345.6 146.6a2.9 2.9 0 1 0 5.8 0a2.9 2.9 0 1 0 -5.8 0M347.8 125.2a2.9 2.9 0 1 0 5.8 0a2.9 2.9 0 1 0 -5.8 0M350.4 134.1a2.9 2.9 0 1 0 5.8 0a2.9 2.9 0 1 0 -5.8 0M350.7 118a2.9 2.9 0 1 0 5.8 0a2.9 2.9 0 1 0 -5.8 0M351.4 140.2a2.9 2.9 0 1 0 5.8 0a2.9 2.9 0 1 0 -5.8 0M353.1 125.4a2.9 2.9 0 1 0 5.8 0a2.9 2.9 0 1 0 -5.8 0M348.1 137.4a2.9 2.9 0 1 0 5.8 0a2.9 2.9 0 1 0 -5.8 0M351.5 132.3a2.9 2.9 0 1 0 5.8 0a2.9 2.9 0 1 0 -5.8 0M345.7 129.2a2.9 2.9 0 1 0 5.8 0a2.9 2.9 0 1 0 -5.8 0M349.9 146.7a2.9 2.9 0 1 0 5.8 0a2.9 2.9 0 1 0 -5.8 0M348.6 124a2.9 2.9 0 1 0 5.8 0a2.9 2.9 0 1 0 -5.8 0M349.6 143.1a2.9 2.9 0 1 0 5.8 0a2.9 2.9 0 1 0 -5.8 0M346.8 126.1a2.9 2.9 0 1 0 5.8 0a2.9 2.9 0 1 0 -5.8 0M352.4 126.3a2.9 2.9 0 1 0 5.8 0a2.9 2.9 0 1 0 -5.8 0M354.3 127.2a2.9 2.9 0 1 0 5.8 0a2.9 2.9 0 1 0 -5.8 0M350.9 122.4a2.9 2.9 0 1 0 5.8 0a2.9 2.9 0 1 0 -5.8 0M349.4 140.2a2.9 2.9 0 1 0 5.8 0a2.9 2.9 0 1 0 -5.8 0M354.1 131.5a2.9 2.9 0 1 0 5.8 0a2.9 2.9 0 1 0 -5.8 0M346.7 117.7a2.9 2.9 0 1 0 5.8 0a2.9 2.9 0 1 0 -5.8 0M349.1 123.5a2.9 2.9 0 1 0 5.8 0a2.9 2.9 0 1 0 -5.8 0M351.6 142.9a2.9 2.9 0 1 0 5.8 0a2.9 2.9 0 1 0 -5.8 0M351.1 145.9a2.9 2.9 0 1 0 5.8 0a2.9 2.9 0 1 0 -5.8 0M348.5 143.3a2.9 2.9 0 1 0 5.8 0a2.9 2.9 0 1 0 -5.8 0M353.9 133.1a2.9 2.9 0 1 0 5.8 0a2.9 2.9 0 1 0 -5.8 0M348.4 123.4a2.9 2.9 0 1 0 5.8 0a2.9 2.9 0 1 0 -5.8 0M351.9 129.2a2.9 2.9 0 1 0 5.8 0a2.9 2.9 0 1 0 -5.8 0M345.6 129.4a2.9 2.9 0 1 0 5.8 0a2.9 2.9 0 1 0 -5.8 0M351.1 131.8a2.9 2.9 0 1 0 5.8 0a2.9 2.9 0 1 0 -5.8 0M354.4 117.4a2.9 2.9 0 1 0 5.8 0a2.9 2.9 0 1 0 -5.8 0M351.2 118.7a2.9 2.9 0 1 0 5.8 0a2.9 2.9 0 1 0 -5.8 0M346.7 119.8a2.9 2.9 0 1 0 5.8 0a2.9 2.9 0 1 0 -5.8 0M353.2 119.7a2.9 2.9 0 1 0 5.8 0a2.9 2.9 0 1 0 -5.8 0M350.6 134.7a2.9 2.9 0 1 0 5.8 0a2.9 2.9 0 1 0 -5.8 0M352.5 126.9a2.9 2.9 0 1 0 5.8 0a2.9 2.9 0 1 0 -5.8 0M352.9 139.9a2.9 2.9 0 1 0 5.8 0a2.9 2.9 0 1 0 -5.8 0M349.6 146.3a2.9 2.9 0 1 0 5.8 0a2.9 2.9 0 1 0 -5.8 0M346.4 145.2a2.9 2.9 0 1 0 5.8 0a2.9 2.9 0 1 0 -5.8 0M352.8 136.7a2.9 2.9 0 1 0 5.8 0a2.9 2.9 0 1 0 -5.8 0M352.7 123.8a2.9 2.9 0 1 0 5.8 0a2.9 2.9 0 1 0 -5.8 0M361.6 150.8a2.9 2.9 0 1 0 5.8 0a2.9 2.9 0 1 0 -5.8 0M368.6 151.8a2.9 2.9 0 1 0 5.8 0a2.9 2.9 0 1 0 -5.8 0M367 151.7a2.9 2.9 0 1 0 5.8 0a2.9 2.9 0 1 0 -5.8 0M367.3 148.6a2.9 2.9 0 1 0 5.8 0a2.9 2.9 0 1 0 -5.8 0M366.2 158.5a2.9 2.9 0 1 0 5.8 0a2.9 2.9 0 1 0 -5.8 0M363.7 157.7a2.9 2.9 0 1 0 5.8 0a2.9 2.9 0 1 0 -5.8 0M361.6 163.4a2.9 2.9 0 1 0 5.8 0a2.9 2.9 0 1 0 -5.8 0M361.6 166.1a2.9 2.9 0 1 0 5.8 0a2.9 2.9 0 1 0 -5.8 0M368.7 167.3a2.9 2.9 0 1 0 5.8 0a2.9 2.9 0 1 0 -5.8 0M363.2 153.3a2.9 2.9 0 1 0 5.8 0a2.9 2.9 0 1 0 -5.8 0M367.2 152.3a2.9 2.9 0 1 0 5.8 0a2.9 2.9 0 1 0 -5.8 0M362.8 168.9a2.9 2.9 0 1 0 5.8 0a2.9 2.9 0 1 0 -5.8 0M368.1 166.1a2.9 2.9 0 1 0 5.8 0a2.9 2.9 0 1 0 -5.8 0M363.4 165.3a2.9 2.9 0 1 0 5.8 0a2.9 2.9 0 1 0 -5.8 0M362.4 166.7a2.9 2.9 0 1 0 5.8 0a2.9 2.9 0 1 0 -5.8 0M365.7 157.5a2.9 2.9 0 1 0 5.8 0a2.9 2.9 0 1 0 -5.8 0M364 166.6a2.9 2.9 0 1 0 5.8 0a2.9 2.9 0 1 0 -5.8 0M368 151.8a2.9 2.9 0 1 0 5.8 0a2.9 2.9 0 1 0 -5.8 0M362 148.5a2.9 2.9 0 1 0 5.8 0a2.9 2.9 0 1 0 -5.8 0M362.3 167.1a2.9 2.9 0 1 0 5.8 0a2.9 2.9 0 1 0 -5.8 0M366.6 151.5a2.9 2.9 0 1 0 5.8 0a2.9 2.9 0 1 0 -5.8 0M366.8 167.3a2.9 2.9 0 1 0 5.8 0a2.9 2.9 0 1 0 -5.8 0M363 148.7a2.9 2.9 0 1 0 5.8 0a2.9 2.9 0 1 0 -5.8 0M365.1 148.8a2.9 2.9 0 1 0 5.8 0a2.9 2.9 0 1 0 -5.8 0M361.3 150.2a2.9 2.9 0 1 0 5.8 0a2.9 2.9 0 1 0 -5.8 0M362.1 166.5a2.9 2.9 0 1 0 5.8 0a2.9 2.9 0 1 0 -5.8 0M362.5 157a2.9 2.9 0 1 0 5.8 0a2.9 2.9 0 1 0 -5.8 0M365.1 163.5a2.9 2.9 0 1 0 5.8 0a2.9 2.9 0 1 0 -5.8 0M368.4 158.4a2.9 2.9 0 1 0 5.8 0a2.9 2.9 0 1 0 -5.8 0M368.2 168.3a2.9 2.9 0 1 0 5.8 0a2.9 2.9 0 1 0 -5.8 0M363.2 151.7a2.9 2.9 0 1 0 5.8 0a2.9 2.9 0 1 0 -5.8 0M364.4 158.7a2.9 2.9 0 1 0 5.8 0a2.9 2.9 0 1 0 -5.8 0M366.6 148.2a2.9 2.9 0 1 0 5.8 0a2.9 2.9 0 1 0 -5.8 0M366.6 159.5a2.9 2.9 0 1 0 5.8 0a2.9 2.9 0 1 0 -5.8 0M364.3 163.1a2.9 2.9 0 1 0 5.8 0a2.9 2.9 0 1 0 -5.8 0M364.2 168.4a2.9 2.9 0 1 0 5.8 0a2.9 2.9 0 1 0 -5.8 0M369.1 151a2.9 2.9 0 1 0 5.8 0a2.9 2.9 0 1 0 -5.8 0M363.1 167.5a2.9 2.9 0 1 0 5.8 0a2.9 2.9 0 1 0 -5.8 0M362.7 153.1a2.9 2.9 0 1 0 5.8 0a2.9 2.9 0 1 0 -5.8 0M368.4 164.5a2.9 2.9 0 1 0 5.8 0a2.9 2.9 0 1 0 -5.8 0M366.3 154.8a2.9 2.9 0 1 0 5.8 0a2.9 2.9 0 1 0 -5.8 0M361.1 168.4a2.9 2.9 0 1 0 5.8 0a2.9 2.9 0 1 0 -5.8 0M365.8 158.7a2.9 2.9 0 1 0 5.8 0a2.9 2.9 0 1 0 -5.8 0M381 152.7a2.9 2.9 0 1 0 5.8 0a2.9 2.9 0 1 0 -5.8 0M379.3 146.8a2.9 2.9 0 1 0 5.8 0a2.9 2.9 0 1 0 -5.8 0M380.1 145.1a2.9 2.9 0 1 0 5.8 0a2.9 2.9 0 1 0 -5.8 0M377.2 152.3a2.9 2.9 0 1 0 5.8 0a2.9 2.9 0 1 0 -5.8 0M379.3 155a2.9 2.9 0 1 0 5.8 0a2.9 2.9 0 1 0 -5.8 0M382.5 140.6a2.9 2.9 0 1 0 5.8 0a2.9 2.9 0 1 0 -5.8 0M381.6 150.2a2.9 2.9 0 1 0 5.8 0a2.9 2.9 0 1 0 -5.8 0M378.8 157.5a2.9 2.9 0 1 0 5.8 0a2.9 2.9 0 1 0 -5.8 0M382 159.4a2.9 2.9 0 1 0 5.8 0a2.9 2.9 0 1 0 -5.8 0M381.6 157.8a2.9 2.9 0 1 0 5.8 0a2.9 2.9 0 1 0 -5.8 0M375.9 143.3a2.9 2.9 0 1 0 5.8 0a2.9 2.9 0 1 0 -5.8 0M378.7 150a2.9 2.9 0 1 0 5.8 0a2.9 2.9 0 1 0 -5.8 0M380.7 161.9a2.9 2.9 0 1 0 5.8 0a2.9 2.9 0 1 0 -5.8 0M381.2 157a2.9 2.9 0 1 0 5.8 0a2.9 2.9 0 1 0 -5.8 0M379.3 146.2a2.9 2.9 0 1 0 5.8 0a2.9 2.9 0 1 0 -5.8 0M378.1 145.5a2.9 2.9 0 1 0 5.8 0a2.9 2.9 0 1 0 -5.8 0M375.6 151.3a2.9 2.9 0 1 0 5.8 0a2.9 2.9 0 1 0 -5.8 0M377.7 143.9a2.9 2.9 0 1 0 5.8 0a2.9 2.9 0 1 0 -5.8 0M380.2 139.3a2.9 2.9 0 1 0 5.8 0a2.9 2.9 0 1 0 -5.8 0M381.4 147.6a2.9 2.9 0 1 0 5.8 0a2.9 2.9 0 1 0 -5.8 0M378.6 138.1a2.9 2.9 0 1 0 5.8 0a2.9 2.9 0 1 0 -5.8 0M378.4 144.4a2.9 2.9 0 1 0 5.8 0a2.9 2.9 0 1 0 -5.8 0M378.2 145.8a2.9 2.9 0 1 0 5.8 0a2.9 2.9 0 1 0 -5.8 0M382.9 141.8a2.9 2.9 0 1 0 5.8 0a2.9 2.9 0 1 0 -5.8 0M377.7 153.6a2.9 2.9 0 1 0 5.8 0a2.9 2.9 0 1 0 -5.8 0M379.3 146.5a2.9 2.9 0 1 0 5.8 0a2.9 2.9 0 1 0 -5.8 0M375.3 155.9a2.9 2.9 0 1 0 5.8 0a2.9 2.9 0 1 0 -5.8 0M381.8 148.6a2.9 2.9 0 1 0 5.8 0a2.9 2.9 0 1 0 -5.8 0M378.6 159.3a2.9 2.9 0 1 0 5.8 0a2.9 2.9 0 1 0 -5.8 0M380.5 157.6a2.9 2.9 0 1 0 5.8 0a2.9 2.9 0 1 0 -5.8 0M380.5 138a2.9 2.9 0 1 0 5.8 0a2.9 2.9 0 1 0 -5.8 0M376 156.2a2.9 2.9 0 1 0 5.8 0a2.9 2.9 0 1 0 -5.8 0M375.9 157.4a2.9 2.9 0 1 0 5.8 0a2.9 2.9 0 1 0 -5.8 0M375.5 151.1a2.9 2.9 0 1 0 5.8 0a2.9 2.9 0 1 0 -5.8 0M375.5 149.1a2.9 2.9 0 1 0 5.8 0a2.9 2.9 0 1 0 -5.8 0M383.1 151.6a2.9 2.9 0 1 0 5.8 0a2.9 2.9 0 1 0 -5.8 0M377.8 140.6a2.9 2.9 0 1 0 5.8 0a2.9 2.9 0 1 0 -5.8 0M377.3 161.7a2.9 2.9 0 1 0 5.8 0a2.9 2.9 0 1 0 -5.8 0M382 143.4a2.9 2.9 0 1 0 5.8 0a2.9 2.9 0 1 0 -5.8 0M375.5 147.5a2.9 2.9 0 1 0 5.8 0a2.9 2.9 0 1 0 -5.8 0M382 157a2.9 2.9 0 1 0 5.8 0a2.9 2.9 0 1 0 -5.8 0M379.4 138.3a2.9 2.9 0 1 0 5.8 0a2.9 2.9 0 1 0 -5.8 0M379.8 149.2a2.9 2.9 0 1 0 5.8 0a2.9 2.9 0 1 0 -5.8 0M382.5 142a2.9 2.9 0 1 0 5.8 0a2.9 2.9 0 1 0 -5.8 0M379.4 144.9a2.9 2.9 0 1 0 5.8 0a2.9 2.9 0 1 0 -5.8 0M377.3 145.1a2.9 2.9 0 1 0 5.8 0a2.9 2.9 0 1 0 -5.8 0M381.5 154.8a2.9 2.9 0 1 0 5.8 0a2.9 2.9 0 1 0 -5.8 0M378.7 160.4a2.9 2.9 0 1 0 5.8 0a2.9 2.9 0 1 0 -5.8 0M380.2 147.8a2.9 2.9 0 1 0 5.8 0a2.9 2.9 0 1 0 -5.8 0M379.9 138.8a2.9 2.9 0 1 0 5.8 0a2.9 2.9 0 1 0 -5.8 0M387.8 153.4a2.9 2.9 0 1 0 5.8 0a2.9 2.9 0 1 0 -5.8 0M385.8 156.9a2.9 2.9 0 1 0 5.8 0a2.9 2.9 0 1 0 -5.8 0M388.3 140.5a2.9 2.9 0 1 0 5.8 0a2.9 2.9 0 1 0 -5.8 0M387.7 139a2.9 2.9 0 1 0 5.8 0a2.9 2.9 0 1 0 -5.8 0M385.6 156.4a2.9 2.9 0 1 0 5.8 0a2.9 2.9 0 1 0 -5.8 0M384.8 140.8a2.9 2.9 0 1 0 5.8 0a2.9 2.9 0 1 0 -5.8 0M385.8 161.9a2.9 2.9 0 1 0 5.8 0a2.9 2.9 0 1 0 -5.8 0M386.8 145.9a2.9 2.9 0 1 0 5.8 0a2.9 2.9 0 1 0 -5.8 0M388 146.1a2.9 2.9 0 1 0 5.8 0a2.9 2.9 0 1 0 -5.8 0M386.2 166.4a2.9 2.9 0 1 0 5.8 0a2.9 2.9 0 1 0 -5.8 0M385.5 155.9a2.9 2.9 0 1 0 5.8 0a2.9 2.9 0 1 0 -5.8 0M387.5 150.4a2.9 2.9 0 1 0 5.8 0a2.9 2.9 0 1 0 -5.8 0M387.9 139.5a2.9 2.9 0 1 0 5.8 0a2.9 2.9 0 1 0 -5.8 0M388.4 166.9a2.9 2.9 0 1 0 5.8 0a2.9 2.9 0 1 0 -5.8 0M387.6 146.8a2.9 2.9 0 1 0 5.8 0a2.9 2.9 0 1 0 -5.8 0M386.5 138.9a2.9 2.9 0 1 0 5.8 0a2.9 2.9 0 1 0 -5.8 0M385 152.8a2.9 2.9 0 1 0 5.8 0a2.9 2.9 0 1 0 -5.8 0M388 163.7a2.9 2.9 0 1 0 5.8 0a2.9 2.9 0 1 0 -5.8 0M387 137a2.9 2.9 0 1 0 5.8 0a2.9 2.9 0 1 0 -5.8 0M387.2 165.3a2.9 2.9 0 1 0 5.8 0a2.9 2.9 0 1 0 -5.8 0M385.6 149.9a2.9 2.9 0 1 0 5.8 0a2.9 2.9 0 1 0 -5.8 0M385.8 160.4a2.9 2.9 0 1 0 5.8 0a2.9 2.9 0 1 0 -5.8 0M386.8 139a2.9 2.9 0 1 0 5.8 0a2.9 2.9 0 1 0 -5.8 0M384.7 150.3a2.9 2.9 0 1 0 5.8 0a2.9 2.9 0 1 0 -5.8 0M385.1 156.1a2.9 2.9 0 1 0 5.8 0a2.9 2.9 0 1 0 -5.8 0M387.3 147.6a2.9 2.9 0 1 0 5.8 0a2.9 2.9 0 1 0 -5.8 0M385.9 165.2a2.9 2.9 0 1 0 5.8 0a2.9 2.9 0 1 0 -5.8 0M385.2 150.9a2.9 2.9 0 1 0 5.8 0a2.9 2.9 0 1 0 -5.8 0M386.6 139.6a2.9 2.9 0 1 0 5.8 0a2.9 2.9 0 1 0 -5.8 0M385.3 150.5a2.9 2.9 0 1 0 5.8 0a2.9 2.9 0 1 0 -5.8 0M385.4 147.4a2.9 2.9 0 1 0 5.8 0a2.9 2.9 0 1 0 -5.8 0M385.6 139.9a2.9 2.9 0 1 0 5.8 0a2.9 2.9 0 1 0 -5.8 0M384.7 163.6a2.9 2.9 0 1 0 5.8 0a2.9 2.9 0 1 0 -5.8 0M386.9 160.5a2.9 2.9 0 1 0 5.8 0a2.9 2.9 0 1 0 -5.8 0M385.2 159.3a2.9 2.9 0 1 0 5.8 0a2.9 2.9 0 1 0 -5.8 0M386.7 148.2a2.9 2.9 0 1 0 5.8 0a2.9 2.9 0 1 0 -5.8 0M386.9 138.6a2.9 2.9 0 1 0 5.8 0a2.9 2.9 0 1 0 -5.8 0M387.4 160.3a2.9 2.9 0 1 0 5.8 0a2.9 2.9 0 1 0 -5.8 0M388.5 154.6a2.9 2.9 0 1 0 5.8 0a2.9 2.9 0 1 0 -5.8 0M387.9 157.4a2.9 2.9 0 1 0 5.8 0a2.9 2.9 0 1 0 -5.8 0M388.3 150.3a2.9 2.9 0 1 0 5.8 0a2.9 2.9 0 1 0 -5.8 0M393.2 156.7a2.9 2.9 0 1 0 5.8 0a2.9 2.9 0 1 0 -5.8 0M394.3 163.4a2.9 2.9 0 1 0 5.8 0a2.9 2.9 0 1 0 -5.8 0M392.4 150.9a2.9 2.9 0 1 0 5.8 0a2.9 2.9 0 1 0 -5.8 0M395.6 168.5a2.9 2.9 0 1 0 5.8 0a2.9 2.9 0 1 0 -5.8 0M394.7 158.4a2.9 2.9 0 1 0 5.8 0a2.9 2.9 0 1 0 -5.8 0M392.4 161.4a2.9 2.9 0 1 0 5.8 0a2.9 2.9 0 1 0 -5.8 0M392 164.5a2.9 2.9 0 1 0 5.8 0a2.9 2.9 0 1 0 -5.8 0M395.5 151.4a2.9 2.9 0 1 0 5.8 0a2.9 2.9 0 1 0 -5.8 0M394.9 150.8a2.9 2.9 0 1 0 5.8 0a2.9 2.9 0 1 0 -5.8 0M394.9 163.6a2.9 2.9 0 1 0 5.8 0a2.9 2.9 0 1 0 -5.8 0M394.9 157.1a2.9 2.9 0 1 0 5.8 0a2.9 2.9 0 1 0 -5.8 0M395.4 154.3a2.9 2.9 0 1 0 5.8 0a2.9 2.9 0 1 0 -5.8 0M395.5 150.4a2.9 2.9 0 1 0 5.8 0a2.9 2.9 0 1 0 -5.8 0M392.5 165.6a2.9 2.9 0 1 0 5.8 0a2.9 2.9 0 1 0 -5.8 0M393.6 153a2.9 2.9 0 1 0 5.8 0a2.9 2.9 0 1 0 -5.8 0M393.2 162.9a2.9 2.9 0 1 0 5.8 0a2.9 2.9 0 1 0 -5.8 0M395.4 162.3a2.9 2.9 0 1 0 5.8 0a2.9 2.9 0 1 0 -5.8 0M394.2 149.8a2.9 2.9 0 1 0 5.8 0a2.9 2.9 0 1 0 -5.8 0M394.9 160.5a2.9 2.9 0 1 0 5.8 0a2.9 2.9 0 1 0 -5.8 0M391.7 158.3a2.9 2.9 0 1 0 5.8 0a2.9 2.9 0 1 0 -5.8 0M394 156.8a2.9 2.9 0 1 0 5.8 0a2.9 2.9 0 1 0 -5.8 0M393 152.5a2.9 2.9 0 1 0 5.8 0a2.9 2.9 0 1 0 -5.8 0M392 154.1a2.9 2.9 0 1 0 5.8 0a2.9 2.9 0 1 0 -5.8 0M394.2 157.3a2.9 2.9 0 1 0 5.8 0a2.9 2.9 0 1 0 -5.8 0M391.8 162.3a2.9 2.9 0 1 0 5.8 0a2.9 2.9 0 1 0 -5.8 0M395.4 153.7a2.9 2.9 0 1 0 5.8 0a2.9 2.9 0 1 0 -5.8 0M394 166.7a2.9 2.9 0 1 0 5.8 0a2.9 2.9 0 1 0 -5.8 0M395.4 158.5a2.9 2.9 0 1 0 5.8 0a2.9 2.9 0 1 0 -5.8 0M394.9 152a2.9 2.9 0 1 0 5.8 0a2.9 2.9 0 1 0 -5.8 0M392.3 148a2.9 2.9 0 1 0 5.8 0a2.9 2.9 0 1 0 -5.8 0M377.8 168a2.9 2.9 0 1 0 5.8 0a2.9 2.9 0 1 0 -5.8 0M377.8 180.4a2.9 2.9 0 1 0 5.8 0a2.9 2.9 0 1 0 -5.8 0M394.1 179.4a2.9 2.9 0 1 0 5.8 0a2.9 2.9 0 1 0 -5.8 0M394.1 195.5a2.9 2.9 0 1 0 5.8 0a2.9 2.9 0 1 0 -5.8 0M400.6 170a2.9 2.9 0 1 0 5.8 0a2.9 2.9 0 1 0 -5.8 0M400.6 177.5a2.9 2.9 0 1 0 5.8 0a2.9 2.9 0 1 0 -5.8 0M400.6 206a2.9 2.9 0 1 0 5.8 0a2.9 2.9 0 1 0 -5.8 0M325.1 175.6a2.9 2.9 0 1 0 5.8 0a2.9 2.9 0 1 0 -5.8 0M324.1 185a2.9 2.9 0 1 0 5.8 0a2.9 2.9 0 1 0 -5.8 0M410.1 229.7a2.9 2.9 0 1 0 5.8 0a2.9 2.9 0 1 0 -5.8 0" stroke="#000" stroke-width="1.2" fill="none"/>
<path d="M158.9 380.2V387.6m-3 0h6M155.9 380.2h6M156.4 384.3h5M141.4 408.5V417.2m-3 0h6M138.4 408.5h6M138.9 413h5M167.1 405V413.2m-3 0h6M164.1 405h6M164.6 410h5M146.2 395.5V405.4m-3 0h6M143.2 395.5h6M143.7 401.4h5M148.8 401.9V410.6m-3 0h6M145.8 401.9h6M146.3 406.1h5M149.8 409.7V418.3m-3 0h6M146.8 409.7h6M147.3 414.2h5M170.4 387.6V398.2m-3 0h6M167.4 387.6h6M167.9 393.1h5M141.7 398.3V409.2m-3 0h6M138.7 398.3h6M139.2 403.5h5M153.4 405.9V413m-3 0h6M150.4 405.9h6M150.9 409h5M112.9 422.1V431.2m-3 0h6M109.9 422.1h6M110.4 427.8h5M143.7 402.6V409.9m-3 0h6M140.7 402.6h6M141.2 405.7h5M154.7 400.5V409.7m-3 0h6M151.7 400.5h6M152.2 404.4h5M123.4 409.4V419.6m-3 0h6M120.4 409.4h6M120.9 413.6h5M147.9 406.2V415.3m-3 0h6M144.9 406.2h6M145.4 411.2h5M169.5 399.1V408m-3 0h6M166.5 399.1h6M167 404.2h5M114.6 411.7V422.6m-3 0h6M111.6 411.7h6M112.1 417.2h5M127.3 394.7V404.9m-3 0h6M124.3 394.7h6M124.8 399.3h5M114.6 418.2V425.7m-3 0h6M111.6 418.2h6M112.1 421.7h5M107.2 409.1V419.2m-3 0h6M104.2 409.1h6M104.7 413.2h5M169.4 389.8V399.5m-3 0h6M166.4 389.8h6M166.9 393.7h5M117 404.4V412.1m-3 0h6M114 404.4h6M114.5 408.7h5M121.3 404.6V414.6m-3 0h6M118.3 404.6h6M118.8 408.7h5M121.8 396.4V406.4m-3 0h6M118.8 396.4h6M119.3 402.1h5M160.8 396.1V405.4m-3 0h6M157.8 396.1h6M158.3 401.4h5M113.9 418V427.1m-3 0h6M110.9 418h6M111.4 422.4h5M149.4 405.7V413.6m-3 0h6M146.4 405.7h6M146.9 409.5h5M166.3 392.2V400.9m-3 0h6M163.3 392.2h6M163.8 396h5M121.3 418.2V426.8m-3 0h6M118.3 418.2h6M118.8 421.4h5M142.3 395.2V404.8m-3 0h6M139.3 395.2h6M139.8 401h5M120.2 394.1V404.1m-3 0h6M117.2 394.1h6M117.7 398.8h5M149.9 393.8V402.5m-3 0h6M146.9 393.8h6M147.4 399.2h5M124.5 410.2V421m-3 0h6M121.5 410.2h6M122 416.1h5M150.9 406.1V416.1m-3 0h6M147.9 406.1h6M148.4 410.3h5M154.4 388.6V398.1m-3 0h6M151.4 388.6h6M151.9 392.7h5M127.5 394.7V404.9m-3 0h6M124.5 394.7h6M125 400.3h5M139.2 403.7V412.8m-3 0h6M136.2 403.7h6M136.7 409.4h5M126.7 393.3V402.1m-3 0h6M123.7 393.3h6M124.2 397.6h5M161.9 397.6V406.5m-3 0h6M158.9 397.6h6M159.4 402.3h5M142.8 393.3V404.2m-3 0h6M139.8 393.3h6M140.3 398.8h5M160.9 373.1V383.4m-3 0h6M157.9 373.1h6M158.4 378.1h5M137.8 408.6V419.5m-3 0h6M134.8 408.6h6M135.3 414.3h5M159.7 397V406m-3 0h6M156.7 397h6M157.2 402.6h5M151.7 403V411.7m-3 0h6M148.7 403h6M149.2 407.8h5M108.1 414.4V423.7m-3 0h6M105.1 414.4h6M105.6 419.9h5M118.1 401.9V410.2m-3 0h6M115.1 401.9h6M115.6 405.1h5M170.3 401.3V410.5m-3 0h6M167.3 401.3h6M167.8 405.4h5M108.4 421.3V428.3m-3 0h6M105.4 421.3h6M105.9 425.3h5M146.6 389V396m-3 0h6M143.6 389h6M144.1 392.8h5M134 402.6V411.1m-3 0h6M131 402.6h6M131.5 408h5M160.2 373V381.6m-3 0h6M157.2 373h6M157.7 376.7h5M126.8 399.4V407.8m-3 0h6M123.8 399.4h6M124.3 404.1h5M157.9 377.5V388.5m-3 0h6M154.9 377.5h6M155.4 383.1h5M140.3 390V398.4m-3 0h6M137.3 390h6M137.8 395.4h5M138.1 401.9V410m-3 0h6M135.1 401.9h6M135.6 405.1h5M153.1 398.9V407.6m-3 0h6M150.1 398.9h6M150.6 403.1h5M143.8 391.3V402.9m-3 0h6M140.8 391.3h6M141.3 396.9h5M158.6 413.9V423.9m-3 0h6M155.6 413.9h6M156.1 417.9h5M108.4 413.5V421.3m-3 0h6M105.4 413.5h6M105.9 416.9h5M150.3 403.8V412.2m-3 0h6M147.3 403.8h6M147.8 408.2h5M116.5 407.6V415m-3 0h6M113.5 407.6h6M114 411.4h5M153.9 395.6V403.5m-3 0h6M150.9 395.6h6M151.4 399.9h5M151.7 387.3V395.8m-3 0h6M148.7 387.3h6M149.2 391.1h5M151.5 411.5V422.5m-3 0h6M148.5 411.5h6M149 416.7h5M166.5 398.7V407m-3 0h6M163.5 398.7h6M164 403.8h5M117.6 393.5V404.2m-3 0h6M114.6 393.5h6M115.1 399.1h5M146.7 392.1V399.7m-3 0h6M143.7 392.1h6M144.2 396.2h5M146.8 412.5V419.6m-3 0h6M143.8 412.5h6M144.3 416.4h5M115.5 404.9V416m-3 0h6M112.5 404.9h6M113 410.6h5M134.7 396.1V402.9m-3 0h6M131.7 396.1h6M132.2 399.5h5M156.8 389.7V401.5m-3 0h6M153.8 389.7h6M154.3 395.7h5M157.9 390V398.9m-3 0h6M154.9 390h6M155.4 395.5h5M111 413.6V421.8m-3 0h6M108 413.6h6M108.5 418.2h5M120.8 391V401.9m-3 0h6M117.8 391h6M118.3 396.7h5M168.3 407.1V416.6m-3 0h6M165.3 407.1h6M165.8 411.4h5M129.8 407.5V416.4m-3 0h6M126.8 407.5h6M127.3 413h5M104.4 407.8V416.7m-3 0h6M101.4 407.8h6M101.9 412.6h5M104.1 420.1V429.9m-3 0h6M101.1 420.1h6M101.6 425.5h5M106.5 422V429.8m-3 0h6M103.5 422h6M104 426.6h5M125.7 407.8V417.9m-3 0h6M122.7 407.8h6M123.2 413.4h5M147.3 390.5V400m-3 0h6M144.3 390.5h6M144.8 394.3h5M129.7 393.9V402m-3 0h6M126.7 393.9h6M127.2 398.7h5M117.2 407.9V417.6m-3 0h6M114.2 407.9h6M114.7 412.7h5M151.9 395.7V404.1m-3 0h6M148.9 395.7h6M149.4 398.9h5M107.2 412.9V422.1m-3 0h6M104.2 412.9h6M104.7 417.1h5M152.4 386.6V396.6m-3 0h6M149.4 386.6h6M149.9 391.5h5M135.8 394.7V405.2m-3 0h6M132.8 394.7h6M133.3 400.4h5M107.8 405.7V415.3m-3 0h6M104.8 405.7h6M105.3 411.7h5M130.4 407.1V417.4m-3 0h6M127.4 407.1h6M127.9 412.5h5M154.3 377.6V386.8m-3 0h6M151.3 377.6h6M151.8 380.9h5M158.5 371.5V378.3m-3 0h6M155.5 371.5h6M156 374.6h5M167.3 382.1V392.9m-3 0h6M164.3 382.1h6M164.8 387.1h5M147.2 410.7V417.9m-3 0h6M144.2 410.7h6M144.7 414.4h5M104.7 420.6V429.8m-3 0h6M101.7 420.6h6M102.2 423.9h5M152.1 384.7V393.6m-3 0h6M149.1 384.7h6M149.6 390.1h5M138.6 393.1V404.2m-3 0h6M135.6 393.1h6M136.1 398.5h5M166.3 369V379.2m-3 0h6M163.3 369h6M163.8 374.5h5M159.8 390.8V400.4m-3 0h6M156.8 390.8h6M157.3 395.6h5M158.3 373.5V381.3m-3 0h6M155.3 373.5h6M155.8 376.6h5M123.4 405.6V413.9m-3 0h6M120.4 405.6h6M120.9 408.7h5M105.1 419.9V429.7m-3 0h6M102.1 419.9h6M102.6 425.4h5M111.9 416.4V424.3m-3 0h6M108.9 416.4h6M109.4 420.1h5M111.1 423.8V432.5m-3 0h6M108.1 423.8h6M108.6 428.4h5M109.9 417V428.1m-3 0h6M106.9 417h6M107.4 422.5h5M110.4 409.7V418.9m-3 0h6M107.4 409.7h6M107.9 413.6h5M113.6 412.4V423.7m-3 0h6M110.6 412.4h6M111.1 418.4h5M104 406.6V415m-3 0h6M101 406.6h6M101.5 409.9h5M144.5 399.6V408.2m-3 0h6M141.5 399.6h6M142 404h5M145.4 401.4V412.3m-3 0h6M142.4 401.4h6M142.9 407.1h5M158.1 410.4V421m-3 0h6M155.1 410.4h6M155.6 415.9h5M105.6 416.6V426.4m-3 0h6M102.6 416.6h6M103.1 422.1h5M163.7 373.7V383.9m-3 0h6M160.7 373.7h6M161.2 379.6h5M151.9 388.8V396.7m-3 0h6M148.9 388.8h6M149.4 392.7h5M125.7 394.1V404.3m-3 0h6M122.7 394.1h6M123.2 398.4h5M148.3 409.6V420.4m-3 0h6M145.3 409.6h6M145.8 414.9h5M171.6 399.9V407.5m-3 0h6M168.6 399.9h6M169.1 403.8h5M131.8 393.7V403m-3 0h6M128.8 393.7h6M129.3 397.4h5M166.6 383.4V394.1m-3 0h6M163.6 383.4h6M164.1 388.7h5M164.5 403.3V411.2m-3 0h6M161.5 403.3h6M162 407.9h5M160 381.6V390.6m-3 0h6M157 381.6h6M157.5 386.5h5M140.3 411.8V419.9m-3 0h6M137.3 411.8h6M137.8 415.3h5M148 397.7V407.7m-3 0h6M145 397.7h6M145.5 403.5h5M166.1 396.4V405.6m-3 0h6M163.1 396.4h6M163.6 402.3h5M118 401.4V410.2m-3 0h6M115 401.4h6M115.5 407.1h5M121.3 413.5V423m-3 0h6M118.3 413.5h6M118.8 419.5h5M133.5 405.4V415.8m-3 0h6M130.5 405.4h6M131 410.5h5M155.1 384.3V391.1m-3 0h6M152.1 384.3h6M152.6 388h5M150.8 388.9V398.5m-3 0h6M147.8 388.9h6M148.3 392.6h5M147.6 400.1V409.9m-3 0h6M144.6 400.1h6M145.1 405.1h5M151.1 392.2V398.6m-3 0h6M148.1 392.2h6M148.6 395.4h5M104.5 412.2V419m-3 0h6M101.5 412.2h6M102 415.6h5M137.3 410.6V419.5m-3 0h6M134.3 410.6h6M134.8 415.7h5M156.2 380.1V387.3m-3 0h6M153.2 380.1h6M153.7 383.4h5M131.5 406.2V415.7m-3 0h6M128.5 406.2h6M129 410.6h5M110 423.3V432.9m-3 0h6M107 423.3h6M107.5 427.4h5M105.6 421.6V430.9m-3 0h6M102.6 421.6h6M103.1 425.3h5M158.5 400.5V407.3m-3 0h6M155.5 400.5h6M156 404.3h5M116.5 422.7V431.2m-3 0h6M113.5 422.7h6M114 426.2h5M143.7 404.3V411.3m-3 0h6M140.7 404.3h6M141.2 407.9h5M110.2 424.4V433.5m-3 0h6M107.2 424.4h6M107.7 428.6h5M142.5 394.6V400.8m-3 0h6M139.5 394.6h6M140 397.8h5M161.9 370.5V380.4m-3 0h6M158.9 370.5h6M159.4 376.4h5M153 381.6V390.8m-3 0h6M150 381.6h6M150.5 387h5M128.6 403.8V410.9m-3 0h6M125.6 403.8h6M126.1 407.1h5M158 382.4V391.8m-3 0h6M155 382.4h6M155.5 386.5h5M118.8 400.1V407.9m-3 0h6M115.8 400.1h6M116.3 403.7h5M128.5 405.1V415.2m-3 0h6M125.5 405.1h6M126 409.6h5M107 416V425.2m-3 0h6M104 416h6M104.5 421.5h5M105.5 413.6V421.3m-3 0h6M102.5 413.6h6M103 416.9h5M152.2 383.4V391.2m-3 0h6M149.2 383.4h6M149.7 386.7h5M115.4 402.8V410.4m-3 0h6M112.4 402.8h6M112.9 407.1h5M108.2 409.9V420.1m-3 0h6M105.2 409.9h6M105.7 414.3h5M141.5 391.4V400.3m-3 0h6M138.5 391.4h6M139 395.1h5M142.1 407.3V418.8m-3 0h6M139.1 407.3h6M139.6 413.2h5M111 423V431.3m-3 0h6M108 423h6M108.5 427.6h5M115.2 421.5V428.4m-3 0h6M112.2 421.5h6M112.7 425.2h5M121.7 422.1V431.6m-3 0h6M118.7 422.1h6M119.2 426.4h5M108.6 412.3V419.9m-3 0h6M105.6 412.3h6M106.1 416.3h5M148.9 394.7V404m-3 0h6M145.9 394.7h6M146.4 398h5M136.5 398.2V406.2m-3 0h6M133.5 398.2h6M134 401.2h5M138.8 392.3V402m-3 0h6M135.8 392.3h6M136.3 396.7h5M140.3 395.2V404.5m-3 0h6M137.3 395.2h6M137.8 399.7h5M148.1 386.7V398m-3 0h6M145.1 386.7h6M145.6 392.1h5M154.2 408.9V418.7m-3 0h6M151.2 408.9h6M151.7 413h5M115.9 401.8V412.3m-3 0h6M112.9 401.8h6M113.4 406.6h5M109.1 407.5V414.9m-3 0h6M106.1 407.5h6M106.6 410.6h5M113.1 402.2V412.2m-3 0h6M110.1 402.2h6M110.6 407.5h5M167.9 389.8V397.8m-3 0h6M164.9 389.8h6M165.4 394.8h5M168.5 387.6V396.6m-3 0h6M165.5 387.6h6M166 392.1h5M168.5 392.7V403.5m-3 0h6M165.5 392.7h6M166 398.6h5M118.3 420.3V429.9m-3 0h6M115.3 420.3h6M115.8 423.9h5M134.8 395.9V405.8m-3 0h6M131.8 395.9h6M132.3 401.8h5M131.4 398.7V406.8m-3 0h6M128.4 398.7h6M128.9 403.7h5M129.1 394.3V402.7m-3 0h6M126.1 394.3h6M126.6 399.7h5M145.1 392.4V401.5m-3 0h6M142.1 392.4h6M142.6 396.8h5M152.3 384.5V391.6m-3 0h6M149.3 384.5h6M149.8 388.2h5M169.3 389.3V397.3m-3 0h6M166.3 389.3h6M166.8 392.7h5M143.3 410.4V417.2m-3 0h6M140.3 410.4h6M140.8 413.5h5M115 413V421.6m-3 0h6M112 413h6M112.5 417.3h5M164.4 396.3V407.8m-3 0h6M161.4 396.3h6M161.9 401.9h5M121.9 422.8V430.2m-3 0h6M118.9 422.8h6M119.4 427h5M166.2 375.1V382m-3 0h6M163.2 375.1h6M163.7 378.2h5M123.3 422.3V432.1m-3 0h6M120.3 422.3h6M120.8 427.9h5M139.8 407.5V417.8m-3 0h6M136.8 407.5h6M137.3 412.9h5M138.6 394.9V403.6m-3 0h6M135.6 394.9h6M136.1 398.7h5M143.7 405.7V417.3m-3 0h6M140.7 405.7h6M141.2 411.4h5M116.7 396V406.4m-3 0h6M113.7 396h6M114.2 401.7h5M115.9 416.3V423.8m-3 0h6M112.9 416.3h6M113.4 420.1h5M128.6 402.1V410.3m-3 0h6M125.6 402.1h6M126.1 407.1h5M154.3 399.5V408.9m-3 0h6M151.3 399.5h6M151.8 403.9h5M158.3 369V378.5m-3 0h6M155.3 369h6M155.8 373.4h5M152.1 402.3V411.7m-3 0h6M149.1 402.3h6M149.6 405.8h5M157.3 380.2V390.3m-3 0h6M154.3 380.2h6M154.8 384.5h5M117.7 405.1V416.7m-3 0h6M114.7 405.1h6M115.2 411h5M119.4 416.5V425.6m-3 0h6M116.4 416.5h6M116.9 420.6h5M156 377.8V385.1m-3 0h6M153 377.8h6M153.5 381.5h5M121.7 393V400.7m-3 0h6M118.7 393h6M119.2 396.4h5M132.3 393.8V404.4m-3 0h6M129.3 393.8h6M129.8 398.6h5M143 395.5V404.9m-3 0h6M140 395.5h6M140.5 400.6h5M115.5 411.1V419.2m-3 0h6M112.5 411.1h6M113 414.2h5M114.5 405.6V416.8m-3 0h6M111.5 405.6h6M112 411.5h5M160.7 396.8V406.8m-3 0h6M157.7 396.8h6M158.2 401.7h5M169.7 389V398.3m-3 0h6M166.7 389h6M167.2 394.3h5M121 418.3V428.6m-3 0h6M118 418.3h6M118.5 423.1h5M163.4 394.9V401.6m-3 0h6M160.4 394.9h6M160.9 398.5h5M140.1 406.4V413.4m-3 0h6M137.1 406.4h6M137.6 410.2h5M103.8 406.9V415m-3 0h6M100.8 406.9h6M101.3 412h5M119.3 400.6V411.7m-3 0h6M116.3 400.6h6M116.8 405.7h5M104.8 404.5V416.2m-3 0h6M101.8 404.5h6M102.3 410.3h5M113.7 406.4V415m-3 0h6M110.7 406.4h6M111.2 411h5M132.1 402.6V409.6m-3 0h6M129.1 402.6h6M129.6 406.4h5M109.2 406V414.1m-3 0h6M106.2 406h6M106.7 409.2h5M151.2 388.6V399.1m-3 0h6M148.2 388.6h6M148.7 393.9h5M126.9 404.4V413.7m-3 0h6M123.9 404.4h6M124.4 407.9h5M141.9 390.8V399.4m-3 0h6M138.9 390.8h6M139.4 394.3h5M129.9 407.4V416.5m-3 0h6M126.9 407.4h6M127.4 411.1h5M158.4 372.5V380.8m-3 0h6M155.4 372.5h6M155.9 377.3h5M152 405.8V414.8m-3 0h6M149 405.8h6M149.5 411.1h5M109.9 416.2V424.4m-3 0h6M106.9 416.2h6M107.4 420.9h5M116.7 413.3V421.6m-3 0h6M113.7 413.3h6M114.2 416.6h5M120 400.8V409.6m-3 0h6M117 400.8h6M117.5 405h5M153.1 377.7V386.5m-3 0h6M150.1 377.7h6M150.6 382.9h5M123.4 411.8V421.7m-3 0h6M120.4 411.8h6M120.9 416.9h5M165.3 377.5V386.5m-3 0h6M162.3 377.5h6M162.8 381.5h5M121.4 397.1V406.1m-3 0h6M118.4 397.1h6M118.9 400.8h5M160.1 399.7V411m-3 0h6M157.1 399.7h6M157.6 405.6h5M124.7 400.3V408.6m-3 0h6M121.7 400.3h6M122.2 405.4h5M145.2 389.1V396.8m-3 0h6M142.2 389.1h6M142.7 392.2h5M113.9 421.5V431.5m-3 0h6M110.9 421.5h6M111.4 427.1h5M117 398.2V407.3m-3 0h6M114 398.2h6M114.5 402.7h5M128.4 406.5V416.4m-3 0h6M125.4 406.5h6M125.9 411.1h5M110.8 401.9V410.5m-3 0h6M107.8 401.9h6M108.3 406.1h5M120.8 414.4V422m-3 0h6M117.8 414.4h6M118.3 418.1h5M136.2 405.7V415.1m-3 0h6M133.2 405.7h6M133.7 411h5M134.1 409.3V420m-3 0h6M131.1 409.3h6M131.6 415.1h5M110.7 410.7V419.5m-3 0h6M107.7 410.7h6M108.2 415.6h5M106.1 422.9V432m-3 0h6M103.1 422.9h6M103.6 428.6h5M135.4 405.4V412.5m-3 0h6M132.4 405.4h6M132.9 409.3h5M154.9 405.2V412.8m-3 0h6M151.9 405.2h6M152.4 409.5h5M130.5 392.7V401.7m-3 0h6M127.5 392.7h6M128 398.6h5M123.2 417.8V424.5m-3 0h6M120.2 417.8h6M120.7 421.2h5M108.3 405.1V415.2m-3 0h6M105.3 405.1h6M105.8 409.7h5M115.1 400.4V409.9m-3 0h6M112.1 400.4h6M112.6 405.7h5M126.7 395.3V404.9m-3 0h6M123.7 395.3h6M124.2 399h5M111.5 405.1V416m-3 0h6M108.5 405.1h6M109 410.3h5M165.4 387.4V398.1m-3 0h6M162.4 387.4h6M162.9 393.3h5M123.3 405.8V416.2m-3 0h6M120.3 405.8h6M120.8 411h5M112.4 402.2V411.4m-3 0h6M109.4 402.2h6M109.9 408h5M159.2 384.5V392m-3 0h6M156.2 384.5h6M156.7 388.2h5M135.6 412.7V421.8m-3 0h6M132.6 412.7h6M133.1 416.2h5M125.5 395.4V404.7m-3 0h6M122.5 395.4h6M123 400.7h5M116.3 406.5V417.6m-3 0h6M113.3 406.5h6M113.8 412h5M142.9 387.1V397.2m-3 0h6M139.9 387.1h6M140.4 392.4h5M165.1 410.7V420.2m-3 0h6M162.1 410.7h6M162.6 414.7h5M159.6 380.4V388.7m-3 0h6M156.6 380.4h6M157.1 384.5h5M127.7 401.1V408.1m-3 0h6M124.7 401.1h6M125.2 404.4h5M165.8 385.6V396.1m-3 0h6M162.8 385.6h6M163.3 390.5h5M155.3 381.9V393m-3 0h6M152.3 381.9h6M152.8 387.6h5M171.4 398.3V409m-3 0h6M168.4 398.3h6M168.9 403.6h5M120.8 413.5V423.2m-3 0h6M117.8 413.5h6M118.3 417.6h5M112.7 412.9V422.4m-3 0h6M109.7 412.9h6M110.2 416.9h5M127.2 410.3V421.5m-3 0h6M124.2 410.3h6M124.7 415.9h5M113 422.1V432.4m-3 0h6M110 422.1h6M110.5 427.4h5M148.2 383.7V393.9m-3 0h6M145.2 383.7h6M145.7 389.3h5M134.7 398.6V409.3m-3 0h6M131.7 398.6h6M132.2 404h5M163.1 376.9V384.6m-3 0h6M160.1 376.9h6M160.6 380.9h5M110.4 409.6V418m-3 0h6M107.4 409.6h6M107.9 412.6h5M119.1 396.5V404.9m-3 0h6M116.1 396.5h6M116.6 399.7h5M117.1 408.7V418.3m-3 0h6M114.1 408.7h6M114.6 412.9h5M168.9 390.4V400.9m-3 0h6M165.9 390.4h6M166.4 395.3h5M135.7 409.3V418.4m-3 0h6M132.7 409.3h6M133.2 414.5h5M163.4 394.5V402.5m-3 0h6M160.4 394.5h6M160.9 397.8h5M160.3 391.6V400.3m-3 0h6M157.3 391.6h6M157.8 396.1h5M163.8 398.4V406.2m-3 0h6M160.8 398.4h6M161.3 402.1h5M128.4 411V419.5m-3 0h6M125.4 411h6M125.9 416.1h5M166.1 370.4V379.4m-3 0h6M163.1 370.4h6M163.6 375.1h5M152.6 394.6V402.4m-3 0h6M149.6 394.6h6M150.1 397.9h5M159.7 405.2V412.9m-3 0h6M156.7 405.2h6M157.2 409.3h5M154.5 407.2V416.5m-3 0h6M151.5 407.2h6M152 410.8h5M171.5 395.9V405.1m-3 0h6M168.5 395.9h6M169 400h5M167.2 382.3V390.2m-3 0h6M164.2 382.3h6M164.7 386.2h5M153.7 383.1V392.2m-3 0h6M150.7 383.1h6M151.2 387.7h5M149.3 385.5V397.4m-3 0h6M146.3 385.5h6M146.8 391.4h5M141.9 407.9V417.2m-3 0h6M138.9 407.9h6M139.4 411.5h5M141.3 405.1V414.8m-3 0h6M138.3 405.1h6M138.8 410.7h5M166.8 381.8V389.4m-3 0h6M163.8 381.8h6M164.3 384.9h5M165.1 406.6V417m-3 0h6M162.1 406.6h6M162.6 412.5h5M167.4 395.4V403.7m-3 0h6M164.4 395.4h6M164.9 398.8h5M158.5 387.9V396.5m-3 0h6M155.5 387.9h6M156 392.7h5M122.4 404.8V413.7m-3 0h6M119.4 404.8h6M119.9 409.3h5M109.8 401.2V410.4m-3 0h6M106.8 401.2h6M107.3 405.2h5M154.8 384.3V392.6m-3 0h6M151.8 384.3h6M152.3 388h5M115.5 411.9V421.2m-3 0h6M112.5 411.9h6M113 417.6h5M143.6 404.1V414.5m-3 0h6M140.6 404.1h6M141.1 409.4h5M152.2 387.4V398.7m-3 0h6M149.2 387.4h6M149.7 393h5M107.1 423.4V431m-3 0h6M104.1 423.4h6M104.6 427.7h5M108.3 419.3V427.7m-3 0h6M105.3 419.3h6M105.8 424.3h5M135 403.6V413.6m-3 0h6M132 403.6h6M132.5 409.6h5M156 383V390.1m-3 0h6M153 383h6M153.5 386.6h5M131.6 405.2V412.6m-3 0h6M128.6 405.2h6M129.1 409.1h5M118.5 397V404.5m-3 0h6M115.5 397h6M116 400.6h5M138.1 396V404.8m-3 0h6M135.1 396h6M135.6 400.5h5M170.1 394.2V404.5m-3 0h6M167.1 394.2h6M167.6 400.1h5M117.1 413.4V420.3m-3 0h6M114.1 413.4h6M114.6 416.8h5M108.5 416.2V426.3m-3 0h6M105.5 416.2h6M106 422.1h5M127.8 401.3V410.4m-3 0h6M124.8 401.3h6M125.3 405.3h5M130.3 394.1V404.5m-3 0h6M127.3 394.1h6M127.8 399.7h5M103.9 420.7V430m-3 0h6M100.9 420.7h6M101.4 425.9h5M146.7 410.2V418.7m-3 0h6M143.7 410.2h6M144.2 414.5h5M123.9 409V419.2m-3 0h6M120.9 409h6M121.4 414h5M168.5 386V395.7m-3 0h6M165.5 386h6M166 390.1h5M157.7 395.8V404.9m-3 0h6M154.7 395.8h6M155.2 400.8h5M168.2 395.5V403.3m-3 0h6M165.2 395.5h6M165.7 399.7h5M111.4 421V429.5m-3 0h6M108.4 421h6M108.9 426.4h5M125.6 404.8V413.4m-3 0h6M122.6 404.8h6M123.1 409.3h5M164.8 383.2V393.6m-3 0h6M161.8 383.2h6M162.3 387.8h5M147.3 398V406.1m-3 0h6M144.3 398h6M144.8 402h5M145.2 407V414.9m-3 0h6M142.2 407h6M142.7 410.8h5M130.1 398.2V408.6m-3 0h6M127.1 398.2h6M127.6 403.9h5M122.4 400.9V409.8m-3 0h6M119.4 400.9h6M119.9 406.4h5M150.8 383.3V390m-3 0h6M147.8 383.3h6M148.3 386.8h5M158.7 375.9V382.7m-3 0h6M155.7 375.9h6M156.2 379.6h5M121.6 414.9V425.8m-3 0h6M118.6 414.9h6M119.1 420h5M168.4 394.2V403.3m-3 0h6M165.4 394.2h6M165.9 400h5M166.9 389.9V398.7m-3 0h6M163.9 389.9h6M164.4 393.4h5M162.3 385.4V394.3m-3 0h6M159.3 385.4h6M159.8 388.7h5M155.1 396.4V405.4m-3 0h6M152.1 396.4h6M152.6 402.3h5M107.3 406.2V414.4m-3 0h6M104.3 406.2h6M104.8 409.3h5M146.7 388.5V395.6m-3 0h6M143.7 388.5h6M144.2 392h5M145.2 401.9V411.9m-3 0h6M142.2 401.9h6M142.7 407.8h5M170.6 395.3V403.2m-3 0h6M167.6 395.3h6M168.1 399.4h5M119.4 422.2V433.3m-3 0h6M116.4 422.2h6M116.9 428.2h5M115.5 402.1V409.6m-3 0h6M112.5 402.1h6M113 405.6h5M154 377.7V387.3m-3 0h6M151 377.7h6M151.5 382.3h5M105.8 411.5V421.6m-3 0h6M102.8 411.5h6M103.3 416.9h5M134.4 409.4V418.2m-3 0h6M131.4 409.4h6M131.9 414.2h5M130.6 410.1V421.4m-3 0h6M127.6 410.1h6M128.1 415.6h5M141.9 392.9V400.5m-3 0h6M138.9 392.9h6M139.4 396.4h5M150.8 380.9V391.6m-3 0h6M147.8 380.9h6M148.3 386.3h5M138.8 391V400.6m-3 0h6M135.8 391h6M136.3 396.3h5M149.3 398.9V408.3m-3 0h6M146.3 398.9h6M146.8 404.1h5M169.3 403.6V414.2m-3 0h6M166.3 403.6h6M166.8 409.4h5M125.2 403.1V412.6m-3 0h6M122.2 403.1h6M122.7 406.9h5M157.8 404.6V416m-3 0h6M154.8 404.6h6M155.3 410.1h5M150.6 390.8V399.9m-3 0h6M147.6 390.8h6M148.1 396.1h5M145.3 388.4V398.5m-3 0h6M142.3 388.4h6M142.8 394h5M122.3 423.1V432.2m-3 0h6M119.3 423.1h6M119.8 426.4h5M155.4 378.2V388.2m-3 0h6M152.4 378.2h6M152.9 383.5h5M165.6 393.8V403.9m-3 0h6M162.6 393.8h6M163.1 398.1h5M109.5 420.4V427.5m-3 0h6M106.5 420.4h6M107 423.7h5M111.3 421.4V431m-3 0h6M108.3 421.4h6M108.8 425.8h5M121.1 415.1V423.3m-3 0h6M118.1 415.1h6M118.6 420h5M137.3 407.4V416m-3 0h6M134.3 407.4h6M134.8 411.1h5M122.5 401.9V413.5m-3 0h6M119.5 401.9h6M120 407.7h5M171.9 395.5V405.6m-3 0h6M168.9 395.5h6M169.4 400.2h5M155.5 390.6V400.4m-3 0h6M152.5 390.6h6M153 396.2h5M168.6 395V403.6m-3 0h6M165.6 395h6M166.1 398.4h5M113.4 417.2V426.4m-3 0h6M110.4 417.2h6M110.9 420.4h5M140.6 407.1V415.4m-3 0h6M137.6 407.1h6M138.1 410.4h5M129.3 396.1V404.6m-3 0h6M126.3 396.1h6M126.8 401.5h5M136.2 393.9V405.1m-3 0h6M133.2 393.9h6M133.7 399.5h5M105.9 413V422.5m-3 0h6M102.9 413h6M103.4 417.4h5M153.4 388.1V397.4m-3 0h6M150.4 388.1h6M150.9 393.9h5M112.9 420.8V427.7m-3 0h6M109.9 420.8h6M110.4 424.1h5M137.8 400.1V409.4m-3 0h6M134.8 400.1h6M135.3 403.6h5M136 408.6V418.1m-3 0h6M133 408.6h6M133.5 412.4h5M118.6 421.2V432m-3 0h6M115.6 421.2h6M116.1 426.1h5M156.3 398.5V408.7m-3 0h6M153.3 398.5h6M153.8 403.1h5M133.9 393.5V404.7m-3 0h6M130.9 393.5h6M131.4 399.3h5M150.2 405.6V413.7m-3 0h6M147.2 405.6h6M147.7 409.3h5M159.9 411.6V420.9m-3 0h6M156.9 411.6h6M157.4 417.4h5M150.3 399.2V406.9m-3 0h6M147.3 399.2h6M147.8 403.4h5M112.9 410.5V418.8m-3 0h6M109.9 410.5h6M110.4 415h5M128.7 402.5V412.5m-3 0h6M125.7 402.5h6M126.2 407.8h5M114.6 421.7V431.7m-3 0h6M111.6 421.7h6M112.1 425.8h5M170.7 390.4V401.1m-3 0h6M167.7 390.4h6M168.2 395.2h5M129.9 403.7V410.8m-3 0h6M126.9 403.7h6M127.4 407.7h5M117.5 398.6V407.4m-3 0h6M114.5 398.6h6M115 402.5h5M142.1 409.9V419.1m-3 0h6M139.1 409.9h6M139.6 415h5M168.5 397.7V407.9m-3 0h6M165.5 397.7h6M166 402.3h5M149.4 393V401.7m-3 0h6M146.4 393h6M146.9 397.8h5M169.9 389.6V398.7m-3 0h6M166.9 389.6h6M167.4 395.5h5M104.2 416.1V424.2m-3 0h6M101.2 416.1h6M101.7 419.7h5M111.6 419.9V429.9m-3 0h6M108.6 419.9h6M109.1 424.9h5M167 408.6V418.8m-3 0h6M164 408.6h6M164.5 413.6h5M103.6 405.3V415.5m-3 0h6M100.6 405.3h6M101.1 409.6h5M124.9 410V417.2m-3 0h6M121.9 410h6M122.4 413h5M165.3 393V401.5m-3 0h6M162.3 393h6M162.8 398.4h5M117.4 398.8V407.6m-3 0h6M114.4 398.8h6M114.9 404.2h5M167.3 383.4V393.6m-3 0h6M164.3 383.4h6M164.8 389h5M125.7 418.9V428.2m-3 0h6M122.7 418.9h6M123.2 423.1h5M108.1 419.2V428.4m-3 0h6M105.1 419.2h6M105.6 425.1h5M154.6 386.1V393.7m-3 0h6M151.6 386.1h6M152.1 389.6h5M148.8 409.5V421.5m-3 0h6M145.8 409.5h6M146.3 415.5h5M146.2 403.6V412.3m-3 0h6M143.2 403.6h6M143.7 407.1h5M141.3 396.1V405.5m-3 0h6M138.3 396.1h6M138.8 401.8h5M113.2 403.1V411.3m-3 0h6M110.2 403.1h6M110.7 406.5h5M158.4 375.9V385.1m-3 0h6M155.4 375.9h6M155.9 380.4h5M141.9 398V405.7m-3 0h6M138.9 398h6M139.4 402.6h5M107.5 412.2V421.2m-3 0h6M104.5 412.2h6M105 416h5M120.1 419.6V426.6m-3 0h6M117.1 419.6h6M117.6 423.3h5M136.2 401V410.3m-3 0h6M133.2 401h6M133.7 405h5M118.7 413.2V423m-3 0h6M115.7 413.2h6M116.2 418.7h5M138 409.9V418.3m-3 0h6M135 409.9h6M135.5 414.7h5M108.3 403.9V411.1m-3 0h6M105.3 403.9h6M105.8 407.9h5M147.9 396.3V404.8m-3 0h6M144.9 396.3h6M145.4 400.2h5M167.7 386V393.3m-3 0h6M164.7 386h6M165.2 389.4h5M125.7 416.2V425.6m-3 0h6M122.7 416.2h6M123.2 421.3h5M114.9 398.8V407.8m-3 0h6M111.9 398.8h6M112.4 402.2h5M147.9 387.7V395.7m-3 0h6M144.9 387.7h6M145.4 392.6h5M138.2 400V408.5m-3 0h6M135.2 400h6M135.7 403.3h5M152.6 397.3V405.8m-3 0h6M149.6 397.3h6M150.1 400.8h5M133.2 406.7V415.7m-3 0h6M130.2 406.7h6M130.7 410h5M103.7 408.9V416.6m-3 0h6M100.7 408.9h6M101.2 413h5M109.5 415.6V425.6m-3 0h6M106.5 415.6h6M107 421.6h5M121.7 414.2V422.1m-3 0h6M118.7 414.2h6M119.2 417.9h5M150.7 396.1V402.8m-3 0h6M147.7 396.1h6M148.2 399.6h5M140.7 410.1V419.2m-3 0h6M137.7 410.1h6M138.2 415.9h5M137.9 402.8V411.4m-3 0h6M134.9 402.8h6M135.4 406.4h5M137.4 408.8V418.4m-3 0h6M134.4 408.8h6M134.9 412.6h5M159.3 391.1V399m-3 0h6M156.3 391.1h6M156.8 394.6h5M178.5 384.1V394m-3 0h6M175.5 384.1h6M176 389.2h5M228.6 378.4V388.9m-3 0h6M225.6 378.4h6M226.1 383.5h5M177.7 379.6V387.6m-3 0h6M174.7 379.6h6M175.2 382.8h5M213.7 370.6V379.8m-3 0h6M210.7 370.6h6M211.2 375.7h5M213 368V378.2m-3 0h6M210 368h6M210.5 373.9h5M171.2 378.8V389.6m-3 0h6M168.2 378.8h6M168.7 384h5M208.6 365.6V376.4m-3 0h6M205.6 365.6h6M206.1 371.3h5M177.8 378.9V386.9m-3 0h6M174.8 378.9h6M175.3 383.9h5M173.5 381.5V393.1m-3 0h6M170.5 381.5h6M171 387.1h5M189.8 385.2V396.1m-3 0h6M186.8 385.2h6M187.3 390.5h5M205.7 397V407.8m-3 0h6M202.7 397h6M203.2 401.9h5M204.4 375.4V384.4m-3 0h6M201.4 375.4h6M201.9 379.9h5M190.9 377.4V386.7m-3 0h6M187.9 377.4h6M188.4 382h5M184.1 375.9V385m-3 0h6M181.1 375.9h6M181.6 380.4h5M195.7 383.1V391.2m-3 0h6M192.7 383.1h6M193.2 386.6h5M187.3 383.2V393.7m-3 0h6M184.3 383.2h6M184.8 388.3h5M201.5 376.3V386.6m-3 0h6M198.5 376.3h6M199 382.1h5M193.1 376.4V385.8m-3 0h6M190.1 376.4h6M190.6 380.6h5M219.3 383.6V392.4m-3 0h6M216.3 383.6h6M216.8 388.8h5M197.7 377.8V385.8m-3 0h6M194.7 377.8h6M195.2 381.7h5M215.5 385V392.3m-3 0h6M212.5 385h6M213 388.6h5M217.3 385.8V395.8m-3 0h6M214.3 385.8h6M214.8 390.9h5M211.9 370.6V377.9m-3 0h6M208.9 370.6h6M209.4 373.8h5M172.9 397.5V407.1m-3 0h6M169.9 397.5h6M170.4 402.1h5M228 389V396.7m-3 0h6M225 389h6M225.5 392.7h5M177.4 388.1V397.7m-3 0h6M174.4 388.1h6M174.9 393.3h5M192.8 375.9V385.5m-3 0h6M189.8 375.9h6M190.3 380.3h5M223.8 387.6V397.5m-3 0h6M220.8 387.6h6M221.3 393.2h5M195.9 375.1V384.6m-3 0h6M192.9 375.1h6M193.4 381h5M180.3 374.7V386.1m-3 0h6M177.3 374.7h6M177.8 380.5h5M190.6 384V393.9m-3 0h6M187.6 384h6M188.1 389.6h5M182.3 384.2V391.7m-3 0h6M179.3 384.2h6M179.8 388.4h5M224.3 384.1V393.1m-3 0h6M221.3 384.1h6M221.8 388.3h5M186.1 372.2V380.5m-3 0h6M183.1 372.2h6M183.6 376.3h5M171.7 384.1V393.4m-3 0h6M168.7 384.1h6M169.2 389.4h5M211.1 379V385.7m-3 0h6M208.1 379h6M208.6 382.6h5M210.8 378.4V385.9m-3 0h6M207.8 378.4h6M208.3 382.3h5M221.5 390.2V398.7m-3 0h6M218.5 390.2h6M219 393.9h5M204.9 378.8V385.9m-3 0h6M201.9 378.8h6M202.4 381.9h5M209 377.5V385.4m-3 0h6M206 377.5h6M206.5 382h5M183.6 376.7V385.1m-3 0h6M180.6 376.7h6M181.1 381h5M224.2 378.4V388.1m-3 0h6M221.2 378.4h6M221.7 384.4h5M221.5 381.2V390.1m-3 0h6M218.5 381.2h6M219 385.9h5M173.2 392.6V401.9m-3 0h6M170.2 392.6h6M170.7 398.1h5M216.8 382.8V391.9m-3 0h6M213.8 382.8h6M214.3 388.7h5M193.4 374.8V385m-3 0h6M190.4 374.8h6M190.9 379.6h5M220.7 385.4V395m-3 0h6M217.7 385.4h6M218.2 389.6h5M177.2 376.5V386.1m-3 0h6M174.2 376.5h6M174.7 381.8h5M229.6 379.7V387.7m-3 0h6M226.6 379.7h6M227.1 384.1h5M171.1 380.9V388.2m-3 0h6M168.1 380.9h6M168.6 384.1h5M196.5 380.3V389.2m-3 0h6M193.5 380.3h6M194 384.1h5M201.5 396V404.1m-3 0h6M198.5 396h6M199 399.5h5M200.1 376.6V385.8m-3 0h6M197.1 376.6h6M197.6 382.2h5M222.8 383.3V392.1m-3 0h6M219.8 383.3h6M220.3 387.3h5M204.2 379.6V388.8m-3 0h6M201.2 379.6h6M201.7 382.9h5M192.8 372.9V382.4m-3 0h6M189.8 372.9h6M190.3 377.8h5M190.3 375.7V385.3m-3 0h6M187.3 375.7h6M187.8 381.3h5M195.6 387.2V395.5m-3 0h6M192.6 387.2h6M193.1 391.3h5M180.6 381.6V390.9m-3 0h6M177.6 381.6h6M178.1 386.6h5M194.9 374.4V384.1m-3 0h6M191.9 374.4h6M192.4 379.7h5M220.1 382.3V390.6m-3 0h6M217.1 382.3h6M217.6 387.5h5M184 386.3V396.4m-3 0h6M181 386.3h6M181.5 391.4h5M200.3 380.8V387.9m-3 0h6M197.3 380.8h6M197.8 384.4h5M209.1 380.6V389.3m-3 0h6M206.1 380.6h6M206.6 384.3h5M179 383.6V391.6m-3 0h6M176 383.6h6M176.5 387.1h5M189.5 381.4V389.3m-3 0h6M186.5 381.4h6M187 384.8h5M207.4 367.6V376.6m-3 0h6M204.4 367.6h6M204.9 371.6h5M203.2 387.3V397.4m-3 0h6M200.2 387.3h6M200.7 392.7h5M184.1 377.6V387.8m-3 0h6M181.1 377.6h6M181.6 383.1h5M215.4 379.1V389.3m-3 0h6M212.4 379.1h6M212.9 383.4h5M219.5 387.5V395.7m-3 0h6M216.5 387.5h6M217 390.8h5M173 395.5V406.6m-3 0h6M170 395.5h6M170.5 401.4h5M186.8 386V395m-3 0h6M183.8 386h6M184.3 389.5h5M201.7 370.7V380.7m-3 0h6M198.7 370.7h6M199.2 376.4h5M220 386.7V396.8m-3 0h6M217 386.7h6M217.5 391.3h5M183 386.4V393.5m-3 0h6M180 386.4h6M180.5 390.4h5M190.9 373.8V381.9m-3 0h6M187.9 373.8h6M188.4 377.1h5M178.1 375.3V383m-3 0h6M175.1 375.3h6M175.6 379.2h5M225.3 388.3V399.8m-3 0h6M222.3 388.3h6M222.8 393.9h5M197 384.9V394.5m-3 0h6M194 384.9h6M194.5 388.7h5M218.8 388.1V395.1m-3 0h6M215.8 388.1h6M216.3 391.8h5M225.6 384.8V395.2m-3 0h6M222.6 384.8h6M223.1 389.6h5M179.5 383.6V393.4m-3 0h6M176.5 383.6h6M177 388h5M197.9 373.3V383m-3 0h6M194.9 373.3h6M195.4 379.1h5M214.9 385.3V394.1m-3 0h6M211.9 385.3h6M212.4 389.1h5M194.4 375.9V385.4m-3 0h6M191.4 375.9h6M191.9 379.6h5M192.7 379.7V387.2m-3 0h6M189.7 379.7h6M190.2 384.2h5M215.5 383V392.7m-3 0h6M212.5 383h6M213 388.6h5M183.4 376.4V386.5m-3 0h6M180.4 376.4h6M180.9 381.6h5M195 380.9V390.2m-3 0h6M192 380.9h6M192.5 384.4h5M198.8 378.7V387.7m-3 0h6M195.8 378.7h6M196.3 384.1h5M213.6 370.4V379.1m-3 0h6M210.6 370.4h6M211.1 375.8h5M187.3 381.7V390.3m-3 0h6M184.3 381.7h6M184.8 386.2h5M205.1 373.6V380.9m-3 0h6M202.1 373.6h6M202.6 377.9h5M218.1 380.6V390.7m-3 0h6M215.1 380.6h6M215.6 386h5M206.5 386.2V394.9m-3 0h6M203.5 386.2h6M204 389.5h5M188.2 384.4V394.8m-3 0h6M185.2 384.4h6M185.7 389.8h5M219.1 383.2V394.1m-3 0h6M216.1 383.2h6M216.6 388.2h5M182.2 373.4V382.1m-3 0h6M179.2 373.4h6M179.7 377.6h5M179.8 374V383.8m-3 0h6M176.8 374h6M177.3 379.6h5M179.8 374.3V382.6m-3 0h6M176.8 374.3h6M177.3 379h5M199 380.3V389.1m-3 0h6M196 380.3h6M196.5 384.6h5M220.4 377.4V386.8m-3 0h6M217.4 377.4h6M217.9 383.2h5M173.3 392.7V402m-3 0h6M170.3 392.7h6M170.8 397.4h5M183.8 384.6V393.7m-3 0h6M180.8 384.6h6M181.3 388.5h5M184.5 380.2V389.3m-3 0h6M181.5 380.2h6M182 385.2h5M199.3 372.1V382.1m-3 0h6M196.3 372.1h6M196.8 377h5M180 379.6V388.1m-3 0h6M177 379.6h6M177.5 384.8h5M220.5 390.3V397.2m-3 0h6M217.5 390.3h6M218 393.4h5M176 379V386.8m-3 0h6M173 379h6M173.5 382.3h5M288.3 375.4V383.9m-3 0h6M285.3 375.4h6M285.8 379.8h5M303.9 394.3V401.4m-3 0h6M300.9 394.3h6M301.4 397.7h5M281.2 373.1V381.5m-3 0h6M278.2 373.1h6M278.7 376.4h5M303.6 402.2V409m-3 0h6M300.6 402.2h6M301.1 405.9h5M303 382.6V392.5m-3 0h6M300 382.6h6M300.5 388.4h5M290.1 366.8V377.2m-3 0h6M287.1 366.8h6M287.6 372.7h5M293.8 383V393.8m-3 0h6M290.8 383h6M291.3 388.3h5M294.8 376.9V386.8m-3 0h6M291.8 376.9h6M292.3 381.2h5M292.8 390.3V399.3m-3 0h6M289.8 390.3h6M290.3 394.9h5M297.7 378.7V388.9m-3 0h6M294.7 378.7h6M295.2 383.4h5M283.3 373.1V384.6m-3 0h6M280.3 373.1h6M280.8 378.7h5M281.4 378.3V388.7m-3 0h6M278.4 378.3h6M278.9 383.2h5M294.6 375.6V384.7m-3 0h6M291.6 375.6h6M292.1 379.5h5M302.1 377.2V387.1m-3 0h6M299.1 377.2h6M299.6 382.1h5M300.1 372.3V380.6m-3 0h6M297.1 372.3h6M297.6 376.7h5M298.3 382.7V391.1m-3 0h6M295.3 382.7h6M295.8 386.1h5M289.3 393.6V402.2m-3 0h6M286.3 393.6h6M286.8 397.6h5M304.4 374.3V382.7m-3 0h6M301.4 374.3h6M301.9 379.5h5M308.2 371.4V380.7m-3 0h6M305.2 371.4h6M305.7 376.6h5M286.2 377V385.7m-3 0h6M283.2 377h6M283.7 381.5h5M284.5 379.9V389.7m-3 0h6M281.5 379.9h6M282 383.8h5M292.1 383.4V393m-3 0h6M289.1 383.4h6M289.6 387.1h5M290.3 387.9V397.6m-3 0h6M287.3 387.9h6M287.8 393.4h5M302.9 381V387.5m-3 0h6M299.9 381h6M300.4 384.4h5M294 398.5V406.4m-3 0h6M291 398.5h6M291.5 402.1h5M303.1 380.8V388.8m-3 0h6M300.1 380.8h6M300.6 384.3h5M293.3 398.3V407.7m-3 0h6M290.3 398.3h6M290.8 404h5M297.3 385.4V392.8m-3 0h6M294.3 385.4h6M294.8 388.5h5M307.6 378.8V388.7m-3 0h6M304.6 378.8h6M305.1 383.5h5M282.8 388.8V396.1m-3 0h6M279.8 388.8h6M280.3 392.2h5M301.8 372.5V380m-3 0h6M298.8 372.5h6M299.3 376.6h5M294.7 372.7V379.8m-3 0h6M291.7 372.7h6M292.2 376.2h5M283.4 368V376.1m-3 0h6M280.4 368h6M280.9 371.6h5M285 388.3V396.3m-3 0h6M282 388.3h6M282.5 392.6h5M288 394.2V402.6m-3 0h6M285 394.2h6M285.5 397.4h5M283.8 390V399m-3 0h6M280.8 390h6M281.3 394.3h5M306 375.6V383.9m-3 0h6M303 375.6h6M303.5 378.8h5M298 393.8V402.1m-3 0h6M295 393.8h6M295.5 397.6h5M286.4 379.1V387.7m-3 0h6M283.4 379.1h6M283.9 382.9h5M289.7 374.8V383m-3 0h6M286.7 374.8h6M287.2 379.7h5M304.2 387.2V394.2m-3 0h6M301.2 387.2h6M301.7 390.9h5M295.8 386V395.2m-3 0h6M292.8 386h6M293.3 391.1h5M293 398.7V408.5m-3 0h6M290 398.7h6M290.5 402.5h5M306.9 396.1V405.7m-3 0h6M303.9 396.1h6M304.4 402h5M304.6 390.7V400.3m-3 0h6M301.6 390.7h6M302.1 394.4h5M299.8 395.6V403.5m-3 0h6M296.8 395.6h6M297.3 400.3h5M306 377.1V385.7m-3 0h6M303 377.1h6M303.5 380.9h5M286.6 378.7V387.1m-3 0h6M283.6 378.7h6M284.1 383.8h5M300.2 374.7V384.1m-3 0h6M297.2 374.7h6M297.7 379.1h5M300.9 373.7V383.2m-3 0h6M297.9 373.7h6M298.4 377.3h5M330.6 373.5V382.8m-3 0h6M327.6 373.5h6M328.1 377.7h5M338.3 384.3V393.2m-3 0h6M335.3 384.3h6M335.8 388.5h5M333.3 359.7V371.5m-3 0h6M330.3 359.7h6M330.8 365.6h5M339.1 397.5V407.4m-3 0h6M336.1 397.5h6M336.6 401.9h5M327.3 386.5V397.4m-3 0h6M324.3 386.5h6M324.8 391.6h5M340.3 391.5V400.7m-3 0h6M337.3 391.5h6M337.8 395.3h5M332.5 367.8V377.3m-3 0h6M329.5 367.8h6M330 371.9h5M340.5 388.8V397.3m-3 0h6M337.5 388.8h6M338 393.8h5M325.4 381.1V388.7m-3 0h6M322.4 381.1h6M322.9 384.7h5M324.3 369.1V377.9m-3 0h6M321.3 369.1h6M321.8 374.3h5M340.7 371.5V380.9m-3 0h6M337.7 371.5h6M338.2 377h5M327.9 374.6V382m-3 0h6M324.9 374.6h6M325.4 377.7h5M330.4 351.1V360.8m-3 0h6M327.4 351.1h6M327.9 356.6h5M322 386.7V394.2m-3 0h6M319 386.7h6M319.5 390.4h5M322.5 371.3V381.1m-3 0h6M319.5 371.3h6M320 376.4h5M333.1 364.7V374.5m-3 0h6M330.1 364.7h6M330.6 368.6h5M330.2 400.8V409.8m-3 0h6M327.2 400.8h6M327.7 406.5h5M340.7 362V372.6m-3 0h6M337.7 362h6M338.2 367.1h5M337.3 378.6V387.5m-3 0h6M334.3 378.6h6M334.8 384h5M333.9 365.4V373.1m-3 0h6M330.9 365.4h6M331.4 369.6h5M337.6 379.8V390.1m-3 0h6M334.6 379.8h6M335.1 385.2h5M335.2 397.6V407.7m-3 0h6M332.2 397.6h6M332.7 403h5M329.2 397.8V405.2m-3 0h6M326.2 397.8h6M326.7 401.9h5M329.3 385.8V396.5m-3 0h6M326.3 385.8h6M326.8 391.6h5M336.6 398.5V408.1m-3 0h6M333.6 398.5h6M334.1 403.8h5M332.2 390.8V398.1m-3 0h6M329.2 390.8h6M329.7 394.7h5M335.6 393.5V402.3m-3 0h6M332.6 393.5h6M333.1 397.3h5M341.6 369.3V377.2m-3 0h6M338.6 369.3h6M339.1 372.7h5M329.4 397.3V407.6m-3 0h6M326.4 397.3h6M326.9 403.3h5M339.4 383.7V393.2m-3 0h6M336.4 383.7h6M336.9 387.3h5M325.8 364.5V371.9m-3 0h6M322.8 364.5h6M323.3 368.9h5M332.6 371.2V381.3m-3 0h6M329.6 371.2h6M330.1 377h5M340.7 386.7V395.2m-3 0h6M337.7 386.7h6M338.2 391.5h5M328.7 377.3V386.4m-3 0h6M325.7 377.3h6M326.2 381.4h5M333.1 367.7V378.5m-3 0h6M330.1 367.7h6M330.6 372.5h5M326.5 373.6V379.9m-3 0h6M323.5 373.6h6M324 376.6h5M323.2 376.1V386.7m-3 0h6M320.2 376.1h6M320.7 381.6h5M343.3 384.9V394.4m-3 0h6M340.3 384.9h6M340.8 389.6h5M322.3 377.8V386.4m-3 0h6M319.3 377.8h6M319.8 381.5h5M323.4 379.9V388.5m-3 0h6M320.4 379.9h6M320.9 384h5M330.9 356V366.6m-3 0h6M327.9 356h6M328.4 361.2h5M335.2 357.1V367.5m-3 0h6M332.2 357.1h6M332.7 361.9h5M343.7 384.5V393.3m-3 0h6M340.7 384.5h6M341.2 387.7h5M336.6 364.3V375.6m-3 0h6M333.6 364.3h6M334.1 370.1h5M341.7 371.3V380.2m-3 0h6M338.7 371.3h6M339.2 376.1h5M328.5 388.6V397.4m-3 0h6M325.5 388.6h6M326 393.4h5M333.9 398.6V409.1m-3 0h6M330.9 398.6h6M331.4 403.3h5M334.5 403.5V411m-3 0h6M331.5 403.5h6M332 406.6h5M334.1 387.2V397.9m-3 0h6M331.1 387.2h6M331.6 393.1h5M332.5 383.7V393.5m-3 0h6M329.5 383.7h6M330 388.3h5M342.8 369V378.6m-3 0h6M339.8 369h6M340.3 373h5M323.3 386.1V394.2m-3 0h6M320.3 386.1h6M320.8 389.2h5M339.6 368.3V376.1m-3 0h6M336.6 368.3h6M337.1 372.4h5M337.5 378.2V387m-3 0h6M334.5 378.2h6M335 383h5M334.9 399.3V410.5m-3 0h6M331.9 399.3h6M332.4 404.7h5M348.7 387V395.2m-3 0h6M345.7 387h6M346.2 391.2h5M357.1 372.5V382.5m-3 0h6M354.1 372.5h6M354.6 377.2h5M359 367V375.2m-3 0h6M356 367h6M356.5 370.8h5M359 371.2V380.9m-3 0h6M356 371.2h6M356.5 376.7h5M353.2 404.9V412m-3 0h6M350.2 404.9h6M350.7 408h5M347.3 371.6V380.6m-3 0h6M344.3 371.6h6M344.8 375.5h5M353.7 369.6V379.5m-3 0h6M350.7 369.6h6M351.2 375h5M347.1 398.2V407.3m-3 0h6M344.1 398.2h6M344.6 403.6h5M359.1 399.5V406.2m-3 0h6M356.1 399.5h6M356.6 403.2h5M358 400.6V409.2m-3 0h6M355 400.6h6M355.5 403.9h5M356.6 390.5V401.9m-3 0h6M353.6 390.5h6M354.1 396h5M349.9 398.4V408.1m-3 0h6M346.9 398.4h6M347.4 404.2h5M355.3 392.5V402.8m-3 0h6M352.3 392.5h6M352.8 398.1h5M349.1 375.7V383.7m-3 0h6M346.1 375.7h6M346.6 380.3h5M357.9 402.7V411.5m-3 0h6M354.9 402.7h6M355.4 406.5h5M355.1 369.7V380.3m-3 0h6M352.1 369.7h6M352.6 375h5M349.6 370.2V379.3m-3 0h6M346.6 370.2h6M347.1 374h5M352 399.9V406.7m-3 0h6M349 399.9h6M349.5 403.4h5M350.2 402.6V409.3m-3 0h6M347.2 402.6h6M347.7 406.1h5M356.3 368.7V377m-3 0h6M353.3 368.7h6M353.8 373.7h5M348.7 391.6V401.4m-3 0h6M345.7 391.6h6M346.2 397.2h5M351.7 367.3V375m-3 0h6M348.7 367.3h6M349.2 371.3h5M356.8 393.9V403.9m-3 0h6M353.8 393.9h6M354.3 399.3h5M355.5 371.1V379.1m-3 0h6M352.5 371.1h6M353 375.2h5M349.2 396.7V404.3m-3 0h6M346.2 396.7h6M346.7 400.3h5M349.2 400.5V409.9m-3 0h6M346.2 400.5h6M346.7 405.4h5M350.7 402V412.1m-3 0h6M347.7 402h6M348.2 407.8h5M353.5 401.6V409.1m-3 0h6M350.5 401.6h6M351 405.4h5M346.5 385.3V394.1m-3 0h6M343.5 385.3h6M344 390.6h5M351.5 406.2V414.8m-3 0h6M348.5 406.2h6M349 410.6h5M357.6 402.4V409.9m-3 0h6M354.6 402.4h6M355.1 406.6h5M354.5 394.6V405.3m-3 0h6M351.5 394.6h6M352 400.4h5M349.6 387.3V395.5m-3 0h6M346.6 387.3h6M347.1 391.1h5M352 401.7V413.2m-3 0h6M349 401.7h6M349.5 407.4h5M352.2 406.1V415.3m-3 0h6M349.2 406.1h6M349.7 409.5h5M354.6 401.5V411.7m-3 0h6M351.6 401.5h6M352.1 405.8h5M345.4 399.3V408.9m-3 0h6M342.4 399.3h6M342.9 404.8h5M357.4 373.5V383.2m-3 0h6M354.4 373.5h6M354.9 378.8h5M351.2 372.7V383.3m-3 0h6M348.2 372.7h6M348.7 378.1h5M346.3 406.4V414.2m-3 0h6M343.3 406.4h6M343.8 410.1h5M367.4 383.1V394.6m-3 0h6M364.4 383.1h6M364.9 388.8h5M370.2 377.8V384.4m-3 0h6M367.2 377.8h6M367.7 381.2h5M368.7 384.7V394.9m-3 0h6M365.7 384.7h6M366.2 389h5M367.4 376.4V384.2m-3 0h6M364.4 376.4h6M364.9 380.6h5M374.2 384.6V393.6m-3 0h6M371.2 384.6h6M371.7 389.3h5M365.3 374.9V383.7m-3 0h6M362.3 374.9h6M362.8 379.4h5M374.7 384.6V391.4m-3 0h6M371.7 384.6h6M372.2 388.3h5M364.1 375.1V386.1m-3 0h6M361.1 375.1h6M361.6 380.4h5M365.1 391.8V400.7m-3 0h6M362.1 391.8h6M362.6 396.1h5M368.9 366.3V374.5m-3 0h6M365.9 366.3h6M366.4 369.5h5M371 375.9V387.2m-3 0h6M368 375.9h6M368.5 381.7h5M365.9 365.7V375.4m-3 0h6M362.9 365.7h6M363.4 370.4h5M364.9 365.1V372.7m-3 0h6M361.9 365.1h6M362.4 369.6h5M371.6 386.7V394.9m-3 0h6M368.6 386.7h6M369.1 390.5h5M365 371.1V380.1m-3 0h6M362 371.1h6M362.5 374.7h5M367.9 389.7V399.2m-3 0h6M364.9 389.7h6M365.4 393.8h5M369.7 387.4V396.2m-3 0h6M366.7 387.4h6M367.2 391.5h5M364.5 398V407.7m-3 0h6M361.5 398h6M362 403.1h5M370.3 367.6V375.3m-3 0h6M367.3 367.6h6M367.8 371.6h5M373 364.1V374.1m-3 0h6M370 364.1h6M370.5 368.5h5M372.2 390V397.6m-3 0h6M369.2 390h6M369.7 393.9h5M371.2 373.6V382.8m-3 0h6M368.2 373.6h6M368.7 378.8h5M371.9 383.2V394.6m-3 0h6M368.9 383.2h6M369.4 388.6h5M366.9 400.5V409.1m-3 0h6M363.9 400.5h6M364.4 403.5h5M362.4 383.5V392.9m-3 0h6M359.4 383.5h6M359.9 387.6h5M366.1 370.1V380.1m-3 0h6M363.1 370.1h6M363.6 375.5h5M371.8 382.5V390.9m-3 0h6M368.8 382.5h6M369.3 385.6h5M364.8 382V388.8m-3 0h6M361.8 382h6M362.3 385h5M370.7 390.6V399.8m-3 0h6M367.7 390.6h6M368.2 395.5h5M371.5 388.5V396.7m-3 0h6M368.5 388.5h6M369 392.1h5M369.8 390.6V398.2m-3 0h6M366.8 390.6h6M367.3 394.2h5M366.5 367.4V376.6m-3 0h6M363.5 367.4h6M364 371.5h5M369.5 369V377.6m-3 0h6M366.5 369h6M367 374.2h5M371.8 370V377.1m-3 0h6M368.8 370h6M369.3 373.3h5M368.7 372.1V383.5m-3 0h6M365.7 372.1h6M366.2 377.7h5M378.8 390.2V399.9m-3 0h6M375.8 390.2h6M376.3 395.2h5M378.5 394.8V403.7m-3 0h6M375.5 394.8h6M376 400.6h5M379.3 380.1V388m-3 0h6M376.3 380.1h6M376.8 383.7h5M385 370.1V379.6m-3 0h6M382 370.1h6M382.5 375.6h5M376.1 395.5V402.9m-3 0h6M373.1 395.5h6M373.6 399.3h5M377.2 381.6V388.5m-3 0h6M374.2 381.6h6M374.7 384.9h5M378.5 386.3V394.5m-3 0h6M375.5 386.3h6M376 390.6h5M381.3 390.7V399.9m-3 0h6M378.3 390.7h6M378.8 395.9h5M385.2 391.7V400.8m-3 0h6M382.2 391.7h6M382.7 396.4h5M379.3 373V383.4m-3 0h6M376.3 373h6M376.8 378.6h5M377 394.3V403.1m-3 0h6M374 394.3h6M374.5 400h5M383 376.8V386.9m-3 0h6M380 376.8h6M380.5 381.4h5M379.5 383.5V392m-3 0h6M376.5 383.5h6M377 388.5h5M382.3 380.5V390m-3 0h6M379.3 380.5h6M379.8 386.5h5M383.1 372.3V379.5m-3 0h6M380.1 372.3h6M380.6 376.1h5M377.5 385.7V394.6m-3 0h6M374.5 385.7h6M375 389.3h5M377 386.2V395.2m-3 0h6M374 386.2h6M374.5 391.8h5M378.2 391.2V401.4m-3 0h6M375.2 391.2h6M375.7 395.7h5M379.4 379.9V389.8m-3 0h6M376.4 379.9h6M376.9 385.7h5M385.7 395.5V403.7m-3 0h6M382.7 395.5h6M383.2 399.1h5M385.4 372.6V383.5m-3 0h6M382.4 372.6h6M382.9 378.2h5M383.5 387.9V397.1m-3 0h6M380.5 387.9h6M381 391.2h5M387 384.3V393.5m-3 0h6M384 384.3h6M384.5 389.5h5M392.8 373.1V381.4m-3 0h6M389.8 373.1h6M390.3 378.3h5M395.3 372.1V381.9m-3 0h6M392.3 372.1h6M392.8 377.5h5M394.1 370.4V378.1m-3 0h6M391.1 370.4h6M391.6 375h5M390.9 362.8V373.4m-3 0h6M387.9 362.8h6M388.4 368.4h5M390.3 389.4V401.1m-3 0h6M387.3 389.4h6M387.8 395.2h5M386.8 381.9V391.9m-3 0h6M383.8 381.9h6M384.3 387.1h5M386.2 389.4V398.5m-3 0h6M383.2 389.4h6M383.7 393.7h5M394.1 371.2V380m-3 0h6M391.1 371.2h6M391.6 374.3h5M388.7 363.8V373.2m-3 0h6M385.7 363.8h6M386.2 367.2h5M393.4 368.9V378m-3 0h6M390.4 368.9h6M390.9 372.3h5M392.6 380.1V387.7m-3 0h6M389.6 380.1h6M390.1 383.5h5M395.5 361.8V369.3m-3 0h6M392.5 361.8h6M393 366.1h5M396 363.3V374.7m-3 0h6M393 363.3h6M393.5 369.1h5M393.3 362.2V371.7m-3 0h6M390.3 362.2h6M390.8 367.3h5M390.9 365.8V375.8m-3 0h6M387.9 365.8h6M388.4 370.4h5M387.3 388V396.1m-3 0h6M384.3 388h6M384.8 392.3h5M388.4 374.9V384.5m-3 0h6M385.4 374.9h6M385.9 379.8h5M394.9 376.8V387.3m-3 0h6M391.9 376.8h6M392.4 381.3h5M388.2 362.5V370.4m-3 0h6M385.2 362.5h6M385.7 366.5h5M398.7 361.1V369.9m-3 0h6M395.7 361.1h6M396.2 364.2h5M406.7 366.8V377.1m-3 0h6M403.7 366.8h6M404.2 371.9h5M412.7 355.9V364.7m-3 0h6M409.7 355.9h6M410.2 361.1h5M408.2 361.3V370.1m-3 0h6M405.2 361.3h6M405.7 366.6h5M403.6 365.9V377.3m-3 0h6M400.6 365.9h6M401.1 371.4h5M398.6 356.8V365.3m-3 0h6M395.6 356.8h6M396.1 360.1h5M412.4 361.7V371.6m-3 0h6M409.4 361.7h6M409.9 367h5M408.4 367.4V377.3m-3 0h6M405.4 367.4h6M405.9 372.3h5M409 359.4V369.4m-3 0h6M406 359.4h6M406.5 364.7h5M398.8 360V368.6m-3 0h6M395.8 360h6M396.3 364.3h5M408.3 358.2V366.7m-3 0h6M405.3 358.2h6M405.8 362.4h5M404.2 370.7V377m-3 0h6M401.2 370.7h6M401.7 374h5M411.9 358.4V367.5m-3 0h6M408.9 358.4h6M409.4 362.8h5M404.1 357.4V366.1m-3 0h6M401.1 357.4h6M401.6 360.4h5M416.7 356.2V364.6m-3 0h6M413.7 356.2h6M414.2 360.6h5M397.3 368.1V377.4m-3 0h6M394.3 368.1h6M394.8 373.6h5M401.6 363.9V373.7m-3 0h6M398.6 363.9h6M399.1 369.3h5M404.5 354.9V365.9m-3 0h6M401.5 354.9h6M402 360.3h5M414.9 353.1V363.9m-3 0h6M411.9 353.1h6M412.4 357.9h5M411.7 360.4V367.1m-3 0h6M408.7 360.4h6M409.2 363.9h5M412.1 351.7V362.2m-3 0h6M409.1 351.7h6M409.6 357.2h5M406.4 366.3V377m-3 0h6M403.4 366.3h6M403.9 372.1h5M398.2 363.3V371.3m-3 0h6M395.2 363.3h6M395.7 367.5h5M416.4 364.5V371.6m-3 0h6M413.4 364.5h6M413.9 367.9h5M403.5 362.7V371m-3 0h6M400.5 362.7h6M401 366.7h5M413.9 353.9V363m-3 0h6M410.9 353.9h6M411.4 359h5M416.8 367.5V376.3m-3 0h6M413.8 367.5h6M414.3 371.4h5M398.4 359.2V368.9m-3 0h6M395.4 359.2h6M395.9 364h5M403.5 353.3V361.3m-3 0h6M400.5 353.3h6M401 356.6h5M399.8 357.1V367.6m-3 0h6M396.8 357.1h6M397.3 361.9h5" stroke="#2cfc0c" stroke-width="1.2" fill="none"/>
<line x1="67.8" y1="380.5" x2="597.3" y2="380.5" stroke="#000" stroke-width="1.1"/>
<line x1="67.8" y1="376.5" x2="597.3" y2="376.5" stroke="#000" stroke-width="1" stroke-dasharray="1.6 1.4"/>
<line x1="67.8" y1="384.5" x2="597.3" y2="384.5" stroke="#000" stroke-width="1" stroke-dasharray="1.6 1.4"/>
<path d="M289.5 388.2V393.2m-2.5 0h5M287 388.2h5M297 396.2V401.2m-2.5 0h5M294.5 396.2h5M303.2 387.5V392.5m-2.5 0h5M300.8 387.5h5M333.8 375.8V380.8m-2.5 0h5M331.2 375.8h5M348.8 390.5V395.5m-2.5 0h5M346.2 390.5h5M354.2 390.5V395.5m-2.5 0h5M351.8 390.5h5M367.5 389.2V394.2m-2.5 0h5M365 389.2h5M379.2 384.2V389.2m-2.5 0h5M376.8 384.2h5M379.2 394.5V399.5m-2.5 0h5M376.8 394.5h5M388.8 395.5V400.5m-2.5 0h5M386.2 395.5h5M388.8 365V370m-2.5 0h5M386.2 365h5M397 363.8V368.8m-2.5 0h5M394.5 363.8h5M404.5 368.8V373.8m-2.5 0h5M402 368.8h5" stroke="#222" stroke-width="1" fill="none"/>
<path d="M102.5 411.3H169.5M102.5 408v6.6M169.5 408v6.6M169.5 393.8H229.5M169.5 390.5v6.6M229.5 390.5v6.6" stroke="#1a5a1a" stroke-width="1.2" fill="none"/>
<path d="M286 390.8a3.5 2.9 0 1 0 7 0a3.5 2.9 0 1 0 -7 0M293.5 398.8a3.5 2.9 0 1 0 7 0a3.5 2.9 0 1 0 -7 0M299.8 390a3.5 2.9 0 1 0 7 0a3.5 2.9 0 1 0 -7 0M330.2 378.2a3.5 2.9 0 1 0 7 0a3.5 2.9 0 1 0 -7 0M345.2 393a3.5 2.9 0 1 0 7 0a3.5 2.9 0 1 0 -7 0M350.8 393a3.5 2.9 0 1 0 7 0a3.5 2.9 0 1 0 -7 0M364 391.8a3.5 2.9 0 1 0 7 0a3.5 2.9 0 1 0 -7 0M375.8 386.8a3.5 2.9 0 1 0 7 0a3.5 2.9 0 1 0 -7 0M375.8 397a3.5 2.9 0 1 0 7 0a3.5 2.9 0 1 0 -7 0M385.2 398a3.5 2.9 0 1 0 7 0a3.5 2.9 0 1 0 -7 0M385.2 367.5a3.5 2.9 0 1 0 7 0a3.5 2.9 0 1 0 -7 0M393.5 366.2a3.5 2.9 0 1 0 7 0a3.5 2.9 0 1 0 -7 0M401 371.2a3.5 2.9 0 1 0 7 0a3.5 2.9 0 1 0 -7 0M142.8 411.3a3.5 2.9 0 1 0 7 0a3.5 2.9 0 1 0 -7 0M204 393.8a3.5 2.9 0 1 0 7 0a3.5 2.9 0 1 0 -7 0" stroke="#111" stroke-width="1.2" fill="none"/>
<path d="M487 366.3H543M487 363v6.6M543 363v6.6M507.5 357V375M504.5 357h6M504.5 375h6" stroke="#2cfc0c" stroke-width="1.2" fill="none"/>
<path d="M487 370.5H513.7M487 367v7M513.7 367v7M500 351.3V390M497 351.3h6M497 390h6" stroke="#222" stroke-width="1.2" fill="none"/>
<rect x="497" y="367.5" width="6.5" height="6" fill="#000"/>
<path d="M507.5 362.8L510.6 368.2H504.4Z" fill="#2cfc0c"/>
<path d="M395 246.4L410 252L430 259L450 267L470 277L480 283L490 289L498 293" stroke="#000" stroke-width="1.3" fill="none"/>
<path d="M486.7 310H543.3M486.7 307v6M543.3 307v6M508 304V319M505 304h6M505 319h6" stroke="#2cfc0c" stroke-width="1.2" fill="none"/>
<path d="M487.2 294.7H513.7M487.2 291v7.4M513.7 291v7.4M487.2 291.5H560M523 288v7M560 288v7M500.3 285.8V305.8M496.7 285.8h8M496.7 305.8h8" stroke="#333" stroke-width="1.2" fill="none"/>
<rect x="497.3" y="291.7" width="6.5" height="6.5" fill="#000"/>
<path d="M508 306.5L511.1 311.9H504.9Z" fill="#2cfc0c"/>
<rect x="538.3" y="288.7" width="6.5" height="6.5" fill="#000"/>
<path d="M534.8 291.7V324M529 302L535 324L543.3 295.8M538.3 295L541.3 305.8L545 294" stroke="#000" stroke-width="1.6" fill="none"/>
<line x1="305" y1="105.3" x2="568.2" y2="231.5" stroke="#e8141e" stroke-width="1.4" stroke-dasharray="9 3 2 3"/>
<line x1="305" y1="87.2" x2="568.2" y2="277" stroke="#1e3cd8" stroke-width="1.4" stroke-dasharray="9 3 2 3"/>
<circle cx="352.1" cy="119.2" r="4.3" fill="#f0141a"/>
<circle cx="368.6" cy="139.8" r="4.3" fill="#f0141a"/>
<circle cx="379.3" cy="133.8" r="4.8" fill="#f0141a"/>
<g fill="#e4283a"><text x="253" y="39.5" style="font-family:'Liberation Serif','DejaVu Serif',serif;font-size:17px">&lt;</text><text x="265.2" y="39" style="font-family:'Liberation Serif','DejaVu Serif',serif;font-size:15px">L</text><text x="275.5" y="43" style="font-family:'Liberation Serif','DejaVu Serif',serif;font-size:10.5px;font-weight:bold" textLength="25" lengthAdjust="spacingAndGlyphs">flare</text><text x="303" y="39.5" style="font-family:'Liberation Serif','DejaVu Serif',serif;font-size:17px">&gt;</text><text x="315.5" y="39" style="font-family:'Liberation Serif','DejaVu Serif',serif;font-size:17px" textLength="12" lengthAdjust="spacingAndGlyphs">∝</text><text x="329.5" y="39" style="font-family:'Liberation Serif','DejaVu Serif',serif;font-size:17px">t</text><text x="337.5" y="34" style="font-family:'Liberation Sans',sans-serif;font-size:8.5px;stroke:#e4283a;stroke-width:0.3px" textLength="24.5" lengthAdjust="spacingAndGlyphs">−1.2</text></g>
<g fill="#2a44d6"><text x="253" y="63.5" style="font-family:'Liberation Serif','DejaVu Serif',serif;font-size:17px">&lt;</text><text x="265.2" y="63" style="font-family:'Liberation Serif','DejaVu Serif',serif;font-size:15px">L</text><text x="275.5" y="67" style="font-family:'Liberation Serif','DejaVu Serif',serif;font-size:10.5px;font-weight:bold" textLength="25" lengthAdjust="spacingAndGlyphs">flare</text><text x="303" y="63.5" style="font-family:'Liberation Serif','DejaVu Serif',serif;font-size:17px">&gt;</text><text x="315.5" y="63" style="font-family:'Liberation Serif','DejaVu Serif',serif;font-size:17px" textLength="12" lengthAdjust="spacingAndGlyphs">∝</text><text x="329.5" y="63" style="font-family:'Liberation Serif','DejaVu Serif',serif;font-size:17px">t</text><text x="337.5" y="58" style="font-family:'Liberation Sans',sans-serif;font-size:8.5px;stroke:#2a44d6;stroke-width:0.3px" textLength="24.5" lengthAdjust="spacingAndGlyphs">−1.8</text></g>
<rect x="113.5" y="178.7" width="136.3" height="132.1" fill="#fff" stroke="#222" stroke-width="0.9"/>
<path d="M119.3 178.7v2M119.3 310.8v-2M124.6 178.7v2M124.6 310.8v-2M128.9 178.7v2M128.9 310.8v-2M132.5 178.7v2M132.5 310.8v-2M135.7 178.7v2M135.7 310.8v-2M138.5 178.7v2M138.5 310.8v-2M141 178.7v3.5M141 310.8v-3.5M157.4 178.7v2M157.4 310.8v-2M167.1 178.7v2M167.1 310.8v-2M173.9 178.7v2M173.9 310.8v-2M179.2 178.7v2M179.2 310.8v-2M183.5 178.7v2M183.5 310.8v-2M187.1 178.7v2M187.1 310.8v-2M190.3 178.7v2M190.3 310.8v-2M193.1 178.7v2M193.1 310.8v-2M195.6 178.7v3.5M195.6 310.8v-3.5M212 178.7v2M212 310.8v-2M221.7 178.7v2M221.7 310.8v-2M228.5 178.7v2M228.5 310.8v-2M233.8 178.7v2M233.8 310.8v-2M238.1 178.7v2M238.1 310.8v-2M241.7 178.7v2M241.7 310.8v-2M244.9 178.7v2M244.9 310.8v-2M247.7 178.7v2M247.7 310.8v-2M113.5 186.4h2M249.8 186.4h-2M113.5 193.8h3.5M249.8 193.8h-3.5M113.5 201.1h2M249.8 201.1h-2M113.5 208.5h3.5M249.8 208.5h-3.5M113.5 215.9h2M249.8 215.9h-2M113.5 223.2h3.5M249.8 223.2h-3.5M113.5 230.6h2M249.8 230.6h-2M113.5 238h3.5M249.8 238h-3.5M113.5 245.4h2M249.8 245.4h-2M113.5 252.8h3.5M249.8 252.8h-3.5M113.5 260.1h2M249.8 260.1h-2M113.5 267.5h3.5M249.8 267.5h-3.5M113.5 274.9h2M249.8 274.9h-2M113.5 282.2h3.5M249.8 282.2h-3.5M113.5 289.6h2M249.8 289.6h-2M113.5 297h3.5M249.8 297h-3.5M113.5 304.4h2M249.8 304.4h-2" stroke="#222" stroke-width="0.7" fill="none"/>
<text x="108.5" y="181.6" text-anchor="end" style="font-family:'Liberation Serif','DejaVu Serif',serif;font-size:7.5px" fill="#222">16</text>
<text x="108.5" y="211.1" text-anchor="end" style="font-family:'Liberation Serif','DejaVu Serif',serif;font-size:7.5px" fill="#222">18</text>
<text x="108.5" y="240.6" text-anchor="end" style="font-family:'Liberation Serif','DejaVu Serif',serif;font-size:7.5px" fill="#222">20</text>
<text x="108.5" y="270.1" text-anchor="end" style="font-family:'Liberation Serif','DejaVu Serif',serif;font-size:7.5px" fill="#222">22</text>
<text x="108.5" y="299.6" text-anchor="end" style="font-family:'Liberation Serif','DejaVu Serif',serif;font-size:7.5px" fill="#222">24</text>
<text x="141.0" y="320" text-anchor="middle" style="font-family:'Liberation Serif','DejaVu Serif',serif;font-size:7.5px" fill="#222">0.1</text>
<text x="195.6" y="320" text-anchor="middle" style="font-family:'Liberation Serif','DejaVu Serif',serif;font-size:7.5px" fill="#222">1</text>
<text x="250.2" y="320" text-anchor="middle" style="font-family:'Liberation Serif','DejaVu Serif',serif;font-size:7.5px" fill="#222">10</text>
<text x="140.8" y="330" style="font-family:'Liberation Serif','DejaVu Serif',serif;font-size:9px" fill="#111" textLength="82" lengthAdjust="spacingAndGlyphs">Time since burst (d)</text>
<text transform="translate(96,245) rotate(-90)" text-anchor="middle" style="font-family:'Liberation Serif','DejaVu Serif',serif;font-size:7px;font-weight:bold" fill="#222" textLength="38" lengthAdjust="spacingAndGlyphs">Magnitude</text>
<line x1="199.3" y1="178.7" x2="199.3" y2="310.8" stroke="#555" stroke-width="0.7" stroke-dasharray="3 2"/>
<path d="M143.2 179.4L180 198.7L199 210.6L214 224L225 235L235 250L249.6 265.6" stroke="#d060d0" stroke-width="0.8" fill="none" stroke-dasharray="1.2 2.5"/>
<path d="M119.5 179.7L180 211.4L199 222.5L214 236L225 245.4L235 255L249.6 270" stroke="#111" stroke-width="0.8" fill="none" stroke-dasharray="1.2 2.5"/>
<path d="M113.5 193L180 225.6L199 241.5L210 250L224 262L240 280L249.6 292" stroke="#777" stroke-width="0.8" fill="none" stroke-dasharray="1.2 2.5"/>
<path d="M113.5 217L180 250L199 264L223 286L234 297L240 309" stroke="#e07050" stroke-width="0.8" fill="none" stroke-dasharray="1.2 2.5"/>
<path d="M113.5 225L162 250L180 259L199 273L216 289L235 309" stroke="#3050c0" stroke-width="0.8" fill="none" stroke-dasharray="1.2 2.5"/>
<circle cx="168.6" cy="190" r="1.6" fill="none" stroke="#c040c0" stroke-width="0.8"/>
<path d="M174.7 198.5h2v2h-2zM175.7 197.2v4.6M174.8 197.2h1.8M174.8 201.8h1.8" fill="#a040a0" stroke="#a040a0" stroke-width="0.5"/>
<path d="M173 209.6h2v2h-2zM174 208.3v4.6M173.1 208.3h1.8M173.1 212.9h1.8" fill="#111" stroke="#111" stroke-width="0.5"/>
<path d="M147 197.7h2v2h-2zM148 196.4v4.6M147.1 196.4h1.8M147.1 201h1.8" fill="#777" stroke="#777" stroke-width="0.5"/>
<path d="M147 201.7h2v2h-2zM148 200.4v4.6M147.1 200.4h1.8M147.1 205h1.8" fill="#777" stroke="#777" stroke-width="0.5"/>
<path d="M166.8 216h2v2h-2zM167.8 214.7v4.6M166.9 214.7h1.8M166.9 219.3h1.8" fill="#888" stroke="#888" stroke-width="0.5"/>
<path d="M174 221.5h2v2h-2zM175 220.2v4.6M174.1 220.2h1.8M174.1 224.8h1.8" fill="#888" stroke="#888" stroke-width="0.5"/>
<path d="M177 224.6h2v2h-2zM178 223.3v4.6M177.1 223.3h1.8M177.1 227.9h1.8" fill="#888" stroke="#888" stroke-width="0.5"/>
<path d="M197.7 210.4h2v2h-2zM198.7 209.1v4.6M197.8 209.1h1.8M197.8 213.7h1.8" fill="#903090" stroke="#903090" stroke-width="0.5"/>
<path d="M213 223.8h2v2h-2zM214 222.5v4.6M213.1 222.5h1.8M213.1 227.1h1.8" fill="#903090" stroke="#903090" stroke-width="0.5"/>
<path d="M197.7 223h2v2h-2zM198.7 221.7v4.6M197.8 221.7h1.8M197.8 226.3h1.8" fill="#111" stroke="#111" stroke-width="0.5"/>
<path d="M213 235.7h2v2h-2zM214 234.4v4.6M213.1 234.4h1.8M213.1 239h1.8" fill="#111" stroke="#111" stroke-width="0.5"/>
<path d="M195.6 229.4h2v2h-2zM196.6 228.1v4.6M195.7 228.1h1.8M195.7 232.7h1.8" fill="#888" stroke="#888" stroke-width="0.5"/>
<path d="M197.7 237.3h2v2h-2zM198.7 236v4.6M197.8 236h1.8M197.8 240.6h1.8" fill="#888" stroke="#888" stroke-width="0.5"/>
<path d="M213 246h2v2h-2zM214 244.7v4.6M213.1 244.7h1.8M213.1 249.3h1.8" fill="#888" stroke="#888" stroke-width="0.5"/>
<path d="M221.7 260.6h2v2h-2zM222.7 259.3v4.6M221.8 259.3h1.8M221.8 263.9h1.8" fill="#888" stroke="#888" stroke-width="0.5"/>
<path d="M228.8 264.6h2v2h-2zM229.8 263.3v4.6M228.9 263.3h1.8M228.9 267.9h1.8" fill="#888" stroke="#888" stroke-width="0.5"/>
<path d="M234.4 273.3h2v2h-2zM235.4 272v4.6M234.5 272h1.8M234.5 276.6h1.8" fill="#888" stroke="#888" stroke-width="0.5"/>
<path d="M242.3 283.6h2v2h-2zM243.3 282.3v4.6M242.4 282.3h1.8M242.4 286.9h1.8" fill="#888" stroke="#888" stroke-width="0.5"/>
<path d="M221.7 285.5h2v2h-2zM222.7 284.2v4.6M221.8 284.2h1.8M221.8 288.8h1.8" fill="#e06060" stroke="#e06060" stroke-width="0.5"/>
<path d="M192.4 265.4h2v2h-2zM193.4 264.1v4.6M192.5 264.1h1.8M192.5 268.7h1.8" fill="#2040c0" stroke="#2040c0" stroke-width="0.5"/>
<path d="M194 267.7h2v2h-2zM195 266.4v4.6M194.1 266.4h1.8M194.1 271h1.8" fill="#2040c0" stroke="#2040c0" stroke-width="0.5"/>
<path d="M197.2 271.7h2v2h-2zM198.2 270.4v4.6M197.3 270.4h1.8M197.3 275h1.8" fill="#2040c0" stroke="#2040c0" stroke-width="0.5"/>
<path d="M198.8 296.2h2v2h-2zM199.8 294.9v4.6M198.9 294.9h1.8M198.9 299.5h1.8" fill="#2040c0" stroke="#2040c0" stroke-width="0.5"/>
<path d="M199.6 262.2h2v2h-2zM200.6 260.9v4.6M199.7 260.9h1.8M199.7 265.5h1.8" fill="#e08080" stroke="#e08080" stroke-width="0.5"/>
<path d="M194.8 257.4h2v2h-2zM195.8 256.1v4.6M194.9 256.1h1.8M194.9 260.7h1.8" fill="#e08080" stroke="#e08080" stroke-width="0.5"/>
<path d="M194.8 300.2h2v2h-2zM195.8 298.9v4.6M194.9 298.9h1.8M194.9 303.5h1.8" fill="#30c030" stroke="#30c030" stroke-width="0.5"/>
<path d="M194 302.5h2v2h-2zM195 301.2v4.6M194.1 301.2h1.8M194.1 305.8h1.8" fill="#c02020" stroke="#c02020" stroke-width="0.5"/>
<rect x="121.9" y="266.6" width="40.6" height="36.8" fill="#fff" stroke="#c4c4c4" stroke-width="1.4"/>
<path d="M121.9 266.6V303.4H162.5" stroke="#666" stroke-width="1.1" fill="none"/>
<rect x="126.6" y="273.6" width="1.6" height="1.6" fill="#40d040"/>
<text x="130.4" y="276.6" fill="#40d040" style="font-family:'Liberation Serif','DejaVu Serif',serif;font-style:italic;font-weight:bold;font-size:7px">V</text>
<rect x="145.4" y="273.6" width="1.6" height="1.6" fill="#e07070"/>
<text x="148.8" y="276.6" fill="#e07070" style="font-family:'Liberation Serif','DejaVu Serif',serif;font-style:italic;font-weight:bold;font-size:7px">z</text>
<rect x="126.6" y="281.4" width="1.6" height="1.6" fill="#e03030"/>
<text x="130.4" y="284.4" fill="#e03030" style="font-family:'Liberation Serif','DejaVu Serif',serif;font-style:italic;font-weight:bold;font-size:7px">R</text>
<rect x="145.4" y="281.4" width="1.6" height="1.6" fill="#888"/>
<text x="148.8" y="284.4" fill="#888" style="font-family:'Liberation Serif','DejaVu Serif',serif;font-style:italic;font-weight:bold;font-size:7px">J</text>
<rect x="126.6" y="288.5" width="1.6" height="1.6" fill="#2040c0"/>
<text x="130.4" y="291.5" fill="#2040c0" style="font-family:'Liberation Serif','DejaVu Serif',serif;font-style:italic;font-weight:bold;font-size:7px">I<tspan font-size="4" dy="1.5">1</tspan></text>
<rect x="145.4" y="288.5" width="1.6" height="1.6" fill="#111"/>
<text x="148.8" y="291.5" fill="#111" style="font-family:'Liberation Serif','DejaVu Serif',serif;font-style:italic;font-weight:bold;font-size:7px">H</text>
<rect x="126.6" y="295.6" width="1.6" height="1.6" fill="#2040c0"/>
<text x="130.4" y="298.6" fill="#2040c0" style="font-family:'Liberation Serif','DejaVu Serif',serif;font-style:italic;font-weight:bold;font-size:7px">I<tspan font-size="4" dy="1.5">2</tspan></text>
<rect x="145.4" y="295.6" width="1.6" height="1.6" fill="#9040b0"/>
<text x="148.8" y="298.6" fill="#9040b0" style="font-family:'Liberation Serif','DejaVu Serif',serif;font-style:italic;font-weight:bold;font-size:7px">K<tspan font-size="4" dy="1.5">s</tspan></text>
<rect x="67.8" y="4.5" width="529.5" height="428.8" fill="none" stroke="#000" stroke-width="1.4"/>
<line x1="67.8" y1="339.5" x2="597.3" y2="339.5" stroke="#000" stroke-width="1.9"/>
<path d="M104.8 4.5v4.5M104.8 339.5V337.4M104.8 339.5v4.5M104.8 433.3v-4.5M126.5 4.5v4.5M126.5 339.5V337.4M126.5 339.5v4.5M126.5 433.3v-4.5M141.9 4.5v4.5M141.9 339.5V337.4M141.9 339.5v4.5M141.9 433.3v-4.5M153.8 4.5v4.5M153.8 339.5V337.4M153.8 339.5v4.5M153.8 433.3v-4.5M163.5 4.5v4.5M163.5 339.5V337.4M163.5 339.5v4.5M163.5 433.3v-4.5M171.7 4.5v4.5M171.7 339.5V337.4M171.7 339.5v4.5M171.7 433.3v-4.5M178.9 4.5v4.5M178.9 339.5V337.4M178.9 339.5v4.5M178.9 433.3v-4.5M185.2 4.5v4.5M185.2 339.5V337.4M185.2 339.5v4.5M185.2 433.3v-4.5M190.8 4.5v8M190.8 339.5V337.4M190.8 339.5v8M190.8 433.3v-8M227.8 4.5v4.5M227.8 339.5V337.4M227.8 339.5v4.5M227.8 433.3v-4.5M249.5 4.5v4.5M249.5 339.5V337.4M249.5 339.5v4.5M249.5 433.3v-4.5M264.9 4.5v4.5M264.9 339.5v-4.5M264.9 339.5v4.5M264.9 433.3v-4.5M276.8 4.5v4.5M276.8 339.5v-4.5M276.8 339.5v4.5M276.8 433.3v-4.5M286.5 4.5v4.5M286.5 339.5v-4.5M286.5 339.5v4.5M286.5 433.3v-4.5M294.7 4.5v4.5M294.7 339.5v-4.5M294.7 339.5v4.5M294.7 433.3v-4.5M301.9 4.5v4.5M301.9 339.5v-4.5M301.9 339.5v4.5M301.9 433.3v-4.5M308.2 4.5v4.5M308.2 339.5v-4.5M308.2 339.5v4.5M308.2 433.3v-4.5M313.8 4.5v8M313.8 339.5v-8M313.8 339.5v8M313.8 433.3v-8M350.8 4.5v4.5M350.8 339.5v-4.5M350.8 339.5v4.5M350.8 433.3v-4.5M372.5 4.5v4.5M372.5 339.5v-4.5M372.5 339.5v4.5M372.5 433.3v-4.5M387.9 4.5v4.5M387.9 339.5v-4.5M387.9 339.5v4.5M387.9 433.3v-4.5M399.8 4.5v4.5M399.8 339.5v-4.5M399.8 339.5v4.5M399.8 433.3v-4.5M409.5 4.5v4.5M409.5 339.5v-4.5M409.5 339.5v4.5M409.5 433.3v-4.5M417.7 4.5v4.5M417.7 339.5v-4.5M417.7 339.5v4.5M417.7 433.3v-4.5M424.9 4.5v4.5M424.9 339.5v-4.5M424.9 339.5v4.5M424.9 433.3v-4.5M431.2 4.5v4.5M431.2 339.5v-4.5M431.2 339.5v4.5M431.2 433.3v-4.5M436.8 4.5v8M436.8 339.5v-8M436.8 339.5v8M436.8 433.3v-8M473.8 4.5v4.5M473.8 339.5v-4.5M473.8 339.5v4.5M473.8 433.3v-4.5M495.5 4.5v4.5M495.5 339.5v-4.5M495.5 339.5v4.5M495.5 433.3v-4.5M510.9 4.5v4.5M510.9 339.5v-4.5M510.9 339.5v4.5M510.9 433.3v-4.5M522.8 4.5v4.5M522.8 339.5v-4.5M522.8 339.5v4.5M522.8 433.3v-4.5M532.5 4.5v4.5M532.5 339.5v-4.5M532.5 339.5v4.5M532.5 433.3v-4.5M540.7 4.5v4.5M540.7 339.5v-4.5M540.7 339.5v4.5M540.7 433.3v-4.5M547.9 4.5v4.5M547.9 339.5v-4.5M547.9 339.5v4.5M547.9 433.3v-4.5M554.2 4.5v4.5M554.2 339.5v-4.5M554.2 339.5v4.5M554.2 433.3v-4.5M559.8 4.5v8M559.8 339.5v-8M559.8 339.5v8M559.8 433.3v-8M67.8 13.9h9M597.3 13.9h-9M67.8 63.2h9M597.3 63.2h-9M67.8 112.6h9M597.3 112.6h-9M67.8 162h9M597.3 162h-9M67.8 211.3h9M597.3 211.3h-9M67.8 260.6h9M597.3 260.6h-9M67.8 310h9M597.3 310h-9M67.8 425.3h9M597.3 425.3h-9M67.8 405.8h9M597.3 405.8h-9M67.8 386.2h9M597.3 386.2h-9M67.8 366.7h9M597.3 366.7h-9M67.8 347.2h9M597.3 347.2h-9" stroke="#000" stroke-width="1" fill="none"/>
<text x="43.50" y="20.3" style="font-family:'Liberation Sans',sans-serif;font-weight:bold;font-size:11px" textLength="11.63" lengthAdjust="spacingAndGlyphs">-8</text>
<text x="43.50" y="69.6" style="font-family:'Liberation Sans',sans-serif;font-weight:bold;font-size:11px" textLength="12.69" lengthAdjust="spacingAndGlyphs">-9</text>
<text x="35.00" y="119.0" style="font-family:'Liberation Sans',sans-serif;font-weight:bold;font-size:11px" textLength="20.86" lengthAdjust="spacingAndGlyphs">-10</text>
<text x="35.00" y="168.4" style="font-family:'Liberation Sans',sans-serif;font-weight:bold;font-size:11px" textLength="19.87" lengthAdjust="spacingAndGlyphs">-11</text>
<text x="35.00" y="217.7" style="font-family:'Liberation Sans',sans-serif;font-weight:bold;font-size:11px" textLength="20.86" lengthAdjust="spacingAndGlyphs">-12</text>
<text x="35.00" y="267.0" style="font-family:'Liberation Sans',sans-serif;font-weight:bold;font-size:11px" textLength="20.86" lengthAdjust="spacingAndGlyphs">-13</text>
<text x="35.00" y="316.4" style="font-family:'Liberation Sans',sans-serif;font-weight:bold;font-size:11px" textLength="19.82" lengthAdjust="spacingAndGlyphs">-14</text>
<text x="50.50" y="353.2" style="font-family:'Liberation Sans',sans-serif;stroke:#000;stroke-width:0.35px;font-size:10.5px" textLength="9.14" lengthAdjust="spacingAndGlyphs">3</text>
<text x="35.50" y="373.7" style="font-family:'Liberation Sans',sans-serif;stroke:#000;stroke-width:0.35px;font-size:10.5px" textLength="19.69" lengthAdjust="spacingAndGlyphs">2.5</text>
<text x="51.50" y="392.0" style="font-family:'Liberation Sans',sans-serif;stroke:#000;stroke-width:0.35px;font-size:10.5px" textLength="8.64" lengthAdjust="spacingAndGlyphs">2</text>
<text x="36.00" y="411.8" style="font-family:'Liberation Sans',sans-serif;stroke:#000;stroke-width:0.35px;font-size:10.5px" textLength="18.93" lengthAdjust="spacingAndGlyphs">1.5</text>
<text x="53.00" y="431.3" style="font-family:'Liberation Sans',sans-serif;stroke:#000;stroke-width:0.35px;font-size:10.5px" textLength="5.85" lengthAdjust="spacingAndGlyphs">1</text>
<text x="47.00" y="451.8" style="font-family:'Liberation Sans',sans-serif;stroke:#000;stroke-width:0.35px;font-size:11px" textLength="34.00" lengthAdjust="spacingAndGlyphs">0.001</text>
<text x="175.00" y="451.9" style="font-family:'Liberation Sans',sans-serif;stroke:#000;stroke-width:0.35px;font-size:11px" textLength="24.81" lengthAdjust="spacingAndGlyphs">0.01</text>
<text x="302.00" y="452" style="font-family:'Liberation Sans',sans-serif;stroke:#000;stroke-width:0.35px;font-size:11px" textLength="17.00" lengthAdjust="spacingAndGlyphs">0.1</text>
<text x="432.50" y="451.6" style="font-family:'Liberation Sans',sans-serif;stroke:#000;stroke-width:0.35px;font-size:11px" textLength="6.73" lengthAdjust="spacingAndGlyphs">1</text>
<text x="552.50" y="451.6" style="font-family:'Liberation Sans',sans-serif;stroke:#000;stroke-width:0.35px;font-size:11px" textLength="15.78" lengthAdjust="spacingAndGlyphs">10</text>
<text x="255.00" y="469.3" style="font-family:'Liberation Sans',sans-serif;stroke:#000;stroke-width:0.35px;font-size:12.7px" textLength="115.01" lengthAdjust="spacingAndGlyphs">t(day from trigger)</text>
<text transform="translate(19.8,171.7) rotate(-90)" text-anchor="middle" style="font-family:'Liberation Serif','DejaVu Serif',serif;font-size:21.5px" textLength="162" lengthAdjust="spacingAndGlyphs">lg Flux (erg/cm<tspan font-size="14" dy="-7">2</tspan><tspan dy="7">s)</tspan></text>
<text transform="translate(27,386) rotate(-90)" text-anchor="middle" style="font-family:'Liberation Serif','DejaVu Serif',serif;font-size:13px">Γ</text>
</svg>
</body></html>
